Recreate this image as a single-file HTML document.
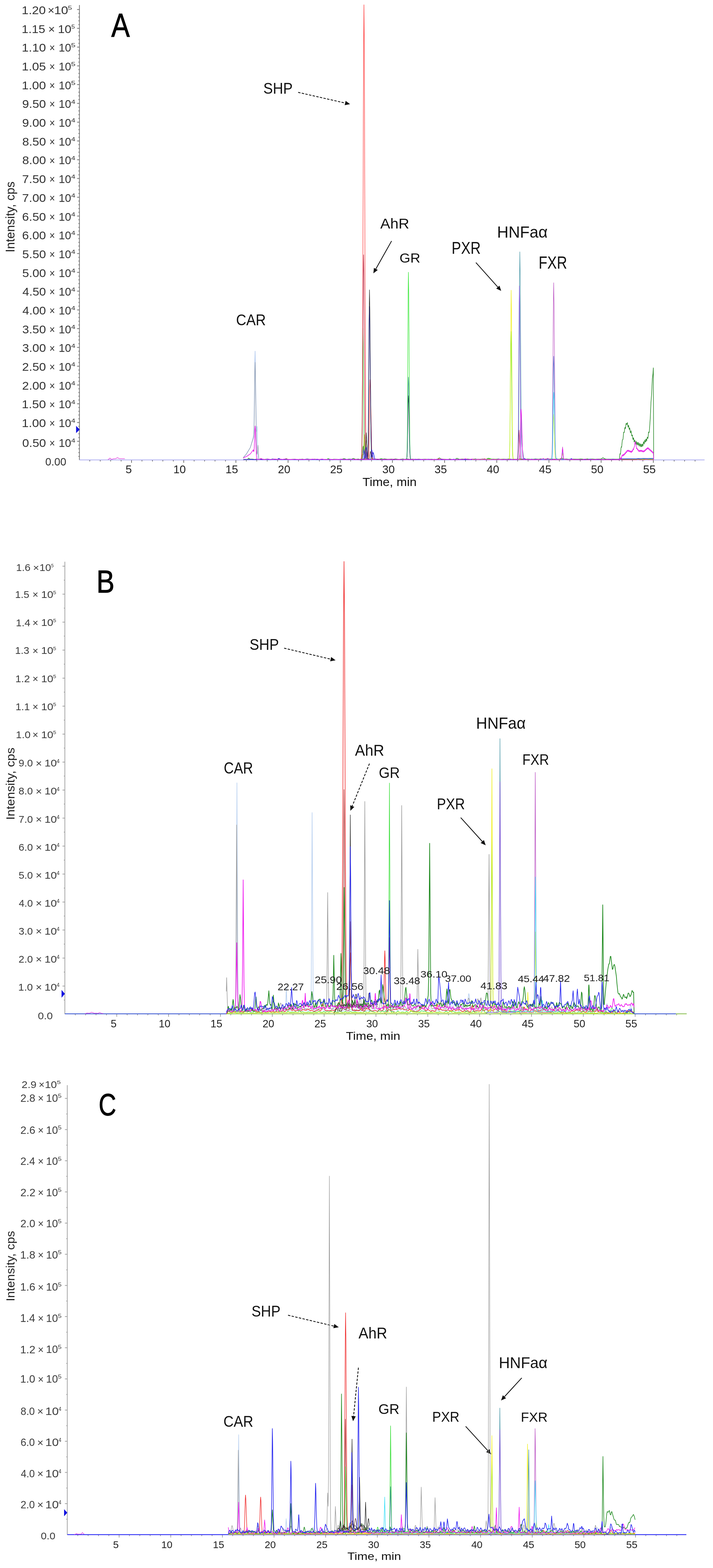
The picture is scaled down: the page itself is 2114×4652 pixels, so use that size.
<!DOCTYPE html>
<html><head><meta charset="utf-8"><title>Chromatograms</title>
<style>
html,body{margin:0;padding:0;background:#fff;overflow:hidden;width:2114px;height:4652px;}
svg{display:block;}
text{font-family:"Liberation Sans",Arial,sans-serif;}
.tk{font-family:"DejaVu Sans","Liberation Sans",sans-serif;}
</style></head><body>
<svg width="2114" height="4652" viewBox="0 0 2114 4652">
<rect width="2114" height="4652" fill="#fff"/>
<g stroke="#666" stroke-width="2">
<path d="M235.5 15V1365"/>
<path d="M228.5 1309.3H235.5M228.5 1253.6H235.5M228.5 1197.9H235.5M228.5 1142.2H235.5M228.5 1086.5H235.5M228.5 1030.8H235.5M228.5 975.1H235.5M228.5 919.4H235.5M228.5 863.7H235.5M228.5 808H235.5M228.5 752.3H235.5M228.5 696.6H235.5M228.5 641H235.5M228.5 585.3H235.5M228.5 529.6H235.5M228.5 473.9H235.5M228.5 418.2H235.5M228.5 362.5H235.5M228.5 306.8H235.5M228.5 251.1H235.5M228.5 195.4H235.5M228.5 139.7H235.5M228.5 84H235.5M228.5 28.3H235.5M232.5 1353.9H235.5M232.5 1342.7H235.5M232.5 1331.6H235.5M232.5 1320.4H235.5M232.5 1298.2H235.5M232.5 1287H235.5M232.5 1275.9H235.5M232.5 1264.7H235.5M232.5 1242.5H235.5M232.5 1231.3H235.5M232.5 1220.2H235.5M232.5 1209.1H235.5M232.5 1186.8H235.5M232.5 1175.6H235.5M232.5 1164.5H235.5M232.5 1153.4H235.5M232.5 1131.1H235.5M232.5 1119.9H235.5M232.5 1108.8H235.5M232.5 1097.7H235.5M232.5 1075.4H235.5M232.5 1064.2H235.5M232.5 1053.1H235.5M232.5 1042H235.5M232.5 1019.7H235.5M232.5 1008.5H235.5M232.5 997.4H235.5M232.5 986.3H235.5M232.5 964H235.5M232.5 952.9H235.5M232.5 941.7H235.5M232.5 930.6H235.5M232.5 908.3H235.5M232.5 897.2H235.5M232.5 886H235.5M232.5 874.9H235.5M232.5 852.6H235.5M232.5 841.5H235.5M232.5 830.3H235.5M232.5 819.2H235.5M232.5 796.9H235.5M232.5 785.8H235.5M232.5 774.6H235.5M232.5 763.5H235.5M232.5 741.2H235.5M232.5 730.1H235.5M232.5 718.9H235.5M232.5 707.8H235.5M232.5 685.5H235.5M232.5 674.4H235.5M232.5 663.2H235.5M232.5 652.1H235.5M232.5 629.8H235.5M232.5 618.7H235.5M232.5 607.5H235.5M232.5 596.4H235.5M232.5 574.1H235.5M232.5 563H235.5M232.5 551.8H235.5M232.5 540.7H235.5M232.5 518.4H235.5M232.5 507.3H235.5M232.5 496.1H235.5M232.5 485H235.5M232.5 462.7H235.5M232.5 451.6H235.5M232.5 440.4H235.5M232.5 429.3H235.5M232.5 407H235.5M232.5 395.9H235.5M232.5 384.8H235.5M232.5 373.6H235.5M232.5 351.3H235.5M232.5 340.2H235.5M232.5 329.1H235.5M232.5 317.9H235.5M232.5 295.6H235.5M232.5 284.5H235.5M232.5 273.4H235.5M232.5 262.2H235.5M232.5 239.9H235.5M232.5 228.8H235.5M232.5 217.7H235.5M232.5 206.5H235.5M232.5 184.2H235.5M232.5 173.1H235.5M232.5 162H235.5M232.5 150.8H235.5M232.5 128.6H235.5M232.5 117.4H235.5M232.5 106.3H235.5M232.5 95.1H235.5M232.5 72.9H235.5M232.5 61.7H235.5M232.5 50.6H235.5M232.5 39.4H235.5"/>
</g>
<path d="M390 1365V1373M544.7 1365V1373M699.4 1365V1373M854.1 1365V1373M1008.8 1365V1373M1163.5 1365V1373M1318.2 1365V1373M1472.9 1365V1373M1627.6 1365V1373M1782.3 1365V1373M1937 1365V1373M266.2 1365V1369M297.2 1365V1369M328.1 1365V1369M359.1 1365V1369M420.9 1365V1369M451.9 1365V1369M482.8 1365V1369M513.8 1365V1369M575.6 1365V1369M606.6 1365V1369M637.5 1365V1369M668.5 1365V1369M730.3 1365V1369M761.3 1365V1369M792.2 1365V1369M823.2 1365V1369M885 1365V1369M916 1365V1369M946.9 1365V1369M977.9 1365V1369M1039.7 1365V1369M1070.7 1365V1369M1101.6 1365V1369M1132.6 1365V1369M1194.4 1365V1369M1225.4 1365V1369M1256.3 1365V1369M1287.3 1365V1369M1349.1 1365V1369M1380.1 1365V1369M1411 1365V1369M1442 1365V1369M1503.8 1365V1369M1534.8 1365V1369M1565.7 1365V1369M1596.7 1365V1369M1658.5 1365V1369M1689.5 1365V1369M1720.4 1365V1369M1751.4 1365V1369M1813.2 1365V1369M1844.2 1365V1369M1875.1 1365V1369M1906.1 1365V1369M1967.9 1365V1369M1998.9 1365V1369M2029.8 1365V1369M2060.8 1365V1369" stroke="#666" stroke-width="2"/>
<path d="M235.5 1364.5H2089" stroke="#a4a4f0" stroke-width="2.2"/>
<g fill="#333"><text x="66" y="1325.8" font-size="33.5" textLength="70.4" lengthAdjust="spacingAndGlyphs">0.50</text><text x="146.4" y="1326" font-size="32.9" textLength="16.5" lengthAdjust="spacingAndGlyphs">×</text><text x="173.9" y="1325.8" font-size="33.5" textLength="37" lengthAdjust="spacingAndGlyphs">10</text><text x="211.1" y="1313.1" font-size="17.2" textLength="12.3" lengthAdjust="spacingAndGlyphs">4</text><text x="64.6" y="1267.1" font-size="33.5" textLength="71.7" lengthAdjust="spacingAndGlyphs">1.00</text><text x="146.4" y="1267.3" font-size="32.9" textLength="16.5" lengthAdjust="spacingAndGlyphs">×</text><text x="173.9" y="1267.1" font-size="33.5" textLength="37" lengthAdjust="spacingAndGlyphs">10</text><text x="211.1" y="1254.4" font-size="17.2" textLength="12.3" lengthAdjust="spacingAndGlyphs">4</text><text x="64.6" y="1211.4" font-size="33.5" textLength="71.7" lengthAdjust="spacingAndGlyphs">1.50</text><text x="146.4" y="1211.6" font-size="32.9" textLength="16.5" lengthAdjust="spacingAndGlyphs">×</text><text x="173.9" y="1211.4" font-size="33.5" textLength="37" lengthAdjust="spacingAndGlyphs">10</text><text x="211.1" y="1198.7" font-size="17.2" textLength="12.3" lengthAdjust="spacingAndGlyphs">4</text><text x="65.6" y="1155.7" font-size="33.5" textLength="70.7" lengthAdjust="spacingAndGlyphs">2.00</text><text x="146.4" y="1155.9" font-size="32.9" textLength="16.5" lengthAdjust="spacingAndGlyphs">×</text><text x="173.9" y="1155.7" font-size="33.5" textLength="37" lengthAdjust="spacingAndGlyphs">10</text><text x="211.1" y="1143" font-size="17.2" textLength="12.3" lengthAdjust="spacingAndGlyphs">4</text><text x="65.6" y="1100" font-size="33.5" textLength="70.7" lengthAdjust="spacingAndGlyphs">2.50</text><text x="146.4" y="1100.2" font-size="32.9" textLength="16.5" lengthAdjust="spacingAndGlyphs">×</text><text x="173.9" y="1100" font-size="33.5" textLength="37" lengthAdjust="spacingAndGlyphs">10</text><text x="211.1" y="1087.3" font-size="17.2" textLength="12.3" lengthAdjust="spacingAndGlyphs">4</text><text x="66" y="1044.3" font-size="33.5" textLength="70.3" lengthAdjust="spacingAndGlyphs">3.00</text><text x="146.4" y="1044.5" font-size="32.9" textLength="16.5" lengthAdjust="spacingAndGlyphs">×</text><text x="173.9" y="1044.3" font-size="33.5" textLength="37" lengthAdjust="spacingAndGlyphs">10</text><text x="211.1" y="1031.6" font-size="17.2" textLength="12.3" lengthAdjust="spacingAndGlyphs">4</text><text x="66" y="988.6" font-size="33.5" textLength="70.3" lengthAdjust="spacingAndGlyphs">3.50</text><text x="146.4" y="988.8" font-size="32.9" textLength="16.5" lengthAdjust="spacingAndGlyphs">×</text><text x="173.9" y="988.6" font-size="33.5" textLength="37" lengthAdjust="spacingAndGlyphs">10</text><text x="211.1" y="975.9" font-size="17.2" textLength="12.3" lengthAdjust="spacingAndGlyphs">4</text><text x="66.6" y="932.9" font-size="33.5" textLength="69.7" lengthAdjust="spacingAndGlyphs">4.00</text><text x="146.4" y="933.1" font-size="32.9" textLength="16.5" lengthAdjust="spacingAndGlyphs">×</text><text x="173.9" y="932.9" font-size="33.5" textLength="37" lengthAdjust="spacingAndGlyphs">10</text><text x="211.1" y="920.2" font-size="17.2" textLength="12.3" lengthAdjust="spacingAndGlyphs">4</text><text x="66.6" y="877.3" font-size="33.5" textLength="69.7" lengthAdjust="spacingAndGlyphs">4.50</text><text x="146.4" y="877.4" font-size="32.9" textLength="16.5" lengthAdjust="spacingAndGlyphs">×</text><text x="173.9" y="877.3" font-size="33.5" textLength="37" lengthAdjust="spacingAndGlyphs">10</text><text x="211.1" y="864.5" font-size="17.2" textLength="12.3" lengthAdjust="spacingAndGlyphs">4</text><text x="66" y="821.6" font-size="33.5" textLength="70.4" lengthAdjust="spacingAndGlyphs">5.00</text><text x="146.4" y="821.7" font-size="32.9" textLength="16.5" lengthAdjust="spacingAndGlyphs">×</text><text x="173.9" y="821.6" font-size="33.5" textLength="37" lengthAdjust="spacingAndGlyphs">10</text><text x="211.1" y="808.8" font-size="17.2" textLength="12.3" lengthAdjust="spacingAndGlyphs">4</text><text x="66" y="765.9" font-size="33.5" textLength="70.4" lengthAdjust="spacingAndGlyphs">5.50</text><text x="146.4" y="766" font-size="32.9" textLength="16.5" lengthAdjust="spacingAndGlyphs">×</text><text x="173.9" y="765.9" font-size="33.5" textLength="37" lengthAdjust="spacingAndGlyphs">10</text><text x="211.1" y="753.1" font-size="17.2" textLength="12.3" lengthAdjust="spacingAndGlyphs">4</text><text x="65.6" y="710.2" font-size="33.5" textLength="70.7" lengthAdjust="spacingAndGlyphs">6.00</text><text x="146.4" y="710.3" font-size="32.9" textLength="16.5" lengthAdjust="spacingAndGlyphs">×</text><text x="173.9" y="710.2" font-size="33.5" textLength="37" lengthAdjust="spacingAndGlyphs">10</text><text x="211.1" y="697.4" font-size="17.2" textLength="12.3" lengthAdjust="spacingAndGlyphs">4</text><text x="65.6" y="654.5" font-size="33.5" textLength="70.7" lengthAdjust="spacingAndGlyphs">6.50</text><text x="146.4" y="654.6" font-size="32.9" textLength="16.5" lengthAdjust="spacingAndGlyphs">×</text><text x="173.9" y="654.5" font-size="33.5" textLength="37" lengthAdjust="spacingAndGlyphs">10</text><text x="211.1" y="641.8" font-size="17.2" textLength="12.3" lengthAdjust="spacingAndGlyphs">4</text><text x="65.6" y="598.8" font-size="33.5" textLength="70.7" lengthAdjust="spacingAndGlyphs">7.00</text><text x="146.4" y="598.9" font-size="32.9" textLength="16.5" lengthAdjust="spacingAndGlyphs">×</text><text x="173.9" y="598.8" font-size="33.5" textLength="37" lengthAdjust="spacingAndGlyphs">10</text><text x="211.1" y="586.1" font-size="17.2" textLength="12.3" lengthAdjust="spacingAndGlyphs">4</text><text x="65.6" y="543.1" font-size="33.5" textLength="70.7" lengthAdjust="spacingAndGlyphs">7.50</text><text x="146.4" y="543.2" font-size="32.9" textLength="16.5" lengthAdjust="spacingAndGlyphs">×</text><text x="173.9" y="543.1" font-size="33.5" textLength="37" lengthAdjust="spacingAndGlyphs">10</text><text x="211.1" y="530.4" font-size="17.2" textLength="12.3" lengthAdjust="spacingAndGlyphs">4</text><text x="65.9" y="487.4" font-size="33.5" textLength="70.4" lengthAdjust="spacingAndGlyphs">8.00</text><text x="146.4" y="487.5" font-size="32.9" textLength="16.5" lengthAdjust="spacingAndGlyphs">×</text><text x="173.9" y="487.4" font-size="33.5" textLength="37" lengthAdjust="spacingAndGlyphs">10</text><text x="211.1" y="474.7" font-size="17.2" textLength="12.3" lengthAdjust="spacingAndGlyphs">4</text><text x="65.9" y="431.7" font-size="33.5" textLength="70.4" lengthAdjust="spacingAndGlyphs">8.50</text><text x="146.4" y="431.8" font-size="32.9" textLength="16.5" lengthAdjust="spacingAndGlyphs">×</text><text x="173.9" y="431.7" font-size="33.5" textLength="37" lengthAdjust="spacingAndGlyphs">10</text><text x="211.1" y="419" font-size="17.2" textLength="12.3" lengthAdjust="spacingAndGlyphs">4</text><text x="65.7" y="376" font-size="33.5" textLength="70.6" lengthAdjust="spacingAndGlyphs">9.00</text><text x="146.4" y="376.1" font-size="32.9" textLength="16.5" lengthAdjust="spacingAndGlyphs">×</text><text x="173.9" y="376" font-size="33.5" textLength="37" lengthAdjust="spacingAndGlyphs">10</text><text x="211.1" y="363.3" font-size="17.2" textLength="12.3" lengthAdjust="spacingAndGlyphs">4</text><text x="65.7" y="320.3" font-size="33.5" textLength="70.6" lengthAdjust="spacingAndGlyphs">9.50</text><text x="146.4" y="320.4" font-size="32.9" textLength="16.5" lengthAdjust="spacingAndGlyphs">×</text><text x="173.9" y="320.3" font-size="33.5" textLength="37" lengthAdjust="spacingAndGlyphs">10</text><text x="211.1" y="307.6" font-size="17.2" textLength="12.3" lengthAdjust="spacingAndGlyphs">4</text><text x="64.6" y="264.6" font-size="33.5" textLength="71.7" lengthAdjust="spacingAndGlyphs">1.00</text><text x="146.4" y="264.8" font-size="32.9" textLength="16.5" lengthAdjust="spacingAndGlyphs">×</text><text x="173.9" y="264.6" font-size="33.5" textLength="37" lengthAdjust="spacingAndGlyphs">10</text><text x="210.7" y="251.7" font-size="17" textLength="13.1" lengthAdjust="spacingAndGlyphs">5</text><text x="64.6" y="208.9" font-size="33.5" textLength="71.8" lengthAdjust="spacingAndGlyphs">1.05</text><text x="146.4" y="209.1" font-size="32.9" textLength="16.5" lengthAdjust="spacingAndGlyphs">×</text><text x="173.9" y="208.9" font-size="33.5" textLength="37" lengthAdjust="spacingAndGlyphs">10</text><text x="210.7" y="196" font-size="17" textLength="13.1" lengthAdjust="spacingAndGlyphs">5</text><text x="64.6" y="153.2" font-size="33.5" textLength="71.7" lengthAdjust="spacingAndGlyphs">1.10</text><text x="146.4" y="153.4" font-size="32.9" textLength="16.5" lengthAdjust="spacingAndGlyphs">×</text><text x="173.9" y="153.2" font-size="33.5" textLength="37" lengthAdjust="spacingAndGlyphs">10</text><text x="210.7" y="140.3" font-size="17" textLength="13.1" lengthAdjust="spacingAndGlyphs">5</text><text x="64.3" y="97.5" font-size="34" textLength="69.8" lengthAdjust="spacingAndGlyphs">1.15</text><text x="143" y="97.7" font-size="32.9" textLength="19.9" lengthAdjust="spacingAndGlyphs">×</text><text x="171.7" y="97.5" font-size="33.5" textLength="39.9" lengthAdjust="spacingAndGlyphs">10</text><text x="211.4" y="84.6" font-size="17" textLength="10.7" lengthAdjust="spacingAndGlyphs">5</text><text x="64.3" y="41.8" font-size="33.5" textLength="71.3" lengthAdjust="spacingAndGlyphs">1.20</text><text x="141.5" y="42" font-size="32.9" textLength="19.9" lengthAdjust="spacingAndGlyphs">×</text><text x="160.6" y="41.8" font-size="33.5" textLength="41.5" lengthAdjust="spacingAndGlyphs">10</text><text x="201.3" y="28.9" font-size="17" textLength="12.4" lengthAdjust="spacingAndGlyphs">5</text><text x="134.3" y="1380.6" font-size="32.2" textLength="62.3" lengthAdjust="spacingAndGlyphs">0.00</text></g>
<g fill="#222"><text x="372.2" y="1403.9" font-size="33.7" textLength="18.7" lengthAdjust="spacingAndGlyphs">5</text><text x="514.1" y="1403.9" font-size="33.2" textLength="36.9" lengthAdjust="spacingAndGlyphs">10</text><text x="668.6" y="1403.9" font-size="33.7" textLength="37.5" lengthAdjust="spacingAndGlyphs">15</text><text x="824" y="1403.9" font-size="33.2" textLength="36.9" lengthAdjust="spacingAndGlyphs">20</text><text x="978.7" y="1403.9" font-size="33.2" textLength="36.9" lengthAdjust="spacingAndGlyphs">25</text><text x="1133.6" y="1403.9" font-size="33.2" textLength="36.9" lengthAdjust="spacingAndGlyphs">30</text><text x="1288.3" y="1403.9" font-size="33.2" textLength="36.9" lengthAdjust="spacingAndGlyphs">35</text><text x="1443.2" y="1403.9" font-size="33.2" textLength="36.9" lengthAdjust="spacingAndGlyphs">40</text><text x="1597.7" y="1403.9" font-size="33.7" textLength="37.5" lengthAdjust="spacingAndGlyphs">45</text><text x="1752.3" y="1403.9" font-size="33.2" textLength="36.9" lengthAdjust="spacingAndGlyphs">50</text><text x="1906.8" y="1403.9" font-size="33.7" textLength="37.5" lengthAdjust="spacingAndGlyphs">55</text></g>
<text x="1074.8" y="1441.9" font-size="34.9" textLength="160.5" lengthAdjust="spacingAndGlyphs" fill="#111">Time, min</text>
<g transform="translate(44,746) rotate(-90)"><text x="-2.8" y="-0.7" font-size="36.8" textLength="210.4" lengthAdjust="spacingAndGlyphs" fill="#222">Intensity, cps</text></g>
<path d="M225.6 1263.6L236.4 1274.3L225.6 1285Z" fill="#1010e0"/>
<text x="330.1" y="108.7" font-size="98" textLength="54.8" lengthAdjust="spacingAndGlyphs" fill="#000" stroke="#000" stroke-width="1.4">A</text>
<text x="780.7" y="277.9" font-size="46.4" textLength="86.9" lengthAdjust="spacingAndGlyphs" fill="#111">SHP</text>
<text x="1127.5" y="678.4" font-size="42.5" textLength="86" lengthAdjust="spacingAndGlyphs" fill="#111">AhR</text>
<text x="1184.5" y="779" font-size="37.9" textLength="61.8" lengthAdjust="spacingAndGlyphs" fill="#111">GR</text>
<text x="1339.1" y="753.4" font-size="50.6" textLength="86.2" lengthAdjust="spacingAndGlyphs" fill="#111">PXR</text>
<text x="1473.7" y="705.4" font-size="47.7" textLength="149.9" lengthAdjust="spacingAndGlyphs" fill="#111">HNFaα</text>
<text x="1597.1" y="797.4" font-size="52.1" textLength="84.3" lengthAdjust="spacingAndGlyphs" fill="#111">FXR</text>
<text x="699.9" y="964.9" font-size="46.8" textLength="88.4" lengthAdjust="spacingAndGlyphs" fill="#111">CAR</text>
<path d="M884 274L1023.4 305.7" stroke="#111" stroke-width="2.4" stroke-dasharray="7 4"/><path d="M1038 309L1021.9 312L1024.8 299.3Z" fill="#111"/>
<path d="M1161 715L1114.4 797.9" stroke="#111" stroke-width="2.4"/><path d="M1107 811L1108.7 794.7L1120 801.1Z" fill="#111"/>
<path d="M1411 779L1476 851.8" stroke="#111" stroke-width="2.4"/><path d="M1486 863L1471.2 856.1L1480.9 847.5Z" fill="#111"/>
<g fill="none" stroke-linejoin="round"><path d="M320 1363.4l3 -1.3l3 -3.1l3 3.1l2 0.8l5 -1.6l7 -0.5l5 -3.2l5 2.7l2 0.4l15 -0" stroke="#e040e0" stroke-width="1.6"/>
<path d="M721.1 1357.9l9 -11l12 -19l8 -27.3l2 -10.7l1 -23.4l2.5 -199.2l0.8 -25.4l3.7 238.8l0.7 -2.4l0.6 -11l0.7 -2.1l2 74.7l1 19.7l1 3l1 0.3l5 0.1l6 -1l10 1.1l2 -0.8l2 -1.9l3 2.3l2 0.5l6 -0.1l5 -2.6l5 2.1l4 0.6l11 -0.7l10 0.6l7 -1.1l10 1.2l7 -0.4l11 0.4l7 -0.5l7 0.4l5 -0.9l10 1.1l3 -0.3l4 -2.2l2 -0.5l6 2.6l7 -0.8l9 1.2l28 -0.4l17 0.4l5 -0.6l6 0.6l22 -0.5l13 0.5l5 -0.8l9 0.8l6 -0.9l6 0.9l8 -0.7l5 0.7l6 0l7 -1.1l8 1.1l26 -0.1l7 -0.9l10 0.9l13 -0l5 -0.7l6 0.8l6 -0.4l21 0.4l4 -0.5l7 0.4l7 -0.7l8 0.7l8 -0.3l12 0.4l3 -0.2l4 -2l5 1.9l2 0.2l7 -1l11 1.1l35 0l4 -1.1l6 1.2l14 -0.5l13 0.5l7 -1.1l11 1.1l14 -0.5l18 0.5l8 -1l9 0.9l8 -0l5 -0.7l5 0.7l9 0.1l8 -1.1l8 1l16 -0.6l16 0.6l4 -0.5l4 -2.4l5 2.6l4 0.3l8 -0.1l6 -0.7l8 0.7l4 -0.8l6 0.9l14 -0l7 -0.6l9 0.6l14 -0.6l20 0.6l6 -0.7l4 0.7l7 0.1l9 -1l10 1l6 -0.6l5 0.6l9 -0l5 -0.6l7 0.7l27 0l6 -0.8l7 0.7l5 -0.6l5 0.6l24 0l9 -1l11 1l22 0l6 -0.4l14 0.4l6 -0.9l6 0.9l12 0.1l9 -1.1l8 1.1l6 -0l5 -1l8 1.1l13 -0.1l5 -1.1l8 1.1l7 -1l9 0.9l7 -1l10 1.1l8 -0.1l6 -1l7 1l6 -0.6l5 0.4" stroke="#b0c8ee" stroke-width="1.8"/>
<path d="M721.1 1357.9l9 -9.8l12 -20.1l10 -31.1l1 -16.3l1 -48.9l1.6 -134.5l0.8 -22.2l3.7 241.6l1 24.1l1 7.2l2.7 -26.9l2.3 34.4l1 6l1 1.1l5 0.7l25 0.1" stroke="#8a96a8" stroke-width="1.3"/>
<path d="M721.1 1363.4l4 -0.8l14 0.5l5 -0.8l7 0.8l31 -0l7 -1l8 1l40 -0.4l26 0.4l9 -0.8l12 0.8l5 -0.8l5 0.8l27 -0.4l46 0.4l3 -0.6l2 -2.2l1 -0.4l3 2.4l3 0.7l6 -0.1l5 -0.8l7 0.8l13 0l4 -0.8l5 0.7l11 0l4 -1.1l5 1.1l31 -0.2l1 -1.5l1 -10.6l1 -44.5l2.9 -332.3l0.8 45.7l2.2 266.3l1 54.6l1 17.8l1 3.9l1 0.5l4 -0.3l8 0.7l8 -0l5 -0.7l5 0.7l9 0l3 -0.4l5 -2l8 2.1l4 0.3l9 -0.5l5 0.5l13 -0.4l15 0.4l5 -1.1l7 1.1l8 -0.1l1 -0.6l1 -4.2l1 -22.1l1 -75.7l2.1 -387.3l0.8 -65.2l1 65.1l3.1 432.9l1 40.8l1 12.7l1 3l1 0.6l5 0.2l13 -0.5l7 0.5l18 -0.5l15 0.5l5 -0.6l12 0.6l5 -0.9l6 0.9l18 -0.6l8 0.5l37 0l7 -0.9l6 0.8l13 0l4 -0.1l5 -1l9 1.1l7 -0.4l23 0.4l4 -0.5l4 -2.2l2 -0.4l6 2.4l3 0.5l7 -0.5l13 0.6l28 -0.4l1 -2.8l1 -15l1 -51.7l2.1 -264.7l0.8 -44.6l1 44.3l3.1 295.5l1 28.1l1 8.8l1 2l2 0.4l19 -0l6 -0.7l6 0.7l9 0l5 -0.8l4 0.7l6 0l9 -1.1l12 1.1l11 -0.5l11 0.5l7 -1l9 1l10 -0l6 -0.6l17 0.6l7 -1l8 1l27 -0.4l19 0.4l5 -0.7l4 0.7l9 0l7 -1l6 1l49 -0l5 -0.6l6 0.6l36 0l8 -0.7l9 0.7l12 -0l4 -0.5l6 0.5l12 -0.4l11 0.5l7 -0.9l10 0.9" stroke="#3ae83a" stroke-width="1.5"/>
<path d="M721.1 1364l12 -0.9l1 -0.4l3 -3.4l5 3.3l6 -0.5l8 0.9l5 -0.9l6 1l7 -1.3l8 1.3l14 -0.5l6 0.4l5 -0.6l10 0.7l9 -1.3l8 1.2l9 0.1l2 -0.4l3 -2.3l5 2.4l3 0.3l11 -0.6l24 0.6l5 -0.9l7 0.8l8 -0.6l18 0.6l4 -0.8l6 0.8l15 -0.4l15 0.4l6 -1.1l5 1.1l17 -0.4l14 0.4l3 -0.3l6 -2.2l6 2l4 0.4l6 -0.9l6 0.5l5 -2.6l7 2.9l8 -1l5 1l4 0.1l1 -0.3l1 -1.5l1 -5.3l2.1 -27.3l0.8 -4.7l1.1 4.1l3 26.1l1 1.5l2.2 -14.3l0.8 -2.4l0.9 3l3.1 18.1l1 2.1l2 0.9l9 -0.7l6 0.6l8 -0.6l8 0.5l6 -0.9l6 0.6l5 -1l8 1.3l13 -0.6l6 0.5l5 -1l7 1.1l11 0.1l4 -1.2l6 1.2l6 -1.2l10 1.3l8 -0.7l5 0.7l6 0l6 -0.9l6 0.9l13 -0.6l10 0.6l9 -0.5l4 0.5l11 0l3 -0.5l5 -3.8l2 0.5l5 3.1l14 0.7l6 -0.1l4 -1.3l5 1.3l11 -0l2 -0.6l3 -2.5l1 -0.2l5 2.7l3 0.5l7 -0.8l7 0.8l9 -0.8l7 0.7l12 0l4 -1.4l4 1.4l11 -0l7 -1l10 1l2 -0.4l4 -2.8l6 2.9l3 0.4l6 -0.7l8 0.6l5 -0.7l7 0.7l10 -0.5l10 0.5l7 -1.1l8 1.1l21 -0.1l4 -0.9l7 1.1l11 -0l4 -1l5 1l12 -0.1l6 -1l9 1l7 -1.2l7 1.2l5 -0.1l6 -1.1l9 1.1l5 -1.3l6 1.3l6 -0.3l10 0.5l4 -0.9l4 -3l2 0.6l4 2.7l3 0.4l5 -0.8l5 0.8l15 -0.4l15 0.4l8 -0.9l7 0.8l8 0.1l4 -1.2l5 1.2l8 -0.7l11 0.7l7 -0.7l9 0.3l6 -3.8l2 0.4l5 2.8l4 0.9l37 -0l1 4.5l2 -20.8l1 1.6l1 -3.9l1 -13.2l1 -5.3l1 1.6l2 -20.8l1 -1.9l1 -0.2l2 -21.6l1 1l1 -0.8l1 -10.7l1 -4.1l1 4.1l1 -4.6l1 -10.6l1 -0.4l1 3.3l2 -5.9l2 13.7l1 -5l1 0.2l1 9.5l1 2l1 -4.5l2 14.5l1 -1.7l1 -4.3l2 15.4l1 -2.7l1 0.1l1 10l1 3.4l1 -5.4l1 2.9l1 9.3l1 -0.8l1 -4.6l2 11.4l2 -8.3l1 7.6l1 2.8l1 -6.8l1 0.3l1 7.8l1 -1.3l1 -6.5l2 11l2 -8.4l2 10.4l1 -6.8l1 -1.1l1 7.7l1 -0.4l1 -7.4l1 0.8l1 5l2 -13.1l2 6.9l1 -8.1l1 -3.8l1 6.3l1 -0.6l1 -8.6l1 0.3l1 6l2 -12l1 3.4l1 0.4l2 -19l1 2.4l1 -3.1l1 -13l2 -28.8l2 -45.5l2 -25.4l2 -44.4l2 -16.3l1 -16.1l1 271.1" stroke="#2a8a2a" stroke-width="1.7"/>
<path d="M721.1 1364l9 -1.3l6 0.5l18 0l4 -0.7l4 0.7l12 0l6 -0.8l6 0.7l19 0l9 -0.9l10 0.9l6 -0.6l5 0.6l11 -0l5 -0.8l8 0.8l20 -0.4l26 0.4l5 -0.6l6 0.6l24 -0l7 -0.5l24 0.6l7 -0.6l6 0.6l11 -0.5l8 0.5l21 -0.4l24 0.4l6 -0.8l4 0.7l8 0.1l3 -0.2l1 -0.6l1 -2.8l1 -10.7l1 -33.7l1 -86.2l1 -176.4l2.8 -880l1.2 -158.5l1.1 135.5l2 656.2l2 437.1l1 78l1 29.7l1 9.1l1 2.2l3 0.7l1 -1.6l1 -9.2l1 -32.2l2.1 -165.5l0.8 -27.9l1.2 27.9l3.9 183.6l1 15.9l1 6.7l1 2.3l1 0.7l63 0.2l5 -0.5l3 0.5l9 0l7 -0.9l6 0.9l36 0l9 -0.9l9 0.9l11 -0.7l9 0.7l21 0l3 -0.7l3 -2.3l5 2.7l4 0.3l11 -0l6 -0.6l10 0.6l6 -0.7l7 0.7l13 0.1l5 -0.7l5 0.7l13 -0.5l19 0.5l5 -0.7l5 0.6l18 0l2 -0.4l2 -2.2l1 -0.2l3 2.4l3 0.4l7 -0l5 -0.7l7 0.7l18 -0l6 -0.7l10 0.7l17 -0l7 -0.6l9 0.7l10 -0.4l10 0.4l53 0l5 -0.9l6 1l49 -0l7 -0.7l12 0.7l67 0l8 -0.5l9 0.5l7 -0.4l8 0.4l53 0l5 -0.9l7 0.9l42 -0l4 -0.8l5 0.8l13 0l7 -1l6 0.9l16 0.1" stroke="#ff3030" stroke-width="1.4"/>
<path d="M1060 1364l7 -1l3 -1.4l1 -1.1l1 -5.2l1 -19.6l1 -55.2l1 -114.7l2 -338.5l1 -71.3l1 71.4l3 453.7l1 55.5l1 19.9l1 5.4l1 1.1l24 0.2" stroke="#b03050" stroke-width="1.3"/>
<path d="M721.1 1364l5 -1l13 0.3l6 -0.6l4 0.6l11 0l8 -0.8l9 0.8l18 -0.4l7 0.4l8 -1l11 1.1l2 -0.3l3 -2.9l1 -0.3l4 2.9l4 0.6l12 -0.7l9 0.7l8 -0.6l8 0.6l30 0l4 -0.7l6 0.7l16 -0.5l10 0.5l33 -0.4l17 0.4l7 -0.9l9 0.8l5 -1l9 1l6 -0.4l10 0.4l5 -1l5 1l33 -0.1l2 -1.4l1 -4.1l2.2 -24.8l0.8 -3.8l3.1 29.9l1 3.4l1 0.7l1 -0.8l1 -5.6l1 -24.2l1 -70.7l2.1 -299.2l0.8 -53.4l1.1 36.1l3 283.6l2 104.1l1 18.1l1 5.3l3 -14.2l1.2 2.6l2.8 13l1 2.9l2 2.3l3 0.3l5 -0.7l7 0.8l42 0l4 -0.5l18 0.5l9 -0.9l10 0.9l35 0l7 -0.5l8 0.5l9 -1.1l9 1.1l9 -0.9l9 0.9l42 0l6 -1l8 1l53 -0l7 -0.8l7 0.8l11 0.1l6 -0.9l6 0.8l17 -0.4l11 0.4l7 -0.9l8 0.9l5 -0.1l3 -0.8l4 0.8l47 -0l4 -0.5l5 -2.4l7 2.6l5 0.3l6 -0.1l4 -1.1l6 1.1l6 -1l5 0.9l5 0.1l5 -1.1l6 1.2l28 -0l4 -0.6l6 0.6l11 -0.4l11 0.5l7 -0.9l6 0.8l7 0.1l2 -0.5l2 -2.2l1 -0.2l4 2.7l3 0.3l40 -0l8 -1.1l8 1.1l9 -0.4l30 0.4l7 -1l8 0.8l5 -0.8l9 0.9l10 -0.9l5 -1.2l47 -0.4l6 -0.5l6 0.3l8 -0.7l11 0.4l18 -0.4l1 0.2l1 1.6" stroke="#2828e8" stroke-width="1.7"/>
<path d="M1070 1364l10 -0.8l1 -0.3l1 -2l1 -8.5l3 -68.5l3 68.2l1 7.1l1 -6.5l1 -36.2l1 -102.4l1.7 -295.3l0.8 -59l1.1 59.2l3.4 381.9l1 40l1 15.7l1 4.9l1 1.2l2 0.3l90 0l9 -0.3l1 -1.2l1 -6.8l1 -24.3l2.2 -134.3l0.8 -22.2l1 24.5l2 110.3l1 33.8l1 14.7l1 4.6l1 1.1l12 0.2" stroke="#202020" stroke-width="1.3"/>
<path d="M1065 1363.6l2 -0.9l4 0.3l1 -0.7l1 -3.9l2 -14.5l1.2 5.8l0.8 1.3l3 -61.9l0.8 8.7l2.2 52.6l1 9.4l1 2.5l8 0.9l22 0" stroke="#a8a020" stroke-width="1.4"/>
<path d="M1065 1364l7 -0.9l4 -1.2l5 1.1l1 -0.9l1 -5.1l3 -55l0.9 7.2l2.1 38.7l1 10l1 3.6l1 0.5l2 -1l1 -2.2l3 -19.9l1 2.9l2 13.5l2 6.8l2 0.9l4 -1.3l6 1.4" stroke="#5a4a3a" stroke-width="1.4"/>
<path d="M1065 1364l9 -1l1 -0.3l1 -1.8l3 -26.9l3 26.2l1 -3.1l2.5 -31.1l0.8 4.3l1.8 23.2l1 6.6l1 1.8l7 0.8l1 -0.6l1 -3l3 -25.1l1 2.9l2 14.8l2 9.3l2 2l6 0.2" stroke="#3030e0" stroke-width="1.4"/>
<path d="M1190 1364l6 -0.8l9 -0.2l1 -1.6l1 -8.9l1 -31.4l2.2 -173.4l0.8 -28.7l1 28.7l2 136.2l1 46.2l1 22.2l1 7.9l1 2l12 1.1" stroke="#3a8a9a" stroke-width="1.3"/>
<path d="M1400 1364l6 -1.5l7 0.7l28 -0l6 -0.6l15 0.6l5 -0.6l5 0.6l35 0l2 -0.1l1 -1.2l1 -8.3l1 -36.3l3.5 -456.3l1 59l2.5 351.1l1 61.7l1 22.8l1 6.2l1 1.2l2 0.2l30 -0l4 -0.4l17 0.4l7 -0.5l7 0.5l42 0l3 -0.5l1 -2.3l1 -8.5l1 -22.1l2.1 -85l0.9 -15.8l1.1 15.8l2.9 92.7l1 15.6l1 6.9l1 2.4l2 0.8l6 -0.9l8 0.5l1 -1.5l3 -17.2l3 17.3l1 1.6l20 0.3l5 -0.8l3 0.6" stroke="#f0f020" stroke-width="1.5"/>
<path d="M1490 1364l6 -0.8l38 -0.1l1 -0.6l1 -4.1l1 -20.3l1 -68.2l2.5 -449.1l0.8 -73.7l1 68.2l2.7 408.5l1 64.4l1 25.3l1 10.5l4 29.5l1 4.4l2 4.2l2 1l2 0.1l24 -0l8 -0.6l9 0.6" stroke="#4a98a8" stroke-width="1.4"/>
<path d="M1490 1364l6 -0.8l21 -0l4 -0.9l4 0.8l8 -0l1 -0.9l1 -5.8l1 -25.5l1 -76.2l2.2 -346.1l0.8 -60.5l1 60.5l3 384.9l1 47.1l1 16.9l1 4.6l1 0.9l1 0.1l51 0.1" stroke="#7848e0" stroke-width="1.3"/>
<path d="M1520 1364l6 -0.8l7 -0l1 -0.3l1 -2.1l1 -9.3l3 -75.4l3 74.5l1 9.5l1 2.5l1 0.5l15 0.2" stroke="#a02860" stroke-width="1.3"/>
<path d="M1600 1364l6 -0.8l28 -0.1l1 -0.6l1 -3.5l1 -15.9l1 -50.9l2.7 -391.7l0.9 -61.6l1.1 61.6l3.3 391.7l1 45.2l1 18.2l1 5.8l1 1.5l7 0.3l7 -0.7l1 -2.1l1 -8.7l2 -25.7l2 25.8l1 8.8l1 2.3l28 0.3" stroke="#c060c8" stroke-width="1.5"/>
<path d="M1600 1364l13 -1.7l6 0.8l15 -0l1 -0.3l1 -2.1l1 -9.3l1 -29.7l2.7 -228.8l0.9 -36l1.1 36l3.3 228.4l1 25.7l1 9.6l1 2.6l4 3.2l2 0.6l45 0.1" stroke="#4878d0" stroke-width="1.3"/>
<path d="M1600 1364l6 -0.8l29 -0.1l1 -0.7l1 -3.4l1 -12.7l1 -32.8l2.1 -126.1l0.9 -23.4l1.1 23.4l2.9 137.6l1 23.1l1 10.2l1 3.6l2 1.2l13 -0.3l1 -1.7l1 -6.4l2 -18.7l2 18.8l1 6.4l1 1.7l28 0.3" stroke="#40e0f8" stroke-width="1.3"/>
<path d="M721.1 1359.8l4 -3.2l6 -2.4l11 -7.4l9 -12.2l1 5.6l1 -2l1 -14.8l1.5 -47.9l0.9 -11.6l0.9 11.7l2.7 73.4l1 10.1l1 3.2l2 0.9l6 -0.2l3 -2.6l1 -0.2l4 2.5l4 0.4l7 -0.1l5 -1.1l8 1.1l7 0.1l6 -1.3l9 1.3l8 -0.7l6 0.5l6 -1l11 1.2l7 -0.3l7 0.4l5 -0.9l6 0.9l12 -0.4l9 0.4l4 -0.7l5 0.7l9 0l9 -1.1l7 0.9l5 -1l7 1.2l8 -1.3l6 1.2l4 0.2l8 -0.1l4 -1l6 1.1l12 -0.5l12 0.5l5 -1.1l7 1.1l20 0l4 -0.9l5 0.9l19 0l5 -1l5 1l24 0l8 -0.8l6 0.5l5 -1.1l6 1.2l4 0.2l9 -0.5l7 0.5l6 -0.4l9 0.5l7 -1.2l4 1l4 0.2l7 -0.1l5 -0.8l7 0.8l7 -0.4l15 0.4l6 -0.6l5 0.5l7 -0.7l18 0.8l14 -0.4l15 0.4l7 -0.8l5 0.8l7 0l8 -1.1l10 1.1l7 -0.7l8 0.8l25 0l9 -0.6l6 0.2l5 -2l2 0.3l4 1.8l3 0.3l5 -0.1l6 -1.4l10 1.5l4 -0l4 -1.1l7 1l5 -1.3l7 1.5l21 -0l7 -0.5l10 0.5l5 -1.1l7 1.2l6 -0.1l3 -0.8l5 0.8l8 0l4 -0.9l7 0.9l5 -1l6 0.9l7 -0l2 -1.3l1 -3.2l1 -10.2l3 -117.1l0.9 -17.3l1.1 17.7l3 104.4l1 16.6l1 7.2l1 2.5l1 0.7l3 0.1l3 -1.3l6 1.4l6 -0.4l16 0.4l7 -0.8l9 0.8l3 -0.6l3 -2.1l2 -0.6l5 2.6l2 0.5l2 -0.5l3 -2.9l1 -0.2l5 3.1l3 0.7l6 -0.2l5 -1.1l11 1.3l8 -0.6l2 -1.1l1 -3.1l2.9 -29.4l3.1 31l1 2.6l1 0.4l5 -1l7 1.1l6 -0.1l6 -0.8l8 0.8l7 -0.8l6 0.8l10 0.1l6 -1.4l7 1.4l12 -0l3 -0.6l8 0.7l8 -1.2l11 1.2l4 -1.1l5 1.1l7 -0.6l10 0.6l25 -0.3l1 0.1l1 2.1l2 -5.7l1 3.6l2 -6.3l1 3l2 -8.9l1 1.9l2 -4.9l1 4.5l2 -5.8l1 3.2l2 -6.6l1 3.2l2 -6.6l1 3.1l2 -6.9l1 3l2 -4.3l1 4.5l2 -3.6l1 4.7l2 -3.5l1 4.7l2 -3.7l1 4.6l2 -5.8l1 2.6l2 -7.7l1 2.6l2 -7.9l1 -1.2l2 -15.4l3 11.1l1 10.1l1 -1.6l1 0.1l1 5.5l1 -1.7l1 0.1l1 5.5l2 -2.9l1 4.2l1 -3.2l1 -1.2l1 3.8l1 -3.4l1 -0.9l1 4.5l1 -2.8l1 -0.5l1 4.4l1 -3.1l1 -0.7l1 4.2l2 -4.9l1 3.2l1 -4.2l1 -1.6l1 3.1l1 -4.4l1 -1.5l1 3.2l1 -4.2l1 -1.2l1 3.3l1 -4.2l1 0.5l1 4.9l1 -2.6l1 0.6l1 4.8l1 -2.7l1 0.6l1 4.8l1 -2.8l1 0.6l1 4.7l1 -2.8l1 0.8l1 4.8l1 -2.7l1 0.7l1 21.7" stroke="#e818e8" stroke-width="1.7"/></g>
<g stroke="#9a9a9a" stroke-width="2">
<path d="M192.3 1666.5V3008.5"/>
<path d="M185.3 2925.4H192.3M185.3 2842.4H192.3M185.3 2759.3H192.3M185.3 2676.3H192.3M185.3 2593.2H192.3M185.3 2510.2H192.3M185.3 2427.2H192.3M185.3 2344.1H192.3M185.3 2261.1H192.3M185.3 2178H192.3M185.3 2094.9H192.3M185.3 2011.9H192.3M185.3 1928.8H192.3M185.3 1845.8H192.3M185.3 1762.8H192.3M185.3 1679.7H192.3M189.3 2967H192.3M189.3 2883.9H192.3M189.3 2800.9H192.3M189.3 2717.8H192.3M189.3 2634.8H192.3M189.3 2551.7H192.3M189.3 2468.7H192.3M189.3 2385.6H192.3M189.3 2302.6H192.3M189.3 2219.5H192.3M189.3 2136.5H192.3M189.3 2053.4H192.3M189.3 1970.4H192.3M189.3 1887.3H192.3M189.3 1804.3H192.3M189.3 1721.2H192.3"/>
</g>
<path d="M346.2 3008.5V3016.5M499.9 3008.5V3016.5M653.6 3008.5V3016.5M807.3 3008.5V3016.5M961 3008.5V3016.5M1114.7 3008.5V3016.5M1268.4 3008.5V3016.5M1422.1 3008.5V3016.5M1575.8 3008.5V3016.5M1729.5 3008.5V3016.5M1883.2 3008.5V3016.5M223.2 3008.5V3012.5M254 3008.5V3012.5M284.7 3008.5V3012.5M315.5 3008.5V3012.5M376.9 3008.5V3012.5M407.7 3008.5V3012.5M438.4 3008.5V3012.5M469.2 3008.5V3012.5M530.6 3008.5V3012.5M561.4 3008.5V3012.5M592.1 3008.5V3012.5M622.9 3008.5V3012.5M684.3 3008.5V3012.5M715.1 3008.5V3012.5M745.8 3008.5V3012.5M776.6 3008.5V3012.5M838 3008.5V3012.5M868.8 3008.5V3012.5M899.5 3008.5V3012.5M930.3 3008.5V3012.5M991.7 3008.5V3012.5M1022.5 3008.5V3012.5M1053.2 3008.5V3012.5M1084 3008.5V3012.5M1145.4 3008.5V3012.5M1176.2 3008.5V3012.5M1206.9 3008.5V3012.5M1237.7 3008.5V3012.5M1299.1 3008.5V3012.5M1329.9 3008.5V3012.5M1360.6 3008.5V3012.5M1391.4 3008.5V3012.5M1452.8 3008.5V3012.5M1483.6 3008.5V3012.5M1514.3 3008.5V3012.5M1545.1 3008.5V3012.5M1606.5 3008.5V3012.5M1637.3 3008.5V3012.5M1668 3008.5V3012.5M1698.8 3008.5V3012.5M1760.2 3008.5V3012.5M1791 3008.5V3012.5M1821.7 3008.5V3012.5M1852.5 3008.5V3012.5M1913.9 3008.5V3012.5M1944.7 3008.5V3012.5M1975.4 3008.5V3012.5M2006.2 3008.5V3012.5" stroke="#9a9a9a" stroke-width="2"/>
<g fill="#3c3c3c"><text x="54.1" y="2938.8" font-size="30" textLength="43.4" lengthAdjust="spacingAndGlyphs">1.0</text><text x="105.8" y="2938.9" font-size="29.3" textLength="18.6" lengthAdjust="spacingAndGlyphs">×</text><text x="131.9" y="2938.8" font-size="30" textLength="36.5" lengthAdjust="spacingAndGlyphs">10</text><text x="167.8" y="2928.2" font-size="16.9" textLength="8.9" lengthAdjust="spacingAndGlyphs">4</text><text x="54.9" y="2855.7" font-size="30" textLength="42.6" lengthAdjust="spacingAndGlyphs">2.0</text><text x="105.8" y="2855.8" font-size="29.3" textLength="18.6" lengthAdjust="spacingAndGlyphs">×</text><text x="131.9" y="2855.7" font-size="30" textLength="36.5" lengthAdjust="spacingAndGlyphs">10</text><text x="167.8" y="2845.2" font-size="16.9" textLength="8.9" lengthAdjust="spacingAndGlyphs">4</text><text x="55.3" y="2772.7" font-size="30" textLength="42.2" lengthAdjust="spacingAndGlyphs">3.0</text><text x="105.8" y="2772.8" font-size="29.3" textLength="18.6" lengthAdjust="spacingAndGlyphs">×</text><text x="131.9" y="2772.7" font-size="30" textLength="36.5" lengthAdjust="spacingAndGlyphs">10</text><text x="167.8" y="2762.2" font-size="16.9" textLength="8.9" lengthAdjust="spacingAndGlyphs">4</text><text x="55.7" y="2689.6" font-size="30" textLength="41.7" lengthAdjust="spacingAndGlyphs">4.0</text><text x="105.8" y="2689.7" font-size="29.3" textLength="18.6" lengthAdjust="spacingAndGlyphs">×</text><text x="131.9" y="2689.6" font-size="30" textLength="36.5" lengthAdjust="spacingAndGlyphs">10</text><text x="167.8" y="2679.1" font-size="16.9" textLength="8.9" lengthAdjust="spacingAndGlyphs">4</text><text x="55.2" y="2606.6" font-size="30" textLength="42.3" lengthAdjust="spacingAndGlyphs">5.0</text><text x="105.8" y="2606.7" font-size="29.3" textLength="18.6" lengthAdjust="spacingAndGlyphs">×</text><text x="131.9" y="2606.6" font-size="30" textLength="36.5" lengthAdjust="spacingAndGlyphs">10</text><text x="167.8" y="2596.1" font-size="16.9" textLength="8.9" lengthAdjust="spacingAndGlyphs">4</text><text x="54.9" y="2523.5" font-size="30" textLength="42.6" lengthAdjust="spacingAndGlyphs">6.0</text><text x="105.8" y="2523.6" font-size="29.3" textLength="18.6" lengthAdjust="spacingAndGlyphs">×</text><text x="131.9" y="2523.5" font-size="30" textLength="36.5" lengthAdjust="spacingAndGlyphs">10</text><text x="167.8" y="2513" font-size="16.9" textLength="8.9" lengthAdjust="spacingAndGlyphs">4</text><text x="54.9" y="2440.5" font-size="30" textLength="42.6" lengthAdjust="spacingAndGlyphs">7.0</text><text x="105.8" y="2440.6" font-size="29.3" textLength="18.6" lengthAdjust="spacingAndGlyphs">×</text><text x="131.9" y="2440.5" font-size="30" textLength="36.5" lengthAdjust="spacingAndGlyphs">10</text><text x="167.8" y="2430" font-size="16.9" textLength="8.9" lengthAdjust="spacingAndGlyphs">4</text><text x="55.1" y="2357.4" font-size="30" textLength="42.3" lengthAdjust="spacingAndGlyphs">8.0</text><text x="105.8" y="2357.5" font-size="29.3" textLength="18.6" lengthAdjust="spacingAndGlyphs">×</text><text x="131.9" y="2357.4" font-size="30" textLength="36.5" lengthAdjust="spacingAndGlyphs">10</text><text x="167.8" y="2346.9" font-size="16.9" textLength="8.9" lengthAdjust="spacingAndGlyphs">4</text><text x="54.9" y="2274.4" font-size="30" textLength="42.5" lengthAdjust="spacingAndGlyphs">9.0</text><text x="105.8" y="2274.5" font-size="29.3" textLength="18.6" lengthAdjust="spacingAndGlyphs">×</text><text x="131.9" y="2274.4" font-size="30" textLength="36.5" lengthAdjust="spacingAndGlyphs">10</text><text x="167.8" y="2263.9" font-size="16.9" textLength="8.9" lengthAdjust="spacingAndGlyphs">4</text><text x="47.1" y="2189.6" font-size="29.3" textLength="43.4" lengthAdjust="spacingAndGlyphs">1.0</text><text x="96.3" y="2189.7" font-size="28.6" textLength="17.3" lengthAdjust="spacingAndGlyphs">×</text><text x="122" y="2189.6" font-size="29.3" textLength="35.9" lengthAdjust="spacingAndGlyphs">10</text><text x="157.6" y="2178.2" font-size="14.8" textLength="8.9" lengthAdjust="spacingAndGlyphs">5</text><text x="45.9" y="2106.8" font-size="30.1" textLength="42.6" lengthAdjust="spacingAndGlyphs">1.1</text><text x="96.3" y="2106.6" font-size="28.6" textLength="17.3" lengthAdjust="spacingAndGlyphs">×</text><text x="122" y="2106.5" font-size="29.3" textLength="35.9" lengthAdjust="spacingAndGlyphs">10</text><text x="157.6" y="2095.1" font-size="14.8" textLength="8.9" lengthAdjust="spacingAndGlyphs">5</text><text x="45.6" y="2023.8" font-size="29.7" textLength="43.1" lengthAdjust="spacingAndGlyphs">1.2</text><text x="96.3" y="2023.6" font-size="28.6" textLength="17.3" lengthAdjust="spacingAndGlyphs">×</text><text x="122" y="2023.5" font-size="29.3" textLength="35.9" lengthAdjust="spacingAndGlyphs">10</text><text x="157.6" y="2012.1" font-size="14.8" textLength="8.9" lengthAdjust="spacingAndGlyphs">5</text><text x="44.8" y="1940.4" font-size="29.3" textLength="42" lengthAdjust="spacingAndGlyphs">1.3</text><text x="96.3" y="1940.5" font-size="28.6" textLength="17.3" lengthAdjust="spacingAndGlyphs">×</text><text x="122" y="1940.4" font-size="29.3" textLength="35.9" lengthAdjust="spacingAndGlyphs">10</text><text x="157.6" y="1929" font-size="14.8" textLength="8.9" lengthAdjust="spacingAndGlyphs">5</text><text x="47" y="1857.6" font-size="30.1" textLength="43" lengthAdjust="spacingAndGlyphs">1.4</text><text x="96.3" y="1857.5" font-size="28.6" textLength="17.3" lengthAdjust="spacingAndGlyphs">×</text><text x="122" y="1857.4" font-size="29.3" textLength="35.9" lengthAdjust="spacingAndGlyphs">10</text><text x="157.6" y="1846" font-size="14.8" textLength="8.9" lengthAdjust="spacingAndGlyphs">5</text><text x="44.8" y="1774.3" font-size="29.7" textLength="41.9" lengthAdjust="spacingAndGlyphs">1.5</text><text x="96.3" y="1774.4" font-size="28.6" textLength="17.3" lengthAdjust="spacingAndGlyphs">×</text><text x="122" y="1774.3" font-size="29.3" textLength="35.9" lengthAdjust="spacingAndGlyphs">10</text><text x="157.6" y="1762.9" font-size="14.8" textLength="8.9" lengthAdjust="spacingAndGlyphs">5</text><text x="47.7" y="1694.1" font-size="28.6" textLength="42.7" lengthAdjust="spacingAndGlyphs">1.6</text><text x="97.9" y="1694.2" font-size="27.9" textLength="18" lengthAdjust="spacingAndGlyphs">×</text><text x="116.9" y="1694.1" font-size="28.6" textLength="34.5" lengthAdjust="spacingAndGlyphs">10</text><text x="151.6" y="1683" font-size="14.5" textLength="7.7" lengthAdjust="spacingAndGlyphs">5</text><text x="112.3" y="3024.1" font-size="29.4" textLength="44.3" lengthAdjust="spacingAndGlyphs">0.0</text></g>
<g fill="#222"><text x="328.2" y="3047.7" font-size="31.5" textLength="17.5" lengthAdjust="spacingAndGlyphs">5</text><text x="470.7" y="3047.7" font-size="31.1" textLength="34.6" lengthAdjust="spacingAndGlyphs">10</text><text x="624.1" y="3047.7" font-size="31.5" textLength="35.1" lengthAdjust="spacingAndGlyphs">15</text><text x="778.4" y="3047.7" font-size="31.1" textLength="34.6" lengthAdjust="spacingAndGlyphs">20</text><text x="932.2" y="3047.7" font-size="31.1" textLength="34.6" lengthAdjust="spacingAndGlyphs">25</text><text x="1086" y="3047.7" font-size="31.1" textLength="34.6" lengthAdjust="spacingAndGlyphs">30</text><text x="1239.8" y="3047.7" font-size="31.1" textLength="34.6" lengthAdjust="spacingAndGlyphs">35</text><text x="1393.7" y="3047.7" font-size="31.1" textLength="34.6" lengthAdjust="spacingAndGlyphs">40</text><text x="1547.2" y="3047.7" font-size="31.5" textLength="35.1" lengthAdjust="spacingAndGlyphs">45</text><text x="1700.8" y="3047.7" font-size="31.1" textLength="34.6" lengthAdjust="spacingAndGlyphs">50</text><text x="1854.3" y="3047.7" font-size="31.5" textLength="35.1" lengthAdjust="spacingAndGlyphs">55</text></g>
<text x="1025.6" y="3085" font-size="33.7" textLength="161.2" lengthAdjust="spacingAndGlyphs" fill="#111">Time, min</text>
<g transform="translate(44.3,2429.6) rotate(-90)"><text x="-2.8" y="-1.8" font-size="34.5" textLength="214.5" lengthAdjust="spacingAndGlyphs" fill="#222">Intensity, cps</text></g>
<path d="M182.5 2937.1L192.5 2948.6L182.5 2960.1Z" fill="#1010e0"/>
<text x="285.9" y="1758" font-size="94.1" textLength="53.5" lengthAdjust="spacingAndGlyphs" fill="#000" stroke="#000" stroke-width="1.4">B</text>
<text x="740.1" y="1927.6" font-size="46.5" textLength="86.9" lengthAdjust="spacingAndGlyphs" fill="#111">SHP</text>
<text x="1052.5" y="2242.4" font-size="46.6" textLength="86.6" lengthAdjust="spacingAndGlyphs" fill="#111">AhR</text>
<text x="1123.2" y="2308" font-size="43.5" textLength="62.1" lengthAdjust="spacingAndGlyphs" fill="#111">GR</text>
<text x="663.5" y="2294.5" font-size="47.2" textLength="86.8" lengthAdjust="spacingAndGlyphs" fill="#111">CAR</text>
<text x="1295.3" y="2400.9" font-size="46" textLength="83" lengthAdjust="spacingAndGlyphs" fill="#111">PXR</text>
<text x="1411.6" y="2162.1" font-size="47.9" textLength="147" lengthAdjust="spacingAndGlyphs" fill="#111">HNFaα</text>
<text x="1548.7" y="2269.4" font-size="44.9" textLength="79" lengthAdjust="spacingAndGlyphs" fill="#111">FXR</text>
<path d="M842.5 1923L980.4 1955.6" stroke="#111" stroke-width="2.4" stroke-dasharray="7 4"/><path d="M995 1959L978.9 1961.9L981.9 1949.2Z" fill="#111"/>
<path d="M1095.4 2265.5L1044.4 2391.5" stroke="#111" stroke-width="2.4" stroke-dasharray="7 4"/><path d="M1038.8 2405.4L1038.4 2389.1L1050.5 2393.9Z" fill="#111"/>
<path d="M1366 2425.7L1430 2496.6" stroke="#111" stroke-width="2.4"/><path d="M1440 2507.7L1425.1 2500.9L1434.8 2492.2Z" fill="#111"/>
<g fill="none" stroke-linejoin="round"><path d="M192.3 3007.9H2036" stroke="#3050d0" stroke-width="2.4"/>
<path d="M252 3007.4l6 -1.9l8 0.5l4 -2.2l2 -0.5l8 3l5 -0.5l6 0.7l4 -2.6l1 0l5 2.5l5 0.3" stroke="#e040e0" stroke-width="1.5"/>
<path d="M671 3002.7l1 -0.3l2 1l1 -0.3l3 -7.8l1 1l2 4.6l2 2l2 -0.1l1 -0.7l3 -5.1l1 0.2l4 5.1l3 0.3l1 -1.4l1 -14.5l1 -83.9l2.5 -580.2l2.5 532.8l1 112.4l1 28.3l1 3.5l3 -1.7l3 1.5l1 -0.1l3 -2.9l1 -0.1l4 2.1l1 -0.6l3 -4l1 0.2l1 1.4l3 5.6l2 1.3l2 -0.3l3 -6.3l1 0.2l3 5.3l2 1.3l2 0l1 -0.5l3 -6.2l1 0.9l2 4.7l1 0.7l1 -0.3l3 -3.7l1 -0.4l5 3.9l2 0.6l2 -0.8l4 -8.6l1 -0.2l3 5.1l1 0.6l3 -2.3l3 3.5l1 0.3l3 -4l1 -0l3 4.3l1 0.4l1 -0.6l3 -4.4l1 -0.3l4 4.8l1 0.5l1 -0.4l3 -3.3l1 0.1l3 2.4l1 -0.9l2 -6.4l1 1l2 7l1 1.2l1 -0.2l1 -1.4l2 -5.4l1 -1.2l1 0.9l3 6.1l2 1.4l2 -0.2l1 -0.7l3 -3.6l4 1.7l3 -0l3 1.3l1 -1.5l1 -12.6l2 -57.9l2 57.7l1 12.4l1 1l2 -1.6l1 -0l4 1.7l1 -1.6l3 -18l1 2.5l2 13.5l1 2.4l2 -5.5l1 -0.3l2 5.6l1 1.7l1 -0.1l3 -7.2l1 0.9l2 5.3l1 1.3l1 0.1l1 -0.7l3 -4.2l1 -0.4l4 4l2 0.5l4 -4.3l3 1.5l1 -0.4l3 -3.9l2 1.5l3 4.4l2 1.3l4 -1.9l1 -0.1l3 1.7l1 -1l1 -15l1 -83.1l2.4 -488.6l2.6 475.4l1 87.9l1 21.7l1 3.3l2 0.1l4 -3.1l1 -0.2l5 2.7l1 -0.1l1 -0.9l2 -6.9l3 -15.8l1 0.7l4 18l1 1.1l2 -0.4l5 4.2l1 -0.2l3 -2.6l5 3l4 -1.8l4 1.8l2 -0.3l1 -1.4l2 -6.5l1 -1l3 7l1 -0.1l2 -1.6l3 1.8l3 -5.8l1 0.7l3 5.5l2 1.4l1 -0.1l1 -1.2l2 -5.7l1 -0.7l3 6.2l2 1.7l4 0l1 -0.6l2 -3.2l1 -0.1l2 2.1l1 0.1l3 -3.7l1 -0.5l1 0.3l5 4.7l1 -0.1l3 -2.9l1 0.3l3 2.9l2 0.2l4 -4.1l1 -0.1l4 3.9l1 0.3l1 -0.6l1 -2.3l4 -25.7l1 1.6l4 24.1l1 2.2l2 1.2l3 -0.1l3 -1.8l5 2l5 -0l4 -1.8l3 1.6l2 0.3l2 -1.2l2 -3.8l1 0.5l2 3.8l1 0.6l3 0.1l2 -0.6l3 -4.5l1 -0.4l4 4.4l2 0.9l2 0.1l2 -1.4l2 -5l1 -1.2l3 5.8l1 0.7l3 -0.7l4 0.4l4 -3.5l2 0.7l4 3.4l2 0.2l1 -1.4l1 -4.2l2 -16.3l1 -3.5l1 3.2l3 19.1l1 2.6l1 0.9l2 -0.5l4 -8.1l1 -0.1l5 6.7l1 -0.5l2 -4.4l1 -0.9l3 6.2l1 1.3l2 0.7l1 -0.2l1 -1.2l2 -6.7l1 -0.5l2 5.7l1 1.7l1 -0.2l3 -7.9l1 0.2l3 7.3l1 0.7l1 -0.9l2 -4.6l1 -0.3l3 5.8l1 0.4l1 -1.4l2 -6.6l1 0l2 4.6l1 1.4l1 0.1l2 -1.1l3 0.7l1 -0.7l2 -3.9l1 -0.7l5 7.6l1 -0l2 -4l1 -0.7l3 4.4l1 0l4 -5.1l1 0.3l3 4.3l2 1l2 -1.5l3 -6.1l1 -0.6l1 0.6l3 5l2 2.1l1 0.1l3 -2.6l1 -0.1l4 2.6l1 0l2 -2.2l3 -5.4l1 0.1l4 4.7l8 3.5l1 -0.3l1 -1.7l2 -6.4l1 0.7l2 5.5l1 1.2l4 -1.2l4 1.8l1 -0.1l1 -1.1l2 -5.5l1 -0.9l3 6.1l2 2l2 -0.1l4 -2.1l5 2.3l3 -0.1l1 -1.1l2 -4.3l1 -0.7l4 5.3l2 0.8l1 -0.7l1 -2.3l3 -21.3l1 -3.8l1 2.3l3 17.6l1 1.5l2 -1.3l1 0.3l3 4l1 -1.6l2 -13.3l1 -2.6l3 18.7l1 2.3l1 0.4l3 -1.6l4 1l1 -2.3l2 -12.5l1 -0.7l4 15.1l1 1.1l2 0.4l2 -0.9l1 -2.1l4 -13.8l3 -30.4l1 -4.6l1.5 6.1l3.5 29.6l3 5.8l3 8.6l1 1.2l2 0.6l2 -0.3l3 -2.5l3 2.4l4 0.3l1 -0.9l2 -4.7l1 -0.4l3 5l1 0.8l2 -0.1l2 -2.9l2 -5.1l1 -0.7l1 1l3 5.9l1 0.8l1 -0.5l2 -3.2l1 -0.1l3 4.4l2 0.4l2 -2.2l3 -6.4l1 -0.4l6 8.6l2 -0.1l3 -3.9l1 -0.1l3 1l3 -0.4l4 2.5l1 -0.4l1 -2.4l3 -18.4l1 -0.6l4 18.7l1 2.8l1 1.4l1 0.3l1 -0.5l3 -4.4l1 -0.4l3 2.9l1 -0.4l3 -5.7l1 -0.3l5 8.4l3 1.3l2 -0.2l1 -0.9l2 -3.9l1 -0.1l3 4.3l2 0.5l1 -1.2l2 -7.2l1 -0.7l3 7.8l2 1.4l5 -1.5l7 1.3l1 -0.8l1 -2l2 -5.6l1 0.1l3 6.8l2 1.6l1 -0.5l1 -1.6l2 -5.9l1 -1.1l1 1l3 6.5l1 1.2l2 0.8l2 -0.4l3 -2.4l5 2.6l2 0.2l1 -0.7l3 -8.1l3 7.4l1 -0.3l2 -3.5l1 0l3 4.2l1 0l3 -6.4l1 -0.1l3 4.8l1 0.6l2 -0.6l2 1.3l1 -0.6l1 -3.3l2 -11.3l1 -0.5l4 13l1 -0l2 -3l1 -0.6l1 0.2l5 1.5l5 5l2 1.1l2 -0.2l1 -0.8l3 -3.9l1 0.2l3 3.8l1 0.6l1 -0.1l1 -1l3 -6.2l1 -0.1l4 5.9l3 2.2l3 0.1l3 -3.2l1 0.1l3 3.2l4 0l2 -1.3l3 -4.6l1 -0.4l6 5.5l3 -1.1l4 2.1l3 0.1l2 -0.9l3 -5.6l1 0.3l2 3.2l1 0.6l1 -1.3l4 -16.9l1 0.1l1 2.1l3 10.5l1 1.4l2 -2.2l1 1l2 5.5l2 2.3l3 -0.2l1 -1.8l2 -7l1 1.2l2 5.7l2 2.1l2 -0.3l4 -3.3l1 0l4 2l4 -0.2l4 1.9l1 -0.3l2 -2.6l1 -0.3l4 3.4l3 0.2l2 -1.1l3 -4.6l1 -0.4l3 1.4l3 -0.2l4 4l3 1.1l2 -1.6l3 -7.7l1 0.6l3 7l2 2.1l2 0l3 -5.2l1 0.7l3 5.5l2 0.6l1 -1.3l1 -4.5l2 -18.4l1 -2.1l3 17.7l2 7.2l1 -0.2l2 -4.3l1 -0.5l3 3.5l2 -2.3l1 -0.1l3 5.2l1 0.9l2 0.2l2 -1.6l3 -4.7l1 0.1l3 2.7l1 -0.7l2 -3.7l3 6l1 0.1l3 -3.8l1 -0.2l4 3.1l1 -0.9l2 -4.8l1 -0.9l4 8.5l1 0.9l2 0.4l2 -0.6l1 -1.4l3 -7.7l1 0.7l2 5l1 0.6l1 -3.6l2 -17.8l1 -2.1l4 23.4l1 2.4l1 1l4 0.5" stroke="#b8d0f0" stroke-width="1.8"/>
<path d="M670.9 2941.3l1.1 -40.8l2 70.9l1 23.4l1 5.8l2 0.8l1 -0.4l4 -6.8l1 -0.2l5 6.7l2 0.9l3 -0.1l1 -1.2l2 -5.8l1 -6.9l1 -53l2.5 -487l2.5 420.9l1 79.2l1 21.2l1 8.5l3 17.8l2 4.7l1 0.9l2 0.2l2 -2.2l1 -0.4l4 2.5l3 -1.7l2 1.7l1 0.1l2 -1.5l3 -3.8l1 0l4 4.5l3 0.8l2 -2.2l2 -5.2l1 -1.1l1 0.7l3 5.5l2 2l1 0.1l1 -0.8l2 -4.2l1 -0.5l3 4.9l1 0.7l5 0l4 -2.8l1 -0.1l4 2.1l2 0.3l3 -3l3 2l1 -0.6l2 -4.9l1 -0.5l2 2.1l3 -5.3l1 -0.2l5 8.2l1 0.9l2 0.5l2 -1.8l3 -7.4l1 0.5l3 6.2l1 0.3l3 -8.6l1 1.2l3 7.7l1 0.7l1 -0.6l1 -2l2 -6.8l1 -1.7l1 0.8l2 4.2l1 -0.5l3 -13.7l1 -2.3l1 1l1 3.1l3 12.4l1 2.7l2 2.3l2 -0.8l3 -4l1 -0.4l6 4.1l1 -0.5l2 -3.9l1 0l2 3.5l1 0.1l3 -11.9l1 1.1l3 10.2l1 1.4l1 0.3l1 -0.6l1 -2.2l2 -8.5l1 -1.4l4 9.1l2 -1.2l3 3.4l2 0.9l2 -0.2l1 -0.6l1 -1.8l2 -7.4l1 -1.4l3 8.8l1 1.3l1 -0.3l3 -12.3l1 0.2l3 11l1 1.2l1 0.1l4 -1.7l4 1.4l2 0l4 -2.6l2 0.4l4 2.1l4 0.3l1 -0.5l1 -2.2l2 -8.3l1 1.2l2 7.1l1 1.8l1 0.6l6 -0.2l3 -2.7l5 2.6l4 -0.2l2 -1.9l2 -3.2l1 -0.6l4 3l1 -1.3l1 -3.2l1 -7l1 -34l2.5 -297.4l2.5 283.6l1 49.9l1 10l1 -0.3l1 -1.7l1 -0.1l3 3.4l2 0.5l3 -0.4l2 -2.4l2 -4.4l1 -0.7l4 5.1l3 -2.2l3 4.1l2 0l1 -1.5l3 -10.2l1 1l3 8.3l1 1.6l2 1.1l2 -0.5l3 -3.1l1 -0l4 3.1l1 -0.1l1 -0.9l3 -6.1l1 -0.5l4 4.6l4 -2l5 0.6l3 1.4l1 -0.4l1 -1.9l2 -5.4l1 -0.1l3 5.9l1 0.5l2 -0.9l4 4.6l1 -0l1 -2.4l1 -6.9l2 -24.4l1 -4.6l1 4.9l3 28.6l1 4l1 1.6l1 0.2l1 -0.6l1 -1.9l1 -8.7l1 -53.9l2.6 -549.6l2.4 483.4l1 99.1l1 21.3l1 1.8l2 1.4l4 6.6l1 0.5l1 -0.6l3 -7.5l1 -0.4l3 7.7l1 1.4l2 0.4l4 -2.6l4 0.9l1 -1.1l3 -6.4l1 0.2l4 6.7l2 1.5l1 -1.3l1 -5.1l2 -22.6l1 -4.4l1 5.3l2 19.6l1 5.8l1 2.4l1 0.4l1 -0.8l4 -7.6l1 0.4l3 6.3l2 2.3l2 0.1l1 -0.7l3 -5l1 -0.8l1 0.6l3 4.4l1 -0.9l2 -6.4l1 0.6l2 6.7l1 1.5l2 0.2l1 -1.4l3 -12.2l1 2.1l2 8.2l1 2.3l1 0.9l1 -0.1l1 -2l2 -10l1 -0.2l3 10.4l1 1.6l2 0.5l1 -2.5l1 -24.6l1 -124.2l2 -452.2l3 550.6l1 43.8l1 6.7l1 -0.5l2 -4.4l1 -1.1l1 0.7l4 7.1l1 0.4l1 -0.5l2 -2.5l1 0.1l3 2.3l1 -1.1l2 -5.1l1 0.4l3 6.4l4 0.6l1 -0.4l1 -1.6l2 -6.6l1 0.8l2 5.8l1 1.5l2 0.5l1 -1.1l1 -10.3l1 -45.3l1.8 -120.3l3.2 165.3l1 10l1 1.4l2 -1.4l3 -5.5l1 0.8l3 5.6l1 0.6l2 -0.2l1 -1.1l3 -8.6l1 0.1l4 8.3l1 1l2 0.5l2 -2l3 -9.8l1 -1.3l1 0.7l4 9.1l2 2.5l2 0.1l3 -2.6l5 3.2l1 -0.3l2 -2.2l4 3l4 -0.2l1 -1.2l1 -3.7l2 -16.1l1 -4l1 2l3 14.8l1 -0.4l2 -12.6l1 -1.6l3 20.2l1 2.3l1 0.6l2 -0l1 -1.3l1 -5.5l2 -19l1 4.5l2 17.8l1 2.3l3 -2.9l4 3.7l5 -1.5l6 1.9l3 0.1l2 -2.2l2 -4.6l1 0.3l3 5.9l2 0.4l1 -1.4l2 -9.2l1 -2.1l4 11.9l1 1l2 -0l1 -1.7l1 -4.8l2 -15.7l0.8 0.3l0.2 1.4l2 16.7l1 3.2l1 0.5l1 -0.6l1 -1.8l1 -3.4l3.8 -22.5l1.2 -4.5l1 0.6l1 3.7l4 20.3l2 6l1 1.5l2 1.1l2 -0.1l3 -2.7l3 2.5l2 0.3l1 -0.8l1 -2.2l1 -4.6l3 -22.5l1 -0.9l1 3l3 16.4l1 1.4l1 -4.1l2 -17.8l1 -2l3 22.6l2 9.6l1 1.2l1 -0.4l3 -6l1 -0.1l4 6.4l2 1.1l2 -0.5l1 -3.7l1 -26.1l3 -429.5l3 409.6l1 41.1l1 7.3l3 -3.6l3 3.3l1 0l3 -5.1l2 1.8l1 0.1l3 -6.8l1 0.1l4 9.7l2 2.4l2 0.1l4 -3.5l4 3.4l1 -0.2l3 -7.1l1 1.3l2 5.5l1 1.1l2 0.2l2 -1.9l3 -9.4l1 -1.3l1 1.2l3 8.6l1 1.5l1 0.4l1 -0.7l1 -1.9l3 -8.4l1 -0.2l3 6.7l1 0.7l3 -6.4l1 -0.2l4 8.6l1 -0.4l2 -6.8l1 1.2l3 8.3l2 0.9l2 -1.4l3 -10.6l1 -1.1l3 9.2l1 2.3l1 0.8l1 -0.8l2 -6.2l1 -1.2l3 7.5l1 1.2l2 0.1l4 -1.7l5 1.6l1 -0.4l1 -1.7l2 -7.3l1 -1.6l4 9.9l3 -0.7l3 1.8l1 -0.2l4 -6.2l1 -0l4 6.2l1 0.8l2 0.4l2 -1.5l4 -10.9l1 0.2l3 5.7l1 -0.6l2 -5.8l1 -0.1l3 8.6l2 3.7l1 0.1l1 -1.3l3 -9.7l1 -0.3l3 9.1l1 1.9l1 0.6l4 -3.6l3 0.9l1 -1.2l2 -5l1 -0.6l4 9l1 1.1l1 -0.1l3 -11.1l1 1.9l2 8.5l1 1.4l1 0.3l2 -1.1l2 -2.8l1 -0l2 1.7l1 -0.6l2 -3.6l1 -0.5l5 6l2 1.1l2 -0.2l1 -0.8l3 -4l1 0.2l4 4.1l1 -0.3l1 -1.3l3 -7.3l1 -0.9l1 0.5l4 7l2 1.9l1 -0.4l1 -1.6l2 -5.5l1 -1.4l1 0.5l1 1.7l3 6.4l1 1.2l2 1l2 -0.6l3 -5.1l1 -0.6l3 4.5l2 2l2 0.2l1 -0.5l4 -5.5l2 1.3l3 3.8l2 1.1l1 -0.1l1 -1.5l2 -6.2l3 7l1 0.2l2 -1.8l1 0.2l3 2.3l2 0.5l2 -0.4l3 -1.6l3 -0.4l1 -1.1l3 -7.9l1 0.4l3 8.4l1 1.4l1 -0.2l4 -11l1 -0l4 10.9l2 1.9l1 0.1l1 -0.7l2 -3.3l1 0.1l3 4.3l2 0.8l1 -0.2l1 -0.9l3 -6l1 0.1l4 6.2l2 -0.7l5 4.4l2 0.2l1 -0.4l3 -6.2l1 0.7l2 4.8l1 1l4 0.3l1 -0.5l1 -2l2 -7.6l1 -0.1l3 8.1l2 2.1l2 -0.2l1 -0.7l4 -6.5l1 -0.1l4 5.9l1 0.7l1 -0.1l1 -1l3 -5.9l1 -0.5l4 4.5l3 -1.8l4 5.1l1 0.7l2 0.3l2 -1.5l3 -9l1 -0.7l3 8.1l1 0.7l3 -7.8l1 0.6l4 8.8l3 1.2" stroke="#a0a0a0" stroke-width="1.7"/>
<path d="M671 3009.2l2 -2l4 -8.4l1 -0l1 0.7l3 3.5l2 1l3 -0.4l5 -2.2l6 1.3l5 -3.5l7 3.9l2 -0.5l3 -1.8l6 2l6 -3.9l3 0.1l5 1.6l4 -1.4l3 0.2l2 -1.2l3 -3.7l1 -0.5l2 1.1l4 5l1 0.3l3 -1.2l4 3.3l2 0.1l3 -1.5l4 2.6l4 0.5l3 -0.7l3 -4.1l1 -0.2l3 3.4l1 0.4l3 -1l4 0.1l4 -3.2l1 -0.2l6 3.7l2 -0.2l3 -2.5l5 2.8l5 -0.8l6 0.9l5 -2.3l5 0.3l1 -0.6l2 -3l1 -0.4l3 4.2l2 0.5l3 -1.7l3 -3.4l1 -0.4l4 0.8l4 -5l1 -0.3l5 6.6l2 0l3 -2.3l5 3.6l3 -0.2l5 -2.2l8 2.5l2 -0.6l5 -3.4l2 0.1l5 2.1l2 0.2l2 -1.1l3 -2.9l1 -0.1l7 4.9l2 0l3 -1.4l4 3l2 0.6l2 -0.1l3 -1.7l4 -0.6l3 -2.7l1 -0.3l2 0.8l4 2.9l1 -0.3l1 -1.6l4 -18.6l1 -1l2 4.2l4 13.7l2 2.9l2 0.7l4 -1.4l4 1l3 0.1l6 -1.8l6 1.4l2 -0.8l1 -1l6 -8.4l4 -12.8l1 -1.5l1 0.9l1 2.7l3 10.3l1 0.6l1 -3.9l1 -13.9l1 -35.2l1 -74.7l2 -343.9l2.6 -693.8l1.4 -157l1.4 156.1l2.6 695l2 344.6l1 74.4l1 34.6l1 13.4l1 4.2l4 3.8l1 -2l1 -12.7l2.6 -130.6l0.8 -19.8l0.9 20.1l2.7 126.8l1 16.7l1 5.6l1 1.6l1 0.4l6 -1.7l6 2.3l8 -2.3l3 -4.2l1 -0.4l1 0.9l3 5.3l2 1.4l2 0.2l3 -1.3l4 -6.4l4 1.3l3 -0.3l6 5.6l2 0.7l6 0.2l5 -1.9l6 2.8l2 0.1l1 -0.5l3 -4.4l1 -0.7l1 0.2l3 2.8l2 1l3 -0.2l2 -1.7l1 -5.3l1 -19.7l2.2 -130.9l0.8 -20.1l0.8 21l2.2 118.3l1 26.2l1 8.9l1 2.1l1 0.4l2 -0.1l3 -2.1l1 0l4 2.7l12 -3.9l7 0.7l4 -3l2 -0.7l6 2.4l5 -1.2l6 3.3l2 0.3l3 -0.5l5 2.5l1 -0.4l3 -4.3l1 0.1l4 5.9l1 0.3l4 -0.9l9 2.6l9 -3.7l4 -3.8l4 -1.8l4 -8.8l1 -0.4l1 1.4l4 11.9l2 2.6l2 -0.2l3 -2.6l2 -0.8l2 0.9l5 3.9l2 0.1l3 -2.4l1 0l4 2.2l3 0.2l2 -0.5l1 -1.2l4 -20.1l1 2l3 14.5l1 1.5l1 -0l3 -2.4l1 -0.1l5 2.9l4 -0.5l4 1.7l3 -0.1l5 -1.4l6 2l7 -0l2 -0.7l3 -3.7l1 -0.4l5 5.2l1 -0.3l3 -3.1l4 1.4l3 -1.7l2 0.7l4 3.7l3 1.2l3 -0.4l3 -2.8l1 0.1l4 3.3l1 -0l3 -3l1 -0.1l4 3.8l3 1l1 -0.5l1 -1.6l4 -17.8l1 1.3l3 13.3l1 2.5l1 1.1l1 0.1l6 -3.7l2 0.1l5 1.7l4 -0.2l4 -5.5l1 0.3l3 4l2 1.2l3 -1l4 -4.5l2 0.7l3 3.4l2 1l2 -0.9l3 -2.6l1 -0.2l2 0.7l4 2.7l2 0.4l2 -1.2l3 -4l2 -1.2l2 1.1l3 3.1l2 0.8l2 -1l3 -3.1l2 -0.5l2 1l5 4.7l2 1.2l2 -0.2l3 -2.3l2 1.1l3 3.2l3 1.3l7 -1.8l4 0.4l4 -0.4l5 0.9l5 -0.8l6 1.1l2 -0.6l4 -4.8l1 -0.2l5 4.8l1 -0.3l1 -1.6l3 -10.2l1 -1.4l1 0.7l3 6.1l1 1l3 -0.6l1 0.3l5 5.6l2 0.8l2 -1.3l3 -4.4l1 -0.6l4 1.7l4 -0.4l4 3.1l3 0.5l3 -0.4l4 -1.5l3 0.9l1 -0.2l3 -3.5l3 1.6l1 -0.1l4 -2.6l2 0.9l5 5.5l3 1.3l4 -0.7l6 1.3l2 -0.3l2 -2.2l3 -5.2l1 0l1 0.8l3 4.1l2 1.4l2 -0.5l4 -4.2l1 -0.4l2 0.8l5 5l3 0.3l4 1.6l1 -0.2l3 -3.3l1 -0.3l4 4.8l2 0.8l3 -0.6l4 -2.2l5 -0.5l4 -3.7l2 0.3l3 2l2 0.5l2 -1.5l3 -4.1l1 -0.4l4 1.9l3 -1.5l2 0.3l7 5.8l2 0.2l4 -1.2l7 1.9l2 -1l1 -1.5l4 -10.4l1 0l1 1l4 7.5l3 2.6l2 0.1l4 -1.4l6 1.5l1 -0.6l1 -1.7l2 -4.6l1 0.3l3 6.2l2 1.7l4 0.4l2 -1.9l2 -3.2l1 -0.3l5 7.1l2 1.2l2 -0.1l6 -2.6l6 2.4l2 0.1l9 -3.1l4 -4.4l1 0.1l1 1.1l4 6l3 0.9l2 -0.9l3 -4.9l1 0.3l3 4.7l2 1.3l4 -0.2l4 -2.1l6 1.5l2 -1.6l2 -5.4l1 -1.3l3 3.1l1 0.4l3 -1.6l2 -0.2l7 2.8l5 0.9" stroke="#f03030" stroke-width="1.8"/>
<path d="M990 3006.6l4 -9.1l2 -3.1l5 2.5l3 -1l3 2.4l2 0.8l5 -2.2l1 -2.3l1 -16l1 -69.7l3 -566.5l0.8 77.3l2.2 453.7l1 90.7l1 27.7l1 5.5l1 0.8l4 1.1l3 -0.4l1 -1l1 -5.5l1 -31.9l2.4 -226.1l2.6 220.8l1 34.1l1 7.2l1 0.9l3 -0l5 1.6l2 -0.4l3 -2.3l4 2.3l2 0.5l2 -1.4l2 -3l1 -0.2l3 3.7l1 0.2l3 -3.4l1 -0.4l3 2.3" stroke="#a03838" stroke-width="1.4"/>
<path d="M1140 3007.5l6 -6.5l4 -1.9l1 -3.1l1 -21.7l2.5 -192.8l2.5 180.2l1 32l1 6.9l1 0.8l10 0.1" stroke="#a02840" stroke-width="1.4"/>
<path d="M671 3006l4 -5.5l2 -0.6l7 4.6l4 0.5l2 -0.7l1 -1.8l3 -12.3l1 0.5l4 12.1l1 1.2l2 0.6l2 -0.7l3 -2.5l1 -0.2l6 3.1l6 0.4l2 -0.6l4 -3.6l2 -0.7l5 3.1l1 -0.2l3 -2.7l1 -0l5 4.4l6 0.3l2 -0.7l3 -4.7l1 0.4l3 4l2 0.8l7 -1.4l7 1l6 -2.8l8 2.8l3 0.5l4 -0.2l4 -1.8l7 1.9l2 -0.1l3 -1.1l5 1.1l2 -1.6l3 -9l1 -0.8l1 1l4 8.4l2 1.6l2 0.4l2 -0.2l3 -2.3l1 -0.1l4 2.3l8 0l2 -1.3l2 -2.7l1 -0l3 2.9l2 0.9l7 -1.5l6 0.9l4 -1.7l3 1.9l3 0.3l2 -0.7l3 -4.5l1 -0.2l4 4.4l2 0.1l3 -1.7l4 1.9l3 0.5l6 -0.1l5 -1.5l6 1.6l6 -0.1l5 -1.4l8 1.4l6 -2.7l5 2.3l4 0.5l2 -0.4l3 -2.7l3 2.2l2 0.7l5 -2.8l4 1.8l2 0.2l4 -2.9l2 0.5l4 2.6l3 0.7l1 -0.3l3 -3.7l4 3.9l3 0.4l3 -0.8l4 -3.6l2 0.4l5 3.5l3 0.5l3 -0.5l4 -2.8l4 2.7l2 0.6l4 -0.3l4 -2.6l1 -0l6 2.6l7 -1.6l9 2l4 -0l3 -0.9l7 1l2 -0.4l4 -2.9l1 -0.1l6 3l3 0.3l2 -0.6l5 -4.4l6 2.4l9 2.2l4 0.4l2 -0.7l4 -4.4l1 0.2l4 3.3l2 -0.4l3 -2.7l1 -0.2l5 3.5l1 0.1l3 -3.9l1 0.1l4 4.6l2 0l1 -5.8l1 -48.6l2.7 -625.8l2.3 519.6l1 125.1l1 30.4l1 4.3l1 0.4l3 -2l4 3l6 0.1l2 -1l3 -3.5l1 0.3l3 3.5l2 0.7l3 -0.3l5 -1.6l7 1.5l2 -0l3 -3.1l1 -0l4 3.1l3 0.4l3 -0.9l3 -3.2l2 -1l5 2.7l5 -0.2l5 1.6l4 -1.4l5 1.2l1 -0.4l4 -4l1 0.1l4 2.5l5 -1.3l6 3.4l5 0.9l4 -0.1l4 -2.2l6 2.1l7 -1l6 0.7l5 -2.5l5 2.6l8 0.3l2 -0.6l4 -3.5l2 0.7l3 2.4l3 0.8l1 -0.3l1 -1.2l2 -3.5l3 4.1l1 0.4l1 -0.4l3 -3.6l1 -0.2l5 3.8l5 0.9l3 -0.1l4 -1.4l7 1.4l7 -0.8l5 0.2l4 -3.5l1 -0.3l4 3.6l2 0.8l9 -0.2l4 -3.7l4 3.3l1 0.3l5 -1.3l6 1.4l7 0.2l2 -0.6l1 -1.5l3 -12.4l1 -0.8l3 12.2l1 2.1l1 0.8l6 0l3 -2.7l1 -0.2l3 2.6l2 0.2l1 -0.6l1 -7.5l1 -55.1l2.5 -486.5l2.5 450.5l1 80l1 17.1l1 2.1l4 0.4l3 -0.5l5 -4.3l1 -0.2l2 0.7l4 3l3 1.1l3 -0.7l3 -3l2 -1l2 0.8l4 3.1l3 1.1l4 0l6 -1.7l5 0.9l2 -0.9l3 -3.5l1 -0.3l1 0.5l4 4.4l2 0.9l2 -0.2l3 -4.2l1 0.1l3 3.2l1 0.1l2 -3l3 -10.5l1 -2.3l1 -0.2l2 3.2l3 8l2 3.7l2 1.7l2 0.5l2 -0.5l4 -4.4l1 -0.2l5 4.5l3 1l5 -0.4l4 -3.7l5 3.3l5 -3.3l2 0.5l4 2.9l2 0.6l2 -0.2l4 -3.1l1 0l4 3l5 0.5l3 -0.9l4 -4.6l1 -0.4l1 0.4l4 4.5l3 0.9l2 -0.7l3 -3.4l4 3.6l2 0.5l7 -0.1l6 -2.5l2 0.3l5 2.1l5 0.2l2 -1.1l3 -4l1 -0l3 3.9l2 1.1l2 -0.2l4 -1.6l6 1.9l4 0l2 -1.2l2 -2.1l1 0l4 3l5 0.5l2 -0.4l4 -2.6l5 2.5l2 0.1l2 -1.4l3 -3.5l1 -0.2l5 4.9l3 1l5 -0.4l4 -3.8l1 -0.1l4 3.5l3 0.9l2 -1.4l2 -3.7l1 -0.2l3 4.7l2 0.9l7 -0l5 -2.6l5 1.6l5 -1.5l4 1.9l1 -0l4 -4l1 -0.2l6 5.2l3 0.8l2 -0.5l2 -2.4l4 -12.2l1 -1.6l1 0.2l1 1.8l4 10.3l1 0.6l3 -1.6l1 0.4l4 4.3l2 0.9l8 0.2l4 -1.3l6 1l6 -3l5 1.2l4 -3.3l1 0.2l3 3.3l2 1.4l10 0.4" stroke="#40e040" stroke-width="1.6"/>
<path d="M671 3007.5l6 -2l10 -0.1l7 -1.9l7 1.7l4 0.3l17 -0l5 -1.3l7 1.3l26 0l6 -1.2l6 1l18 -0.3l2 -0.3l4 -2.2l2 -0.4l5 2.3l4 0.4l7 -0.2l6 -1.3l8 1.3l22 0.1l2 -0.3l2 -1.4l1 -0.1l3 1.6l2 0.2l20 -0.5l17 0.5l5 -0.5l6 0.5l31 0l3 -0.5l3 -2.2l4 2.2l2 0.5l25 0.1l3 -0.4l4 -2.3l1 -0.1l5 2.4l4 0.4l23 -0l7 -1l7 1l25 -0.4l28 0.4l9 -0.5l17 0.5l7 -1.1l7 1l23 0l6 -1.2l5 1.1l21 0.1l2 -0.2l3 -2.6l4 2.7l24 0.1l3 -1l4 -7l1 0.6l4 6.5l4 0.8l16 -0.6l10 0.6l28 -0l6 -1.3l7 1.2l9 0.1l2 -0.3l3 -1.8l6 2l15 0.1l3 -0.8l4 -5l1 0.3l3 4.2l3 1.4l22 0l7 -1.3l9 1.3l28 0l3 -0.3l6 -2.3l9 2.4l15 0.2l4 -0.9l4 -5.5l1 -0.3l3 1.7l1 -8.5l1 -71.3l2.5 -639.2l2.5 593.7l1 105.2l1 22.3l1 2.6l18 0.2l6 -0.6l6 0.6l10 -0.1l3 -1.6l4 -5.6l1 -0.5l2 1l5 5.5l3 1.2l6 0.2l6 -0.8l9 0.9l18 -0.1l1 -1.6l1 -10.8l2 -48.4l2 48.4l1 10.8l1 1.6l5 0.1l5 -1l3 0.4l1 -1.4l1 -13.2l1 -55l2 -169.9l3 213.8l1 21.5l1 4.2l2 0.5l25 0.2l6 -0.6l7 0.8l31 0.3l8 -0.4l29 0.7l8 -0.6l7 0.6l13 0.1l3 -0.3l3 -1.9l5 2.1l28 0.1l4 -0.5l4 -2.1l7 2.5l18 1l6 -0.2l3 -2.5l1 -0.1l3 2.3l3 0.6l19 -0l7 -0.8l8 0.8l25 0l2 -0.3l3 -1.4" stroke="#f0f020" stroke-width="1.6"/>
<path d="M671 3007.5l1.5 0.2l1.5 -5.3l1.5 -11.4l1.5 -5.4l3 13.5l1.5 1.2l1.5 -2.8l1.5 -5.1l1.5 5.1l1.5 -0.9l3.5 -31.3l1 4.4l1.5 16.9l1.5 6.7l3 -7l1.5 4.6l1.5 -0.6l1.5 -5.1l3 5.6l1.5 7.2l1.5 -2.3l3 -44.8l1.5 8.5l3 36.2l1.5 2.5l1.5 -1.5l1.5 -3.7l1.5 -9.9l1.5 4l3 11.9l1.5 1.7l3 -8.4l1.5 1.2l1.5 6.8l3 0.2l3 -11l1.5 3.6l1.5 0.1l1.5 1.8l1.5 3.8l1.5 -3.4l3 5l1.5 -1.5l1.5 0.9l1.5 -2.9l1.5 -8.9l1.8 -29.8l0.8 -0.1l2 23.5l1.5 10.8l1.5 5.3l1.5 -8.5l1.5 -2.3l4.5 9.6l1.5 0.8l1.5 0l1.5 -3.2l3 -2.5l1.5 2.3l3 -10.5l3 4.9l1.5 -1.3l1.5 -6.6l1.5 0.6l1.5 1.6l1.5 -7.6l3 -35.4l3 37.8l1.5 5l1.5 -2l3 13.3l1.5 -4.2l3 -36.8l3 40.1l3 -0.1l1.5 -3.3l1.5 3.7l1.5 -0.9l1.5 0.6l1.5 -4.7l1.5 -12.6l3 12.9l3 7.5l3 -7.4l1.5 0.7l1.5 2l1.5 0.4l1.5 2.6l1.5 -5.7l1.5 -2.4l1.5 0.7l1.5 6.1l1.5 2.5l1.5 -3.7l3 -3.2l1.5 -8.7l3 11.4l1.5 1.5l1.5 -1l1.5 -3.4l1.5 -8.8l3 12.4l1.5 1.7l3 -14l1.5 -3.1l1.5 5.2l1.5 -0.2l1.5 -2.6l1.5 0.1l1.5 2.7l1.5 7.5l1.5 2.2l1.5 -0.7l1.5 -3.2l4.5 -1.6l1.5 1.5l3 -6.5l1.5 0.4l1.5 2.2l1.5 -2l1.5 -5.1l1.5 -0.6l1.5 0.6l1.5 8.6l1.5 0.8l3 -6.2l1.5 0.2l1.5 -0.9l1.5 6.7l1.5 1.2l1.5 -1l1.5 -6.8l1.5 1.7l1.5 -2.8l3 -36l1.5 9.3l3 29.2l1.5 8.1l1.5 0.4l1.5 -4.7l1.5 -7.8l1.5 3.2l1.5 9.2l3 -7.8l3 -15.1l1.5 1.8l3 -3.9l1.5 3.3l3 17.2l1.5 1.5l1.5 -0.7l1.5 -3.2l3 -15.5l4.5 19.4l1.5 1.4l1.5 0.7l3 -8.5l1.5 4.4l1.5 0.5l1.5 1.8l1.5 0.6l1.5 -1.3l1.5 -2.8l1.5 -7l3 10.3l1.5 -2.2l1.5 -34.6l2 -114.8l2.5 124.4l1.5 25l1.5 3.4l1.5 -3.1l1.5 -0.5l1.5 0.3l1.5 -4.7l3 -3.6l1.5 4.4l1.5 0.4l1.5 -22l2.3 -129.5l0.7 15.2l1.5 97.3l1.5 35.7l1.5 -1.9l1.5 -26.3l3 -315.6l0.8 41l2.2 267.8l1.5 43.4l1.5 -0.3l1.5 -8.7l1.5 -0.6l1.5 7.2l1.5 1.2l1.5 -3.8l1.5 -2l1.5 4.3l4.5 7.1l1.5 -7.1l1.5 -14.8l1.5 3.7l1.5 8.9l1.5 3.2l3 -17.2l3 14.9l1.5 0.5l1.5 -1.9l1.5 1.1l1.5 4.9l3 3.6l1.5 -1.1l1.5 -5.4l3 -4.8l1.5 2.1l1.5 5.2l1.5 2.1l1.5 -2.3l1.5 -5.7l1.5 -10.6l1.5 0.7l1.5 8.9l3 -0.6l3 6l3 -9l1.5 1.1l1.5 7.6l1.5 1.2l1.5 -2.7l1.5 -7.2l3 -8.1l1.5 3.3l1.5 9.3l1.5 1.6l1.5 6l1.5 -4.3l1.5 -8.4l1.5 -3l1.5 2.4l1.5 1.2l1.5 -2l1.5 -4.2l1.5 4.8l1.5 -0.7l3 -32.1l1.5 -3.5l3 31.1l1.5 7.8l1.5 -7.7l3 -47.4l1.5 7.3l3 31.9l3 13.4l1.5 2.4l1.5 5.3l1.5 2.9l1.5 0.5l1.5 -6.4l3 3.5l1.5 6.6l1.5 0.1l1.5 -0.8l1.5 -3.6l1.5 -1.6l1.5 0.9l1.5 2.8l1.5 -2.3l1.5 5.4l3 -1.4l3 -13.2l3 11.6l1.5 -0.3l1.5 1.5l1.5 -0.4l1.5 -3.5l1.5 1.3l1.5 -1l3 -11l1.5 -1l1.5 7.2l1.5 4l1.5 1.6l1.5 -4.5l1.5 -2.7l1.5 0l1.5 -4.2l3 -39.4l1.5 -4.6l4.5 45.6l1.5 6.5l1.5 -0.7l1.5 1.3l1.5 -0.2l3 -6.9l1.5 1.7l3 6.8l1.5 1l3 -0.7l3 -5.4l1.5 0.5l3 8.1l1.5 -1.1l1.5 -0.3l3 -2.7l1.5 1.6l1.5 0.6l1.5 5.3l1.5 -4.5l1.5 4l3 -5.1l1.5 -4l1.5 5.6l3 -3.4l3 -0.4l1.5 1.3l1.5 4.1l3 -7.2l4.5 -27.6l1.5 -54.6l2.8 -396.5l3.2 445.5l1.5 36.6l1.5 1.2l1.5 -3.6l1.5 -0.5l1.5 5l3 -3.7l1.5 1.1l1.5 -0.6l1.5 0.9l1.5 -2.4l1.5 -0.9l1.5 -7.8l1.5 -1.3l1.5 2.1l1.5 5l1.5 2.6l1.5 -5l1.5 -0.4l1.5 0.8l3 10l3 -3.6l1.5 -5.1l1.5 2.6l1.5 4.4l1.5 1.7l1.5 -0.4l1.5 -11.6l1.5 -27.5l1.5 -13.3l3 40.5l1.5 3.5l3 -40.9l1.5 -1.2l3 26.8l1.5 1.8l3 8.8l1.5 2.5l1.5 -2.4l1.5 0.7l1.5 -1.5l1.5 6.3l3 6.9l3 -11.3l1.5 4.4l1.5 1.7l1.5 7.9l1.5 -0.6l1.5 0.6l1.5 -2.5l1.5 -6.1l3 2.3l3 -6l1.5 0.5l1.5 3.2l1.5 6.3l1.5 0.1l1.5 -1l1.5 -4.6l1.5 4.5l1.5 -1.9l1.5 1.6l1.5 0.2l1.5 -1.7l1.5 1.2l1.5 -2.8l1.5 2.6l1.5 -0.4l1.5 -6.4l3 -9l4.5 18.1l1.5 0.3l3 -5.9l1.5 -0.6l1.5 1.4l1.5 5.2l1.5 1.9l1.5 -5.5l1.5 3.6l3 3.8l1.5 -1l1.5 -2.9l1.5 -7.5l1.5 -3.6l1.5 -1.2l3 5.2l1.5 6.8l1.5 2.6l6 -20.9l1.5 -7.4l1.5 -14.6l1.5 -0.1l1.5 2.1l1.5 15.1l3 17.1l1.5 2.8l1.5 -0.3l1.5 7.4l1.5 -1.7l1.5 2.2l3 -7.6l1.5 -8l1.5 -3l1.5 2.7l1.5 5.1l1.5 0.9l1.5 -4.4l4.5 14l1.5 1.1l1.5 0.7l1.5 -1.6l1.5 -8l1.5 -1.8l1.5 2.5l1.5 4.5l1.5 -3.3l1.5 -0.8l1.5 5.9l1.5 -5.6l1.5 -11.4l3 7.1l1.5 8.7l3 -0.8l1.5 -1.3l1.5 4.8l1.5 -0.2l1.5 -2.1l1.5 1.7l1.5 -3.5l1.5 -1.7l3 6.2l1.5 -3l1.5 1.1l1.5 -0.4l3 -18.1l1.5 1.6l1.5 9.8l1.5 2.2l3 -12.1l1.5 4.4l1.5 10l3 3.2l1.5 -9.7l3 -8.6l4.5 12.7l1.5 0.6l3 -14.2l1.5 0.1l1.5 -3.6l1.5 -11.1l1.5 -21.2l1.5 -7.8l1.5 8.9l3 38.3l1.5 7.4l3 4.9l1.5 0.2l3 6.2l1.5 -3.2l3 -11.4l1.5 5.2l1.5 -0.3l1.5 -4.2l1.5 -0.8l1.5 8l3 -14.4l1.5 4.6l1.5 9.5l1.5 2.7l1.5 -0.3l1.5 -2.4l3 2.6l3 0.6l1.5 -13.8l3 6.4l1.5 -8.6l1.5 -17.8l4.5 36.1l3 2.6l1.5 -1.5l1.5 -5.9l1.5 2.4l1.5 -1.8l3 4.8l1.5 0.6l3 -16.7l1.5 -2l1.5 2.8l1.5 7.6l4.5 -12.5l3 5.3l1.5 -2.1l1.5 0.6l1.5 2.2l3 7.2l1.5 6.9l1.5 -3.2l3 -14.8l3 14.7l1.5 -3l1.5 -7.5l1.5 -4.4l4.5 3.3l1.5 2.2l1.5 4.1l1.5 7.4l1.5 -3.3l1.5 0.5l1.5 -3.3l3 2.1l1.5 5.8l1.5 -0.6l3 -8.6l1.5 -8l1.5 0.1l1.5 8l4.5 10.4l3 -11.6l1.5 2.8l1.5 5.1l1.5 1l1.5 -3.2l3 -15.6l3 6.8l1.5 5.1l1.5 -2.5l1.5 3.8l1.5 -0.2l3 -1.8l1.5 2.9l1.5 1.5l1.5 5.2l1.5 -1.2l1.5 -0.1l3 -49.1l1.5 3.5l3 44l1.5 2.4l3 -2.3l1.5 -3.2l3 8.2l1.5 0l1.5 0.8l3 -15.7l1.9 -56.6l0.6 -2.5l0.6 6.4l1.4 47.4l1.5 20.5l1.5 -2.9l1.5 1.4l1.5 -1.1l1.5 0.9l1.5 4.2l1.5 -0.7l1.5 -6.6l3 -37.6l1.5 0.8l1.5 8.5l3 29l1.5 2.9l1.5 0.2l1.5 -7.3l3 -0.1l3 9.8l1.5 -0.6l1.5 4.2l1.5 -14.8l3 -301.8l3 295.5l1.5 0.4l6 -67.7l4.5 -36.7l3 -15.9l1.5 -0.8l3 -22l1.5 0l4.5 38.5l1.5 -1l1.5 -8.2l1.5 -3.9l1.5 -1.4l1.5 5.5l4.5 30.7l1.5 19.4l3 27.5l1.5 4l1.5 0.7l1.5 -1.5l3 8.8l1.5 2l1.5 0.6l1.5 5.1l1.5 -2l3 -12.3l1.5 2.5l1.5 5.5l1.5 1.7l1.5 -0.3l1.5 -2.3l1.5 6l3 -7.6l1.5 -8.6l1.5 -0.7l1.5 2.5l3 8.5l3 -5.9l3 -12.8l1.5 3.6l1.5 2.1l1.5 -0.9l1.5 64.1" stroke="#1e8a1e" stroke-width="2.0"/>
<path d="M1440 3007.5l6 -4.8l8 0.8l22 0l1 -0.1l1 -2l1 -21.1l1 -114.8l2.4 -674l2.6 657.2l1 120.5l1 29.3l1 4.4l1 0.5l19 0.2l4 -0.6l4 0.6l14 0" stroke="#4a98a8" stroke-width="1.5"/>
<path d="M1440 3007.5l6 -4l9 -0.5l21 0.5l1 -0.1l1 -1.7l1 -17.8l1 -96.8l2.4 -567.7l2.6 554.5l1 101.3l1 24.3l1 3.3l5 -0.8l9 1.3l6 -0l6 -0.7l7 0.7l9 0.1" stroke="#8a50e0" stroke-width="1.5"/>
<path d="M1540 3007.5l6 -4.1l6 -0.8l10 0.8l19 -0l1 -0.7l1 -8.1l1 -51.4l3 -651.7l3 614.4l1 75.9l1 17.6l1 2.7l5 1.3l28 0.1l2 -0.4l4 -2.2l4 2.1l4 0.5" stroke="#c060c8" stroke-width="1.6"/>
<path d="M1500 3007.5l7 -6.7l3 -6.6l1 -0.5l4 6.5l3 1.3l7 -0l5 -0.8l5 0.9l8 -0.6l9 0.6l3 -0.5l5 -2.1l6 2.4l10 0.2l2 -0.4l2 -1.2l2 0.1l1 -1l1 -11.9l1 -57.8l2.5 -327.7l0.8 47l1.8 253.1l1 73.3l1 21.7l1 3.8l9 1l2 -0.9l1 -3.6l3 -29.4l3 28.8l1 3.2l1 0.4l4 -0.6l5 1.8l4 0.4l2 -0.3l5 -2.2l8 2.4l6 0.2l2 -1l3 -6.2l1 -0.3l3 6l2 1.3l3 -0.1l5 -1.3l6 1.4l8 0.1" stroke="#40e0f8" stroke-width="1.5"/>
<path d="M990 3003.7l3 -1l1 -1.4l2 -7.6l1 -1.5l2 0l1 -1.2l4 -10.4l1 -0.3l2 2.3l3 -0.7l3 4.9l3 2.8l1 0.1l1 -1.3l3 -7.7l1 -0l2 2.4l1 -0.1l2 -2.7l1 -0.2l2 1.7l1 -0.5l2 -2.9l1 0.1l1 -4.8l1 -46.7l2.6 -509.4l2.4 428.9l1 105.2l1 29.1l1 5.1l1 0.7l2 -1.3l3 -3.4l2 -9.1l3 -23.2l1 0.2l1 4.6l3 21.7l5 15.2l1 0.4l2 -1.3l3 -0.9l4 -3.1l3 -1l4 -5l2 0.8l4 5l2 1.5l3 -0.6l2 0.4l3 -1.8l2 -0.2l5 -5.8l3 -0.1l1 -1.4l3 -11.8l1 -1l2 3.1l5 14.1" stroke="#202020" stroke-width="1.4"/>
<path d="M1005 3002.4l2 -5.9l3 -4.7l2 -10.1l1 -1l1 2.9l1 1.1l1 -0.2l1 0.6l1 -0.8l2 -4.7l2 3.6l2 0.5l3 5.1l1 0.7l1 -0.3l2 -4.2l1 0.3l2 3.1l1 -0.9l3 -7.9l1 -1.2l1 0.4l1 1.4l3 6.3l1 -1l3 -9.5l1 -1.4l3 12.5l1 1.1l3 -1.5l3 -7.4l3 4.6l5 -5.6l1 1.4l3 8.3l1 -0.5l2 -9l1 -0.2l1 2.1l1 0.1l4 -11.6l2 -3.8l1 1.3l3 13.7l1 2.2l1 -0.7l1 -4.4l3 -27.4l1 -3.3l1 1.5l1 5l4 35.9" stroke="#3a3a3a" stroke-width="1.3"/>
<path d="M1010 3002.7l1 -2.5l2 -1.8l1 -4.1l2 -21.5l1 1.5l2 18l1 2.4l4 1l4 -2.3l1 -1.8l4 -21.1l1 -1.8l1 1.2l4 14.2l1 1.1l7 -4.6l2 -2.1l1 0.3l3 4.3l1 0.6l1 -0.8l4 -13.2l1 0.6l3 9.8l2 4.5l1 1.2l1 0.2l2 -2l1 -0.1l4 9.1l1 -0.5l2 -5.4l3 6.8l1 -1.4l3 -9.3l1 -1.4l1 0.1l2 3.3l1 0.4l2 -1.1l1 1.9l3 10.9" stroke="#5a2a2a" stroke-width="1.3"/>
<path d="M1000 3003.2l2 -9.5l1 -2.4l1 -0.4l3 2.2l5 -1.2l2 -1.8l3 -6.8l1 -0.2l3 3.8l2 1.4l5 0.1l3 -7.1l1 0.3l2 2.1l2 -0.6l1 0.8l2 0.3l4 3.1l5 -0.4l2 -1.3l3 1.6l1 -0.2l2 -1.8l1 0l4 3.6l4 0.2l1 -0.7l5 -7.4l1 -0.6l1 0.4l2 2l1 -2.6l2 -17.3l1 2.6l2 21.9l1 3.5l1 0.5l2 -0.1l2 -1.1l6 -8.2l1 -0.1l3 2.5l2 -0.5l1 1.8" stroke="#2a6a2a" stroke-width="1.3"/>
<path d="M671 3008l3 -11.3l1.5 -3.1l1.5 4.8l1.5 1.2l3 -0.9l1.5 1.4l1.5 -0.9l1.5 1.7l1.5 0l1.5 1.3l1.5 -5.3l1.5 -0.5l3 0.4l1.5 -2.1l1.5 -8.2l1.5 -33.9l2.5 -155.7l2 133l1.5 52.7l4.5 15.8l1.5 2.4l1.5 -0.4l3 -5.8l1.5 -13.5l1.5 -97.4l2 -273.1l2.5 314.2l1.5 65l3 9l1.5 1.4l3 -0.1l4.5 -2.8l1.5 -0.3l1.5 2.9l1.5 -1.9l1.5 2.3l1.5 -2.3l1.5 -5.6l1.5 -2.1l1.5 0.4l1.5 2.8l1.5 4.7l1.5 -0.3l1.5 -3.1l1.5 0.6l1.5 -0.4l1.5 2.9l1.5 -1.6l1.5 0.5l1.5 -3.8l1.5 -0.6l1.5 2.5l1.5 -0.2l3 -24l1.5 1.7l4.5 26.5l1.5 0.4l1.5 4l1.5 -3.5l1.5 1.4l1.5 -5.3l3 4.7l1.5 1.1l1.5 0l1.5 -1.9l1.5 0.9l1.5 -2.1l1.5 -0.1l3 2.8l3 -3.5l3 -0.8l1.5 -2.7l1.5 3.2l3 0.8l4.5 -6.6l1.5 1.4l1.5 5.1l1.5 0.7l1.5 -5l1.5 -2.4l3 6.3l1.5 -1l1.5 2.2l3 -3.4l1.5 -6.9l1.5 0.7l1.5 1.7l1.5 6.8l1.5 -2.1l3 -6.8l1.5 -0.4l1.5 3.4l1.5 -0.5l1.5 0.9l3 -5.1l1.5 1l1.5 -1l1.5 -5.6l1.5 1.2l3 6.7l1.5 5l1.5 -3.5l1.5 -7.1l1.5 1.1l1.5 2.4l1.5 5.4l1.5 0.4l3 -1.3l1.5 -2.9l1.5 0.3l1.5 1.4l1.5 0.5l1.5 3.4l3 0.9l1.5 -1.1l1.5 -2.4l3 2.5l1.5 -1.9l3 -22.5l1 -2.4l0.5 0.3l1.5 17.2l1.5 5.2l1.5 -2.2l1.5 -14.1l1.5 -27.2l1.5 25.7l1.5 12.7l1.5 -4.2l1.5 1l3 6.2l1.5 -2.7l1.5 0.4l1.5 -1l1.5 0l1.5 5.8l1.5 0.6l3 -7.7l1.5 7.7l3 3l1.5 -1.8l1.5 0.8l1.5 -2.5l1.5 1.2l1.5 -1.8l1.5 0.7l1.5 -3.9l1.5 0.9l1.5 2.4l1.5 -4.3l1.5 -1.3l1.5 3.9l1.5 0l1.5 2.1l1.5 -0.7l1.5 -2.5l1.5 3.1l3 -2.3l3 2l1.5 2.8l1.5 -2.1l1.5 0.2l1.5 -1.9l1.5 -7l1.5 -1.9l1.5 7.5l1.5 2.7l1.5 1.4l1.5 -2.4l1.5 3l3 -11l1.5 -2l3 7.2l1.5 -1.9l1.5 0.9l1.5 -2.3l1.5 3.9l1.5 -0.9l1.5 -2.3l1.5 0.3l1.5 3.6l1.5 0.3l1.5 2.5l1.5 0.3l3 -8.8l1.5 -1l6 9.5l1.5 -4.2l1.5 -1.5l1.5 1.2l1.5 3.7l1.5 1.8l1.5 -3.6l1.5 -0.9l1.5 0.2l1.5 1.2l1.5 -1l3 -13.9l1.5 -5.1l1.5 -2.6l1.5 3.4l1.5 8.4l6 11.9l1.5 -1l1.5 1l1.5 -5.2l1.5 -2.7l4.5 8l1.5 -2.4l3 -22.6l1.5 3.7l1.5 13l1.5 7.8l1.5 1.9l4.5 -6.2l1.5 -0.6l1.5 1l1.5 4.6l3 3.4l4.5 -12.4l3 7.2l1.5 -4.6l1.5 -0.8l1.5 -2.4l1.5 4.8l3 6.2l1.5 0.3l1.5 -1.8l1.5 -9.4l3 -7.5l1.5 1.9l4.5 16.6l1.5 0.4l3 -13.8l1.9 -29.7l0.6 -1.7l2 36.2l1.5 9.1l3 1.3l1.5 -1.4l1.5 -0.4l3 1.9l1.5 -2.9l1.5 2.8l1.5 -2.9l3 -0.2l1.5 -1.1l1.5 -2.5l1.5 3.2l1.5 1.3l3 -7.1l1.5 -0.4l1.5 2.2l1.5 0l1.5 4.3l1.5 -2.4l1.5 3.1l1.5 -4.3l1.5 -0.6l1.5 -5l1.5 0.6l1.5 3.4l1.5 -0.8l1.5 3.9l1.5 -0.6l1.5 -4.3l3 2.2l1.5 3l4.5 -1.6l1.5 2.8l1.5 -0.1l1.5 -6.6l3 7l1.5 0.3l1.5 -3.4l1.5 3l1.5 0.1l1.5 -0.6l1.5 -2.5l1.5 -1.3l1.5 1.2l3 -3.2l1.5 0.5l1.5 -0.3l1.5 -5.9l1.5 -13.3l1.5 -4.6l1.5 4.1l1.5 11.2l3 15.1l1.5 1.7l1.5 -1.1l2.5 -43.1l0.5 4.2l0.1 -2.9l1.4 28.3l1.5 13.3l1.5 4l1.5 1l4.5 -8l1.5 0.9l1.5 -1.8l1.5 3.8l1.5 -0.4l1.5 -4.7l1.5 -0.3l1.5 2.3l1.5 0.3l1.5 -5.8l1.5 1.9l3 0.5l1.5 1.5l1.5 -3.1l1.5 0.5l1.5 1.8l3 7.3l1.5 -0.5l1.5 1.5l3 -4.9l1.5 -0.7l6 5.7l1.5 0.3l3 -6.7l3 -5l3 -8l1.5 -1.8l1.5 3.6l1.5 1.8l1.5 0.8l3 7l1.5 1.5l1.5 5l1.5 -3.2l1.5 0.6l1.5 3l1.5 1l1.5 -3l1.5 1.6l1.5 -6.2l1.5 -0.8l1.5 -4.3l1.5 5.3l1.5 1.8l1.5 3.7l1.5 -3.5l1.5 -0.5l4.5 3.1l4.5 -9.4l1.5 1.4l1.5 5.9l1.5 0.7l3 -3.2l3 8.1l4.5 -10.3l1.5 6.7l1.5 0.8l1.5 4.1l3 -8.5l3 2.9l1.5 3.8l1.5 2.1l4.5 -3.2l3 0.5l1.5 -3.8l1.5 -1.8l1.5 3.5l1.5 2l1.5 -1.9l1.5 -5.5l1.5 -2.2l3 7.5l3 0.1l3 3.1l1.5 -1.7l1.5 2.9l1.5 -2.6l1.5 -1.2l1.5 0.7l1.5 3.2l3 -4.9l1.5 2.4l1.5 -0.2l1.5 -2.6l1.5 0.2l1.5 -2l1.5 5l1.5 2.4l1.5 -2.3l1.5 0.5l1.5 -2.2l1.5 4.1l1.5 -1.6l1.5 1.2l3 -6.5l1.5 -6l1.5 -0.1l3 10.9l3 -0.8l1.5 1.1l3 -13.4l4.5 12.6l3 -6.5l1.5 -4.8l1.5 5.5l1.5 2.1l3 2.1l1.5 -3.9l1.5 1.6l1.5 -1l1.5 5.6l3 -0.4l1.5 -4.3l4.5 0.7l1.5 -2.7l1.5 0.5l1.5 -2.7l1.5 4.7l1.5 0.7l1.5 2.4l3 -8.2l1.5 -1.8l1.5 4.7l4.5 7.4l1.5 -0.3l3 -7.8l1.5 -0.3l1.5 2.2l1.5 4.4l1.5 1.5l1.5 -4.4l1.5 -1.8l1.5 -4.1l1.5 8.2l1.5 3.1l3 -1.8l1.5 3.1l1.5 -3.5l1.5 -0.2l1.5 3.8l1.5 -2.5l1.5 0.6l1.5 2.6l3 -8.2l1.5 0.3l3 4.1l1.5 -0.2l1.5 0.8l1.5 -2l1.5 0.9l1.5 -1.3l3 -6l1.5 1.4l1.5 5.4l1.5 3.2l3 1.6l1.5 -2.5l1.5 0.8l1.5 -4.8l1.5 2.6l1.5 0.4l1.5 -0.8l1.5 -2.9l1.5 -10.7l1.5 -3.4l3 16.2l1.5 1.2l1.5 -0.6l4.5 4.5l1.5 -2.2l1.5 -1l1.5 1.1l1.5 -2.6l1.5 -0.2l4.5 5.1l3 -4.9l1.5 -3.9l1.5 -1.8l1.5 1.9l1.5 6.4l1.5 -0.7l1.5 0.1l1.5 2.1l3 -5.7l1.5 0.5l1.5 -2.6l1.5 1.8l3 0.7l1.5 -1.3l1.5 0.8l3 -3.4l1.5 -0.5l3 2.5l1.5 3.1l3 -6.7l1.5 1.4l1.5 -0.5l4.5 5.5l1.5 -0.8l1.5 2.7l4.5 0.2l3 3.1l1.5 -1.2l1.5 1.3l1.5 -2.1l1.5 -7l1.5 -0.1l1.5 3.8l3 5l1.5 -4.1l1.5 -0l3 5.3l1.5 -1.1l1.5 -2.3l1.5 -5.7l3 -4l1.5 1.9l3 9.1l1.5 1.5l3 -7.1l1.5 -2.2l1.5 0.3l3 5.6l3 4.3l1.5 -1.7l1.5 -3.1l1.5 -0.3l3 5.4l1.5 -1.7l1.5 3.1l4.5 -12.6l1.5 3.9l4.5 6.3l4.5 -3.1l1.5 -0.2l4.5 2.5l1.5 -0.5l1.5 -1.4l1.5 0.8l1.5 -3.4l1.5 -1.7l1.5 -0.5l1.5 3.1l1.5 1.2l1.5 -0.3l1.5 1.5l1.5 -3.2l3 -3.7l3 6.5l1.5 -1.7l3 -7.8l1.5 4.2l1.5 1.8l1.5 3.7l1.5 1.5l1.5 0l3 -3.3l1.5 -3.1l1.5 -0.2l3 5.5l1.5 -3.6l1.5 1.9l3 0.3l1.5 -6.8l1.5 -13.6l1.5 -5.8l1.5 0.4l4.5 23l1.5 -1.2l1.5 -4.5l1.5 2.8l3 3.3l1.5 -4l1.5 -0.7l1.5 3.2l3 2.7l3 4.5l1.5 0.3l1.5 -1.1l1.5 0.2l1.5 1.9l1.5 -2.8l1.5 1l1.5 -0l1.5 0.8l1.5 1.7l1.5 0.2l3 -10.5l1.5 2l1.5 -0.2l1.5 -2.5l1.5 -7.6l1.5 1.4l1.5 0.5l3 7.5l1.5 -2.6l1.5 -0.2l1.5 -5.7l1.5 1l1.5 4.5l1.5 -0.9l1.5 0.7l3 -24.4l1.5 -1.1l3 21l1.5 2.1l1.5 -3.4l1.5 -0.3l1.5 -1l1.5 0.6l3 -3.2l1.5 -0.6l1.5 5.1l3 1.9l1.5 -3.6l1.5 -0.8l1.5 2.9l3 3.6l1.5 -1.2l1.5 0.4l1.5 -1l1.5 -6.6l1.5 -0.6l1.5 1.6l1.5 -2l1.5 2.7l3 2.9l1.5 -2.2l1.5 -0.6l1.5 0.2l1.5 2.2l3 -5.8l1.5 -1.5l1.5 1.4l1.5 5.9l3 -5.9l1.5 11.7" stroke="#f020f0" stroke-width="2.0"/>
<path d="M671 3003.1l3 -6.7l1.5 -0.5l1.5 -2.7l3 -1.6l1.5 2.2l3 -0.8l1.5 1.2l3 -11.6l3 13.9l1.5 1.8l3 -4.5l1.5 0.7l1.5 -0l3 6l1.5 -1.3l1.5 -3.7l3 0.9l1.5 -4l1.5 0.3l1.5 -2.1l1.5 -7.9l1.5 0.2l3 11.6l1.5 1.7l3 -14.4l1.5 2.1l3 15.1l1.5 -4.4l1.5 2.2l1.5 -2.1l1.5 -5.5l4.5 7.3l3 -8.8l1.5 -0.2l1.5 5.9l1.5 -3.3l1.5 0.1l1.5 4.9l1.5 -1.1l1.5 -6.6l3 -40.6l1.5 -3.7l4.5 44.5l1.5 4.1l1.5 -0.5l1.5 5.8l1.5 1.9l1.5 -5l1.5 -2.7l1.5 -6.7l1.5 1.2l1.5 -1.2l3 1.6l1.5 1.4l1.5 -1.2l3 5.6l1.5 -2.2l1.5 -7.8l4.5 15.1l3 -5.5l1.5 3.1l1.5 -1.3l1.5 -3.4l1.5 3.4l1.5 -2.3l1.5 0.5l1.5 -6.5l3 -28.4l1.5 5.7l1.5 10.7l3 2.3l3 13.4l1.5 -1.3l1.5 -2.8l1.5 1.8l1.5 4.1l1.5 1.8l3 -1.1l1.5 -3.8l1.5 1l3 4.2l1.5 -2l3 -9.9l1.5 0.7l1.5 8.1l1.5 1l4.5 -6.6l1.5 -6.4l1.5 0.4l3 5.7l1.5 -1.2l1.5 -7.6l1.5 0.7l1.5 2.8l1.5 6l1.5 -5l3 -49.4l3 43l1.5 7.7l1.5 -3.7l1.5 8l1.5 0.6l1.5 3.5l1.5 -1.2l3 -19.6l1.5 3.5l1.5 12.9l1.5 -0.8l1.5 0.5l1.5 -5.2l1.5 -1.9l1.5 -0.4l1.5 -0.1l1.5 4.5l1.5 2l1.5 -1.2l1.5 0.8l1.5 -4l1.5 0.2l1.5 -5.4l1.5 6.2l3 3l1.5 -1.5l3 -9.2l3 9.6l3 -10.4l1.5 -3.3l3 10.4l1.5 3.2l3 -4.7l1.5 -9.7l3 4.5l1.5 -0.3l1.5 -4l1.5 2.2l3 10.5l3 -9.6l1.5 -0.7l1.5 -3.3l3 3.1l1.5 3.4l1.5 1.8l1.5 3.8l1.5 -5.5l1.5 1.7l1.5 0.4l3 -6.6l1.5 -5l1.5 2.8l1.5 10l1.5 2.9l3 -4.2l1.5 0.4l3 4.6l3 -17.8l1.5 4l1.5 9.4l1.5 1l1.5 2.6l1.5 0.5l1.5 -9.1l1.5 -3l1.5 -0.3l1.5 2.7l1.5 0.4l1.5 1.9l1.5 -1l1.5 -5.2l1.5 1.7l1.5 -1.6l1.5 2.3l1.5 -1.9l1.5 -10l1.5 -4.1l1.5 5l3 5.4l1.5 4.5l1.5 -4.6l3 -0.2l1.5 -0.7l1.5 1.3l1.5 -4.9l1.5 -0.7l3 -5.6l1.5 1.7l1.5 5.4l1.5 -6l1.5 1.8l1.5 -0.7l1.5 0.8l1.5 -12.5l1.5 -38l3 -392.7l0.8 59.5l2.2 309.6l1.5 71l1.5 8l1.5 -2.3l1.5 -7.4l3 7.1l1.5 6l1.5 -3.8l1.5 -1l1.5 3.4l3 -3.3l1.5 -9.7l1.5 -1.5l3 18.7l1.5 -3.9l1.5 1.5l1.5 -0.7l1.5 -4.3l1.5 0.9l1.5 3.2l1.5 -1.7l1.5 -4.1l4.5 4.3l1.5 7.6l1.5 3.6l1.5 -1.8l3 1.2l1.5 -1.5l1.5 2.3l1.5 -6.8l1.5 -20.4l1.5 -0.1l1.5 24.3l1.5 8.6l1.5 -0.7l1.5 0.2l1.5 -1.4l1.5 2.1l1.5 -5.8l1.5 -2.1l1.5 0.2l3 10l1.5 0.5l1.5 -1.7l3 -14.6l1.5 4.9l1.5 0.3l1.5 -6.3l1.5 -1.2l1.5 6.6l3 -76.8l3 83.6l1.5 -1.1l1.5 3.5l1.5 -1.9l1.5 1.7l1.5 -0.7l1.5 0.3l6 -12.3l1.5 6.7l1.5 -9.4l1.5 -56.6l2.2 -234.4l2.3 237.2l1.5 65.9l1.5 1.7l1.5 -0.6l1.5 4.2l1.5 2.3l1.5 -3.5l1.5 0.2l3 -12.5l1.5 2.5l1.5 8.4l1.5 3.7l1.5 -3l1.5 -9.3l3 10.9l1.5 -1.9l1.5 0.5l1.5 -7l3 -5.6l1.5 0.7l1.5 6.1l1.5 1.6l1.5 4.6l3 -8.9l1.5 0.4l1.5 8.3l1.5 -2.3l3 -10.2l1.5 -2.7l1.5 1.5l1.5 3.2l1.5 -5.5l1.5 -0.7l3 11.4l1.5 2.4l1.5 0.2l1.5 2.2l1.5 -5.7l1.5 4.4l1.5 -0.9l1.5 -9.7l1.5 -2.5l1.5 14l1.5 0.2l1.5 1.2l1.5 -5.3l1.5 -10.3l1.5 1.1l3 13l1.5 -5.1l1.5 2.6l1.5 -2.1l1.5 4.2l1.5 0.7l3 3.6l1.5 -2.6l3 3.2l1.5 -1.3l1.5 2.2l3 -11.3l1.5 -9.6l1.5 2.7l1.5 8.2l1.5 4.2l1.5 -0.1l4.5 -13.4l3 14l1.5 3.5l1.5 -1.3l1.5 -3.3l1.5 -1.7l1.5 -5.4l3 8.2l1.5 -1.9l1.5 4.8l1.5 -7.1l3 -9.7l3 11.5l1.5 -3.2l3 -84.8l1.5 21l1.5 11.2l4.5 50.3l1.5 1.7l1.5 -4.8l1.5 -0.5l1.5 1.6l1.5 7.8l1.5 1.7l1.5 3.2l1.5 -9.8l1.5 -3.2l1.5 7l1.5 -3.3l1.5 -0.7l3.5 -56.4l2.5 59.2l1.5 8.9l3 -9.6l1.5 -0.9l1.5 5.3l1.5 -0.5l1.5 -8.2l1.5 -0.3l1.5 2.1l1.5 8.5l1.5 3.7l1.5 -0.4l1.5 -2.7l1.5 -8.4l1.5 -2.3l1.5 3.7l1.5 7.9l1.5 1.5l3 -6l1.5 -0.2l1.5 -8.2l1.5 -1.1l1.5 1.7l1.5 6.5l1.5 -6.9l1.5 -0.3l1.5 9.4l1.5 2.6l3 -15.2l3 7.4l1.5 6.1l3 -2.1l3 2.3l1.5 -4l1.5 -1.3l3 2.2l1.5 3.1l1.5 -1.7l1.5 -5l1.5 -0.9l1.5 4.6l1.5 1.8l1.5 -0.5l1.5 -1.7l3 -11.1l1.5 9.3l3 6l1.5 0.7l1.5 -1.1l1.5 -10l1.5 1.4l3 11.1l1.5 -0.6l1.5 0.2l1.5 -8l1.5 3l1.5 0.2l1.5 -0.6l1.5 -4.5l1.5 -2.5l1.5 0.5l3 13.2l1.5 1.1l1.5 -1.2l1.5 -10.3l1.5 -2.8l1.5 3.1l1.5 9.9l1.5 0l1.5 2.1l1.5 -4.6l1.5 -9l1.5 2.2l1.5 5.5l1.5 1.6l1.5 -8.4l1.5 -0.7l1.5 4.2l1.5 0.9l1.5 -6.5l3 10.6l1.5 1.9l1.5 -2.1l1.5 2l1.5 -7.4l1.5 5.6l3 2.7l1.5 -2.4l1.5 -9.2l1.5 -2.4l3 1.5l3 -6l3 15.8l1.5 -0.4l1.5 -3.2l3 -3.2l3 10.8l1.5 -2.3l3 -11.8l1.5 0.5l3 10.2l3 -14.3l1.5 -0.4l1.5 9.7l3 11.2l1.5 -7.8l1.5 -13.1l4.5 18.2l1.5 -0.1l1.5 -13.4l3 -41.1l4.5 26.1l3 23.5l1.5 4.3l1.5 0.5l1.5 -2.4l1.5 -6l3 -2.9l1.5 5.9l1.5 -0.2l1.5 -1.2l1.5 3.9l3 -9l1.5 -2.6l4.5 18.9l3 -7.2l3 0.2l1.5 -0.6l3 6.5l3 -6.4l1.5 -8.2l1.5 -4.9l1.5 9.5l1.5 3.1l3 -65.9l1.5 31.4l1.5 17.8l1.5 -11.9l1.5 0.6l1.5 2.9l1.5 15.7l1.5 7.7l1.5 -8.5l1.4 -38.3l0.1 2.9l0.5 -4.8l0.6 3l1.9 45.4l1.5 5.6l1.5 2.8l1.5 -6.5l1.5 0.1l1.5 1.8l3 7.4l4.5 -17.8l1.5 4.4l1.5 10.4l1.5 2.7l1.5 -4.6l1.5 3l1.5 -5.6l1.5 -0.3l1.5 -2.5l1.5 -6l1.5 3.9l1.5 1.3l1.5 -4.3l1.5 1.5l1.5 7.3l1.5 0.5l1.5 6.7l1.5 -3.6l3 1.2l1.5 -3.8l1.5 3.2l1.5 -1l1.5 -3.2l3 1.7l1.5 -5.6l2.5 -68.4l2 57.8l1.5 13.9l1.5 3.7l1.5 2l1.5 -0.5l1.5 -1.3l1.5 -4.1l1.5 -0l1.5 -1.3l1.5 0.6l1.5 -4.6l1.5 -0.4l3 -4.9l3 10.9l1.5 1.3l1.5 2.4l1.5 -2.9l1.5 0.6l3 -11.7l1.5 -3.4l1.5 -22.1l0.9 -6.5l2.1 34.4l1.5 12.8l1.5 -0.3l3 3.5l1.5 -9.1l1.5 -33l1.5 -13.4l3 44.5l1.5 -3.4l1.5 -11.2l1.5 15.2l1.5 5.1l1.5 -2.8l1.5 3l1.5 6.7l1.5 -1.7l3 -1.2l1.5 -1.7l3 5.1l3 -8.7l1.5 0.7l1.5 9.2l1.5 -2.7l1.5 0.6l3 -31.1l1.5 -5.6l3 30.3l1.5 5.5l1.5 2.4l1.5 -6.1l1.5 -2.9l1.5 1.1l1.5 5.1l1.5 2l1.5 0.8l3 -9.8l4.5 -27.4l1.5 -0.9l1.5 -2.9l1.5 -7.8l1.5 3.5l1.5 21.1l3 25.2l1.5 -3.3l1.9 -61.6l0.6 -14l0.5 -1.7l1.4 21l1.6 43.7l1.5 13.1l1.5 4.4l1.5 -4.3l1.5 0l1.5 6.4l1.5 -2.1l1.5 -7l1.5 1.7l1.5 6.4l1.5 1.4l1.5 -0.4l1.5 4.1l1.5 -1.3l1.5 4.2l1.5 -2.7l1.5 -0.2l1.5 -2.7l3 2.8l1.5 -4.3l1.5 -0.8l1.5 1.9l1.5 0.5l1.5 -1.4l3 -11.3l1.5 7.4l3 8.6l1.5 -0.3l3 -10.1l1.5 0.6l1.5 2.1l1.5 4.9l1.5 1.9l1.5 -1.3l3 -1.3l1.5 3.4l1.5 -0.9l1.5 -2.7l1.5 -1.4l1.5 1.1l4.5 6.6l1.5 -4.7l1.5 0.3l1.5 -4.6l1.5 -1.4l1.5 0.9l1.5 4l1.5 -1.3l1.5 -5.1l1.5 10.1l1.5 -0.2l1.5 2.3l1.5 -0.8l1.5 2.7l1.5 -3.1" stroke="#2a2af0" stroke-width="1.8"/>
<path d="M671 3007.9H1880 M2004 3007.9H2036" stroke="#8cc838" stroke-width="2"/></g>
<g fill="#222"><text x="823" y="2938.4" font-size="29.8" textLength="77.9" lengthAdjust="spacingAndGlyphs">22.27</text><text x="933" y="2916.6" font-size="29.4" textLength="80.6" lengthAdjust="spacingAndGlyphs">25.90</text><text x="997" y="2936.7" font-size="28.8" textLength="80.8" lengthAdjust="spacingAndGlyphs">26.56</text><text x="1076.4" y="2890.1" font-size="29.4" textLength="79.9" lengthAdjust="spacingAndGlyphs">30.48</text><text x="1167.4" y="2919.7" font-size="28.8" textLength="78.3" lengthAdjust="spacingAndGlyphs">33.48</text><text x="1246.4" y="2900.1" font-size="28" textLength="80.2" lengthAdjust="spacingAndGlyphs">36.10</text><text x="1319.4" y="2913.1" font-size="28" textLength="78.1" lengthAdjust="spacingAndGlyphs">37.00</text><text x="1424.4" y="2934.6" font-size="28.7" textLength="79.9" lengthAdjust="spacingAndGlyphs">41.83</text><text x="1535.4" y="2914.1" font-size="28.4" textLength="77.9" lengthAdjust="spacingAndGlyphs">45.44</text><text x="1609.9" y="2913.1" font-size="29.4" textLength="79.9" lengthAdjust="spacingAndGlyphs">47.82</text><text x="1730.9" y="2911.1" font-size="28.4" textLength="76" lengthAdjust="spacingAndGlyphs">51.81</text></g>
<g stroke="#9a9a9a" stroke-width="2">
<path d="M199.5 3219.6V4553.5"/>
<path d="M192.5 4461H199.5M192.5 4368.5H199.5M192.5 4276.1H199.5M192.5 4183.6H199.5M192.5 4091.1H199.5M192.5 3998.6H199.5M192.5 3906.1H199.5M192.5 3813.7H199.5M192.5 3721.2H199.5M192.5 3628.7H199.5M192.5 3536.2H199.5M192.5 3443.7H199.5M192.5 3351.3H199.5M192.5 3258.8H199.5M196.5 4507.3H199.5M196.5 4414.8H199.5M196.5 4322.3H199.5M196.5 4229.8H199.5M196.5 4137.3H199.5M196.5 4044.9H199.5M196.5 3952.4H199.5M196.5 3859.9H199.5M196.5 3767.4H199.5M196.5 3674.9H199.5M196.5 3582.5H199.5M196.5 3490H199.5M196.5 3397.5H199.5M196.5 3305H199.5"/>
</g>
<path d="M353.2 4553.5V4561.5M506.3 4553.5V4561.5M659.4 4553.5V4561.5M812.5 4553.5V4561.5M965.6 4553.5V4561.5M1118.7 4553.5V4561.5M1271.8 4553.5V4561.5M1424.9 4553.5V4561.5M1578 4553.5V4561.5M1731.1 4553.5V4561.5M1884.2 4553.5V4561.5M230.7 4553.5V4557.5M261.3 4553.5V4557.5M292 4553.5V4557.5M322.6 4553.5V4557.5M383.8 4553.5V4557.5M414.4 4553.5V4557.5M445.1 4553.5V4557.5M475.7 4553.5V4557.5M536.9 4553.5V4557.5M567.5 4553.5V4557.5M598.2 4553.5V4557.5M628.8 4553.5V4557.5M690 4553.5V4557.5M720.6 4553.5V4557.5M751.3 4553.5V4557.5M781.9 4553.5V4557.5M843.1 4553.5V4557.5M873.7 4553.5V4557.5M904.4 4553.5V4557.5M935 4553.5V4557.5M996.2 4553.5V4557.5M1026.8 4553.5V4557.5M1057.5 4553.5V4557.5M1088.1 4553.5V4557.5M1149.3 4553.5V4557.5M1179.9 4553.5V4557.5M1210.6 4553.5V4557.5M1241.2 4553.5V4557.5M1302.4 4553.5V4557.5M1333 4553.5V4557.5M1363.7 4553.5V4557.5M1394.3 4553.5V4557.5M1455.5 4553.5V4557.5M1486.1 4553.5V4557.5M1516.8 4553.5V4557.5M1547.4 4553.5V4557.5M1608.6 4553.5V4557.5M1639.2 4553.5V4557.5M1669.9 4553.5V4557.5M1700.5 4553.5V4557.5M1761.7 4553.5V4557.5M1792.3 4553.5V4557.5M1823 4553.5V4557.5M1853.6 4553.5V4557.5M1914.8 4553.5V4557.5M1945.4 4553.5V4557.5M1976.1 4553.5V4557.5M2006.7 4553.5V4557.5" stroke="#9a9a9a" stroke-width="2"/>
<g fill="#3c3c3c"><text x="64" y="3228.1" font-size="30" textLength="44.2" lengthAdjust="spacingAndGlyphs">2.9</text><text x="114.8" y="3228.2" font-size="29.3" textLength="17.3" lengthAdjust="spacingAndGlyphs">×</text><text x="133" y="3228.1" font-size="30" textLength="35.7" lengthAdjust="spacingAndGlyphs">10</text><text x="168.4" y="3216.4" font-size="15.2" textLength="11.7" lengthAdjust="spacingAndGlyphs">5</text><text x="60.9" y="4475.3" font-size="31.4" textLength="42.4" lengthAdjust="spacingAndGlyphs">2.0</text><text x="110.2" y="4475.4" font-size="30.8" textLength="18.6" lengthAdjust="spacingAndGlyphs">×</text><text x="134.3" y="4475.3" font-size="31.4" textLength="39.7" lengthAdjust="spacingAndGlyphs">10</text><text x="173.4" y="4463.3" font-size="16.1" textLength="8.4" lengthAdjust="spacingAndGlyphs">4</text><text x="61.7" y="4382.8" font-size="31.4" textLength="41.5" lengthAdjust="spacingAndGlyphs">4.0</text><text x="110.2" y="4383" font-size="30.8" textLength="18.6" lengthAdjust="spacingAndGlyphs">×</text><text x="134.3" y="4382.8" font-size="31.4" textLength="39.7" lengthAdjust="spacingAndGlyphs">10</text><text x="173.4" y="4370.8" font-size="16.1" textLength="8.4" lengthAdjust="spacingAndGlyphs">4</text><text x="60.9" y="4290.3" font-size="31.4" textLength="42.4" lengthAdjust="spacingAndGlyphs">6.0</text><text x="110.2" y="4290.5" font-size="30.8" textLength="18.6" lengthAdjust="spacingAndGlyphs">×</text><text x="134.3" y="4290.3" font-size="31.4" textLength="39.7" lengthAdjust="spacingAndGlyphs">10</text><text x="173.4" y="4278.4" font-size="16.1" textLength="8.4" lengthAdjust="spacingAndGlyphs">4</text><text x="61.1" y="4197.9" font-size="31.4" textLength="42.1" lengthAdjust="spacingAndGlyphs">8.0</text><text x="110.2" y="4198" font-size="30.8" textLength="18.6" lengthAdjust="spacingAndGlyphs">×</text><text x="134.3" y="4197.9" font-size="31.4" textLength="39.7" lengthAdjust="spacingAndGlyphs">10</text><text x="173.4" y="4185.9" font-size="16.1" textLength="8.4" lengthAdjust="spacingAndGlyphs">4</text><text x="59.7" y="4102.4" font-size="31.4" textLength="44.8" lengthAdjust="spacingAndGlyphs">1.0</text><text x="112.3" y="4102.5" font-size="30.8" textLength="17.3" lengthAdjust="spacingAndGlyphs">×</text><text x="136.6" y="4102.4" font-size="31.4" textLength="35.2" lengthAdjust="spacingAndGlyphs">10</text><text x="171.8" y="4090.2" font-size="15.9" textLength="10.8" lengthAdjust="spacingAndGlyphs">5</text><text x="59.7" y="4014.7" font-size="31.8" textLength="45.3" lengthAdjust="spacingAndGlyphs">1.2</text><text x="112.3" y="4014.5" font-size="30.8" textLength="17.3" lengthAdjust="spacingAndGlyphs">×</text><text x="136.6" y="4014.4" font-size="31.4" textLength="35.2" lengthAdjust="spacingAndGlyphs">10</text><text x="171.8" y="4002.3" font-size="15.9" textLength="10.8" lengthAdjust="spacingAndGlyphs">5</text><text x="59.7" y="3922.2" font-size="32.3" textLength="44.5" lengthAdjust="spacingAndGlyphs">1.4</text><text x="112.3" y="3922.1" font-size="30.8" textLength="17.3" lengthAdjust="spacingAndGlyphs">×</text><text x="136.6" y="3921.9" font-size="31.4" textLength="35.2" lengthAdjust="spacingAndGlyphs">10</text><text x="171.8" y="3909.8" font-size="15.9" textLength="10.8" lengthAdjust="spacingAndGlyphs">5</text><text x="59.7" y="3829.4" font-size="31.4" textLength="45" lengthAdjust="spacingAndGlyphs">1.6</text><text x="112.3" y="3829.6" font-size="30.8" textLength="17.3" lengthAdjust="spacingAndGlyphs">×</text><text x="136.6" y="3829.4" font-size="31.4" textLength="35.2" lengthAdjust="spacingAndGlyphs">10</text><text x="171.8" y="3817.3" font-size="15.9" textLength="10.8" lengthAdjust="spacingAndGlyphs">5</text><text x="59.7" y="3733.5" font-size="31.4" textLength="45" lengthAdjust="spacingAndGlyphs">1.8</text><text x="112.3" y="3733.6" font-size="30.8" textLength="17.3" lengthAdjust="spacingAndGlyphs">×</text><text x="136.6" y="3733.5" font-size="31.4" textLength="35.2" lengthAdjust="spacingAndGlyphs">10</text><text x="171.8" y="3721.3" font-size="15.9" textLength="10.8" lengthAdjust="spacingAndGlyphs">5</text><text x="60.5" y="3641" font-size="31.4" textLength="44" lengthAdjust="spacingAndGlyphs">2.0</text><text x="112.3" y="3641.1" font-size="30.8" textLength="17.3" lengthAdjust="spacingAndGlyphs">×</text><text x="136.6" y="3641" font-size="31.4" textLength="35.2" lengthAdjust="spacingAndGlyphs">10</text><text x="171.8" y="3628.8" font-size="15.9" textLength="10.8" lengthAdjust="spacingAndGlyphs">5</text><text x="60.5" y="3548.8" font-size="31.8" textLength="44.4" lengthAdjust="spacingAndGlyphs">2.2</text><text x="112.3" y="3548.6" font-size="30.8" textLength="17.3" lengthAdjust="spacingAndGlyphs">×</text><text x="136.6" y="3548.5" font-size="31.4" textLength="35.2" lengthAdjust="spacingAndGlyphs">10</text><text x="171.8" y="3536.4" font-size="15.9" textLength="10.8" lengthAdjust="spacingAndGlyphs">5</text><text x="60.5" y="3456.3" font-size="31.8" textLength="43.6" lengthAdjust="spacingAndGlyphs">2.4</text><text x="112.3" y="3456.2" font-size="30.8" textLength="17.3" lengthAdjust="spacingAndGlyphs">×</text><text x="136.6" y="3456" font-size="31.4" textLength="35.2" lengthAdjust="spacingAndGlyphs">10</text><text x="171.8" y="3443.9" font-size="15.9" textLength="10.8" lengthAdjust="spacingAndGlyphs">5</text><text x="60.5" y="3363.5" font-size="31.4" textLength="44.1" lengthAdjust="spacingAndGlyphs">2.6</text><text x="112.3" y="3363.7" font-size="30.8" textLength="17.3" lengthAdjust="spacingAndGlyphs">×</text><text x="136.6" y="3363.5" font-size="31.4" textLength="35.2" lengthAdjust="spacingAndGlyphs">10</text><text x="171.8" y="3351.4" font-size="15.9" textLength="10.8" lengthAdjust="spacingAndGlyphs">5</text><text x="60.5" y="3269.1" font-size="31.4" textLength="44.1" lengthAdjust="spacingAndGlyphs">2.8</text><text x="112.3" y="3269.2" font-size="30.8" textLength="17.3" lengthAdjust="spacingAndGlyphs">×</text><text x="136.6" y="3269.1" font-size="31.4" textLength="35.2" lengthAdjust="spacingAndGlyphs">10</text><text x="171.8" y="3256.9" font-size="15.9" textLength="10.8" lengthAdjust="spacingAndGlyphs">5</text><text x="121.1" y="4567.1" font-size="29.4" textLength="43" lengthAdjust="spacingAndGlyphs">0.0</text></g>
<g fill="#222"><text x="335.3" y="4593.2" font-size="30.1" textLength="16.7" lengthAdjust="spacingAndGlyphs">5</text><text x="478.3" y="4593.2" font-size="29.7" textLength="33" lengthAdjust="spacingAndGlyphs">10</text><text x="631.2" y="4593.2" font-size="30.1" textLength="33.5" lengthAdjust="spacingAndGlyphs">15</text><text x="784.8" y="4593.2" font-size="29.7" textLength="33" lengthAdjust="spacingAndGlyphs">20</text><text x="938" y="4593.2" font-size="29.7" textLength="33" lengthAdjust="spacingAndGlyphs">25</text><text x="1091.2" y="4593.2" font-size="29.7" textLength="33" lengthAdjust="spacingAndGlyphs">30</text><text x="1244.4" y="4593.2" font-size="29.7" textLength="33" lengthAdjust="spacingAndGlyphs">35</text><text x="1397.6" y="4593.2" font-size="29.7" textLength="33" lengthAdjust="spacingAndGlyphs">40</text><text x="1550.6" y="4593.2" font-size="30.1" textLength="33.5" lengthAdjust="spacingAndGlyphs">45</text><text x="1703.6" y="4593.2" font-size="29.7" textLength="33" lengthAdjust="spacingAndGlyphs">50</text><text x="1856.5" y="4593.2" font-size="30.1" textLength="33.5" lengthAdjust="spacingAndGlyphs">55</text></g>
<text x="1030.1" y="4628.4" font-size="32.1" textLength="159.1" lengthAdjust="spacingAndGlyphs" fill="#111">Time, min</text>
<g transform="translate(44.3,3858) rotate(-90)"><text x="-2.8" y="-1.8" font-size="34.5" textLength="209" lengthAdjust="spacingAndGlyphs" fill="#222">Intensity, cps</text></g>
<path d="M190 4477.5L199.5 4488L190 4498.5Z" fill="#1010e0"/>
<text x="292.4" y="3309.3" font-size="91.7" textLength="52" lengthAdjust="spacingAndGlyphs" fill="#000" stroke="#000" stroke-width="1.4">C</text>
<text x="745.7" y="3905.9" font-size="46.4" textLength="85.8" lengthAdjust="spacingAndGlyphs" fill="#111">SHP</text>
<text x="1063" y="3971.4" font-size="45.5" textLength="85" lengthAdjust="spacingAndGlyphs" fill="#111">AhR</text>
<text x="1122.1" y="4195" font-size="42.1" textLength="62.2" lengthAdjust="spacingAndGlyphs" fill="#111">GR</text>
<text x="662.5" y="4233.3" font-size="45.5" textLength="88.4" lengthAdjust="spacingAndGlyphs" fill="#111">CAR</text>
<text x="1478.9" y="4059.4" font-size="46.4" textLength="144.2" lengthAdjust="spacingAndGlyphs" fill="#111">HNFaα</text>
<text x="1281.4" y="4218.4" font-size="43.3" textLength="80.9" lengthAdjust="spacingAndGlyphs" fill="#111">PXR</text>
<text x="1544.3" y="4218.4" font-size="39.3" textLength="79.4" lengthAdjust="spacingAndGlyphs" fill="#111">FXR</text>
<path d="M854 3902L989.8 3934.3" stroke="#111" stroke-width="2.4" stroke-dasharray="7 4"/><path d="M1004.4 3937.8L988.3 3940.6L991.3 3928Z" fill="#111"/>
<path d="M1062.7 4057.6L1048.3 4201.5" stroke="#111" stroke-width="2.4" stroke-dasharray="7 4"/><path d="M1046.8 4216.4L1041.8 4200.8L1054.8 4202.1Z" fill="#111"/>
<path d="M1547 4088L1495.7 4143.9" stroke="#111" stroke-width="2.4"/><path d="M1485.6 4155L1490.9 4139.5L1500.5 4148.3Z" fill="#111"/>
<path d="M1380.6 4231.8L1446.3 4303.7" stroke="#111" stroke-width="2.4"/><path d="M1456.4 4314.8L1441.5 4308.1L1451.1 4299.3Z" fill="#111"/>
<g fill="none" stroke-linejoin="round"><path d="M199.5 4553H2035" stroke="#2a2af5" stroke-width="2.4"/>
<path d="M220 4552.5l3 -0.6l3 -1.8l5 1.3l10 -0.2l3 -4.3l1 0.2l3 3.9l2 0.4" stroke="#e040e0" stroke-width="1.5"/>
<path d="M677 4551.5H1883.3" stroke="#f0e020" stroke-width="2.6"/>
<path d="M677 4551.7l2 -1.7l2 -0.8l5 0.8l2 -0.3l5 -3.3l6 2.5l3 0.3l1 -1l1 -6.2l1 -32.4l2.6 -253.1l2.4 221.7l1 53.9l1 14.7l1 2.4l1 0.2l1 -0.6l2 -4.8l1 -0.4l2 4.5l2 1.3l4 -0.2l4 -1.8l5 1.9l6 0.1l2 -1.6l2 -3.8l1 0.4l2 3.1l2 1.7l3 -0.4l4 -3.1l2 0.5l4 2.4l4 0.8l2 -0.7l3 -4.6l1 -0.5l4 5.1l2 0.7l7 0l4 -1.1l5 0.9l5 -1.4l6 1.2l3 -3.3l4 3.4l4 0.2l2 -0.9l3 -4.3l1 -0.6l2 1l4 3.9l2 0.8l5 -0.2l3 -3.4l1 -0.4l5 3.3l1 -3l2.5 -40l2.5 40.3l1 3.4l1 0.3l1 -0.6l2 -4.7l1 -0.4l3 5.2l1 0l1 -0.7l3 -3.2l6 4l1 -0.4l2 -3.1l1 -0.5l4 3.2l3 -2.7l1 -0.3l5 3.4l2 0.6l2 -0.1l4 -2.5l4 2.5l5 0.2l2 -0.8l2 -4.3l1 -0.5l3 4.8l2 0.7l5 -0.1l2 -1.1l1 -2l3 -13.4l1 -1.1l1 1.7l4 13.1l1 1.5l2 1.1l2 -1.1l2 -4.6l1 -0.9l4 5.8l2 0.8l3 0.1l2 -0.2l3 -3.7l3 3l2 0.4l2 -1.7l3 -4.8l1 0.2l4 5.3l2 1l5 -0l4 -2.7l1 0l4 2.3l4 0.4l2 -0.6l3 -2.6l1 -0.2l4 2.7l3 0.5l2 -1.7l4 -10.4l1 0.4l4 9.9l2 1.6l1 -0.5l1 -2.5l2 -12.3l1 -2.8l3 15.5l1 2.3l2 0.8l2 -1.1l2 -4.4l1 0.5l2 3.2l1 0.7l1 -0.3l3 -2.8l1 0.1l3 2.9l3 1.1l4 -0.4l5 -5l4 2.3l4 -0.7l4 1.7l3 -2.3l2 -0.4l4 3.3l3 1.2l6 -1.8l5 1.6l4 0.3l2 -1l2 -2.7l1 -0.3l4 3.8l9 0.2l1 -0.4l2 -2.9l1 -0.4l3 2.6l1 0.1l4 -3.4l2 0.6l4 3l2 0.4l2 -1.1l3 -4.9l1 -0.5l1 0.6l3 4.3l3 1.7l5 -0l1 -0.7l2 -3l1 0.4l2 2.9l1 0.4l9 -0l2 -1.3l2 -4.2l1 -0l2 3.8l2 1.5l5 -1.4l6 1.3l2 -1.4l4 -9.6l1 0.2l4 8.5l1 0.2l2 -3.1l1 -0.4l3 4.8l1 0.6l2 -0.2l3 -5.3l1 0.7l2 3.5l2 1.3l6 0l1 -0.5l2 -2.7l1 0.1l3 2.8l5 0l3 -1.3l3 1.3l3 0.1l2 -0.7l1 -1.8l3 -13.6l1 0.5l3 12.4l1 2l1 0.7l1 -0.1l2 -2.8l1 -0.5l4 3.7l5 -0l2 -1.2l3 -4.5l1 -0.5l1 0.4l3 3.4l1 0.4l2 -1.9l1 -0.1l3 3.5l2 0.6l4 -0.4l4 -4.8l1 -0.4l4 4.3l3 1.2l3 -0.1l1 -0.9l2 -4.2l1 0.1l2 4l2 1.2l5 -0.1l5 -2.3l7 2.3l4 -0l3 -1.2l5 1.3l6 0.1l3 -0.3l3 -1l3 0.7l2 -0.2l4 -4.7l1 -0.1l5 4.2l3 1.2l2 -0.1l4 -3.3l5 3.4l3 0.1l3 -1l5 1.2l1 -0.4l1 -1.4l2 -4.4l1 1l2 3.9l1 0.6l4 -1.2l6 1.7l5 0.1l2 -0.7l2 -2.5l1 -0.2l3 2.6l2 0.4l4 -3.5l2 0.6l4 2.8l6 0.4l2 -0.7l3 -4.7l1 0.8l2 3.6l2 0.9l6 -0.1l5 -2.6l5 2.1l3 0.6l1 -0.3l2 -2.7l1 -0.1l2 2.3l2 0.7l4 -3l1 -0.2l4 2.9l2 -0l3 -2l1 0l4 2.1l2 0.4l1 -0.3l1 -1.5l2 -4.9l3 6.3l2 -0.1l3 -2.1l1 -0.1l6 2.4l6 -1.9l5 1.8l4 0.5l3 -0.6l3 -2.7l1 -0.3l5 2.9l4 -2.4l3 1.8l1 0.3l1 -0.7l1 -2.2l3 -13.4l1 -1l1 1.6l3 10.5l2 4.4l1 0.6l1 -0.5l2 -2.8l1 -0.1l4 4l2 0.6l3 -0.3l3 -5.7l1 0.8l2 4.3l1 0.8l3 0l2 -1.2l3 -4.5l1 -0.5l1 0.6l3 4.3l2 1.4l2 -0.1l2 -1.7l1 -0.1l3 2.1l7 0l2 -1.5l3 -5.1l1 0.2l1 1l3 4.1l3 1.3l5 -0l4 -2.3l5 2.1l1 -0.5l3 -4.8l1 0.6l2 3.7l1 0.8l1 0.1l4 -1.9l6 1.9l1 -0.6l2 -3.4l1 -0.2l4 4.1l6 0.3l2 -1.1l1 -1.9l3 -10.8l1 -1.1l1 1.9l3 10.6l1 1.6l2 0.9l2 -0.1l1 -0.7l3 -5.9l1 0.8l2 3.6l2 1.9l5 0.3l3 -2.2l1 0.1l3 2.1l4 0.2l3 -0.1l2 -0.8l4 -5.6l1 -0.3l5 5.6l2 1l5 -0.8l4 1.1l6 0.1l2 -1.2l2 -3l1 -0.3l5 4.3l5 0.4l2 -1l1 -3.1l2 -11.8l1 -0.2l3 12l2 3.7l2 0.6l4 -0.1l5 -3.9l6 5.4l1 0l1 -0.7l2 -3.3l1 -0.1l4 4.2l3 0.5l2 -1.6l1 -2.7l3 -15l1 -0.8l4 11.9l1 0.5l2 -3.6l1 -0.8l1 1.4l3 8.7l2 1.8l2 -0.8l2 -2.3l1 0.2l3 3l3 0.3l2 -0.5l1 -1.7l3 -13l1 2.4l2 9.9l1 2l1 0.4l4 -1.1l5 1.4l5 -0.1l2 -1l3 -4l1 -0.6l1 0.4l3 3.7l1 0.4l3 -1.4l4 2.3l3 0.4" stroke="#b8d0f0" stroke-width="1.6"/>
<path d="M677 4552.5l5 -2.6l2 -2.6l3 -18.7l1 -2.6l1 2.1l3 14.6l2 4.8l1 0.4l3 -0.9l4 1l1 -4.8l1 -30.1l2.5 -210.6l2.5 193.6l1 39.7l1 6.6l2 -9.3l1 1.5l2 10.6l1 2.9l1 1l2 0.2l2 -0.8l4 -6.6l1 -0.5l2 1.6l3 4l3 1.8l2 -0.3l1 -0.8l3 -4.5l1 -0.5l1 0.5l3 3.5l1 0.4l3 -3.4l2 3.6l1 1.1l1 -0.2l4 -6.6l3 1.8l1 -2.1l2 -11.9l1 -3.1l1 2l3 15.8l1 2.7l1 0.8l2 -1.4l1 0.2l3 2.2l2 -0.4l3 -3.7l1 -0.2l5 4l3 -0.1l2 -2.5l3 -5.6l2 1.2l3 4.7l2 1.7l1 -0.4l3 -6.1l4 6.6l2 0.9l3 -0.1l2 -1.7l3 -6.3l1 0.4l3 4.8l1 0.6l3 -0.1l4 1.5l1 -0.2l1 -1.5l3 -11.8l1 0.1l3 11.4l2 2.6l3 -0.1l4 -4.6l1 -0.3l3 3.5l1 0.7l1 -0.2l1 -1.5l1 -3.4l3 -14.9l1 0.2l4 17.6l1 1.9l2 1.1l2 -0.2l3 -3.5l1 0.4l3 3.1l6 0.1l1 -0.6l1 -1.6l2 -4.9l1 0.3l4 6.3l3 0.5l3 -0.3l4 -2.6l5 2.6l5 -0l4 -2.6l5 2.3l1 -0.3l3 -3.4l3 2.4l1 0.6l1 -0.2l3 -5l1 -0.8l1 0.6l3 4.2l3 1.5l2 -1.2l2 -4.6l1 -0.7l4 5.8l3 0.5l4 -2.1l3 0.3l1 -0.9l3 -5.6l2 1.8l1 -6.5l2.5 -104.6l1.5 39.3l1 -97.2l2.6 -882.3l2.4 835.1l1 172.8l1 39.6l1 6l1 1.6l2 1.6l1 -0.1l2 -2.8l1 -0.3l2 1.1l1 -6.8l2.5 -67.7l2.5 62.5l1 9.8l1 -0.6l3 -14.9l1 -0.8l1 1.9l4 13.9l1 0.6l2 -2.1l1 -0.1l5 5.6l3 0.9l4 -0.3l2 -1.9l1 -0l3 1.9l3 -0l5 -3.1l3 0.6l1 -0.4l3 -4.3l1 1l2 4.2l2 1.7l6 0l4 -1.9l6 1.8l3 -0.3l4 -1.7l5 1.4l2 -1.7l3 -5.8l1 -0.2l4 5.2l1 0.2l2 -1.2l5 3.6l2 -0.5l4 -4.6l1 -0.1l5 4.1l2 0.8l1 -0.2l4 -5.5l1 0.5l3 4l1 0.8l1 -0l3 -5.9l1 0.6l3 5l2 1l2 -0.5l3 -3.2l5 3.5l5 0.3l2 -1.2l2 -3.3l1 -0.8l3 4l2 1.3l6 0.1l4 -1.4l3 1.3l4 0.1l2 -0.4l4 -2.1l6 2.3l4 0.2l1 -0.2l1 -1.3l3 -13.9l1 1.8l2 9.7l1 2.6l1 0.9l1 -0.1l1 -1.1l1 -6l1 -34.9l2.8 -387.5l3.2 391.6l1 30l1 6.2l2 1.8l3 0.1l2 -2.2l2 -5.1l1 -1.2l1 1l3 6.5l1 0.5l1 -0.5l2 -4.6l3 -12.8l1 -0.8l1 1.8l4 14.1l2 2.8l1 0.3l1 -0.4l4 -6.9l1 -7.3l1 -31.5l1.9 -86.4l3.1 114.4l1 10.7l1 3.6l2 3.4l2 0.9l2 0l2 -1.2l1 -2.3l3 -13.1l1 -0.2l4 12.5l2 3.3l2 0.5l3 -0.9l4 0.7l4 -3.3l1 -6l1 -25l1.9 -66.9l3.1 92.4l1 7.6l1 0.5l1 -2.1l3 -11.7l1 0.1l1 1.9l3 8.9l2 2.8l1 0.1l1 -0.8l3 -4.6l1 -0.2l3 3.5l1 -0.1l2 -2.9l1 -0.2l4 5.5l1 0.3l3 -0.8l4 1.5l3 -0.2l4 -3.3l1 -0.1l3 2.2l2 0.6l2 -1.7l3 -4.1l4 1.4l3 -1l3 4.1l1 -0.4l2 -10.8l1 -2.5l3 12.4l1 2.3l1 0.8l4 0.1l4 -2.8l4 2.2l2 -1.9l2 -4.4l1 -1.1l1 0.6l3 5.9l1 1l2 0.6l3 -0.1l1 -0.8l2 -5.7l1 -1.4l3 6.3l2 1.7l4 0.1l2 -0.7l3 -4.4l1 -0.6l1 0.4l4 4.1l4 1.2l2 -0.7l3 -5.2l1 0.7l2 3.2l2 1.3l4 -2l1 -1.3l1 -4.9l2.6 -24.1l3.4 27.7l1 -2.2l1 -39.8l1 -192.3l2.5 -1088.4l2.5 1088.9l1 193l1 40.9l1 4.7l1 -0l2 -1.2l4 1.2l1 -0.7l3 -5.5l1 0.2l4 5.6l1 -0.5l2 -5.8l1 0l2 5.6l1 1.3l3 0.2l5 -2.6l4 1.6l2 0.2l1 -0.9l3 -6.1l1 -0.5l4 6.7l2 1.5l2 -0.9l3 -6.4l1 0.2l3 5.9l1 0.8l1 -0.4l3 -6.1l1 0.2l4 6.4l1 0.3l3 -2.1l3 2.4l4 -0.1l1 -0.8l3 -5.9l1 0.3l4 6l2 0.7l3 0l1 -0.3l1 -1.7l3 -19.1l1 1.4l3 14.7l1 1.9l1 0.1l2 -1.1l4 2.3l1 -0.2l2 -2.1l1 0.7l2 3l1 0.5l3 -0.1l1 -0.8l3 -8l1 1.2l2 5.8l2 1.9l4 -0.1l3 -3.8l1 0l3 3.2l3 0.6l1 -0.8l2 -4l1 0.1l2 3.2l1 0.4l4 -4.8l2 1.1l4 4.1l2 0.7l2 -0.8l2 -4.2l1 -0.8l3 5l1 0.8l3 0.2l2 -1.4l3 -6.5l1 0.1l2 2.5l1 -1.1l4 -19.5l1 0.9l1 3.7l4 18.2l1 1.8l2 1.2l2 -0.6l3 -5.1l1 -0.8l1 0.4l3 3.5l1 -0.1l2 -2l1 0.3l3 4l2 0.7l3 -0l1 -0.5l2 -4.8l1 -0.9l2 4.9l1 1.2l1 0.3l5 -0l3 -1.9l5 1.9l7 0l1 -0.6l2 -4.5l1 -0.7l2 4.1l1 1.1l1 -0.1l4 -6.7l1 -0.7l1 0.7l4 6.6l2 0.5l1 -0.9l3 -7.1l1 0.1l3 6.8l2 1.7l2 -0.2l1 -0.7l4 -5.9l2 0.9l3 3.8l3 2.1l2 0.1l1 -0.8l2 -3.7l1 -0.3l3 4.8l5 0.5l1 -0.3l1 -1.4l3 -18.8l1 -0.8l3 16.1l1 3.3l1 1.4l1 0.1l1 -1.5l2 -6.2l1 0.5l2 5.1l2 2.4l2 0.3l4 -2l4 1.7l3 -1.8l5 4.9l2 0.8l2 -1.6l2 -3.4l1 -0l4 4.6l3 0.9l2 -0.6l2 -3.3l1 -0.3l4 4.1l6 0.3l2 -1.2l2 -3.7l1 -0.2l3 3.9l2 1l2 -0.3l4 -3.5l1 -0.2l5 3.5l3 0.5l1 -0.7l2 -4.1l1 0.4l2 3.8l1 0.6l5 -0.1l4 -3.9l5 3.5l4 -2.1l6 2.7" stroke="#a0a0a0" stroke-width="1.5"/>
<path d="M677 4551.8l7 -4.1l2 -0.5l8 1.7l6 -2.3l2 0.6l3 2l2 0.4l4 -2.2l4 2.5l2 0.7l6 -2.5l1 -5.1l1 -16.6l2.1 -77.2l0.9 -13.6l1 13.5l3 88.8l1 8.6l1 2.4l7 1.1l4 -0.1l7 0.9l2 -0.5l3 -1.9l2 -0.4l7 3.2l1 -0.2l1 -1.9l1 -7.8l1 -20.8l1.9 -65.8l0.9 -13.1l1 12.5l2.3 71.6l1 15.7l1 6.3l1 1.9l1 0.4l2 -1.2l3 -5.9l1 -1.5l1 -0.4l1 0.9l4 7.1l3 1.3l2 -0.2l4 -1.7l4 1.2l6 -1l9 1.4l7 -2l6 1.9l5 -2.5l5 2.4l1 -0.1l3 -2.1l1 0l4 2.2l7 -0.8l8 1.3l6 -2.7l5 3.4l6 -0.8l3 1.3l3 0.5l6 -0.2l6 -2.6l8 1.8l5 -3l6 2.6l8 -0.1l5 -2.6l6 2.6l4 0.2l5 -0.4l3 -1.7l4 1.2l4 -0.1l6 -3.5l5 2.4l2 0.3l2 -0.3l5 -2.3l5 2.5l5 0.7l3 -1l4 -6.3l1 -0l4 6.6l2 1.2l5 0.2l4 -1.7l4 1.3l1 -0.8l1 -5.2l1 -22.6l1 -70l2.6 -478.2l0.9 -78.1l1 74.1l2.5 429.3l1 89.1l1 37.9l1 13l2 6.8l3 3.7l2 0.4l1 -1.8l1 -8.3l3.7 -133.2l0.9 17l2.4 100.1l1 18.8l1 6.7l1 1.8l1 0.4l11 -0.8l4 -3.2l2 0.5l3 1.9l2 0.3l4 -2.8l6 2.5l5 -1.4l5 1.2l6 -0.3l6 0.7l6 -2.3l5 2.2l4 0.5l3 -0.3l5 -1.9l7 1.6l7 -1.7l5 1.5l5 -0.9l5 1.9l3 0.5l5 0.2l5 -1.5l7 1.7l3 0.2l8 -1.1l7 0.2l6 -2.5l5 1.3l4 -2.1l6 3.5l3 0.1l4 -1.4l3 1.3l2 0.2l5 -1l5 0.4l8 -0.6l5 -1l5 0.3l5 -3.6l7 3.9l3 -0l4 -1.2l6 1.9l2 -0.5l1 -1.1l4 -7.1l1 0.3l1 1.4l3 5.5l2 1.5l2 0.1l5 -1.4l6 1.3l2 -0.1l5 -3.4l6 4l2 0.1l4 -1.3l6 2l6 0.3l2 -0.5l1 -1.1l3 -8.2l1 -1.4l1 0.4l1 1.4l4 7.2l3 1.4l4 -0.4l6 -2.6l6 1.8l6 -0.4l6 0.4l5 -2.7l5 2.1l5 -1.3l6 1.4l6 -2.5l5 2.2l3 0.3l2 -1.2l3 -4l2 -1.5l1 0.4l4 5.1l2 1.5l7 0.7l4 -2.5l4 3.2l3 0.4l4 -0.3l5 -1.7l7 1.8l5 0.1l2 -0.7l4 -2.9l1 -0l6 3.1l7 -0.3l7 1l6 -0.1l5 -3.2l5 2.8l3 0.3l3 -0.3l4 -1.6l4 0.9l5 -1.2l6 0.1l5 -1.5l6 2l3 0.4l2 -0.6l3 -1.9l5 2.8l3 0.6l2 -0.3l4 -3.3l7 3.6l4 0l5 -1.8l4 1.7l3 0l4 -0.8l6 1.2l2 -0.7l1 -1.4l3 -7.1l1 -0.6l1 0.9l4 7.7l1 1.1l2 0.9l6 -1.8l4 1.6l3 0.1l6 -3.7l6 2.4l2 0.2l6 -2.9l7 3.1l5 -0.2l5 -2.7l4 2.4l2 0.5l2 -1.4l3 -6.7l1 -1.6l1 -0.2l5 5.7l5 0.2l4 2.7l2 0.6l2 -0.1l4 -1.5l6 1.6l9 0.5l4 -1.6l6 2.5l6 0l4 -1.9l6 2.2l2 -0.3l4 -3l1 -0.1l4 2.1l2 0.3l1 -0.8l3 -5.8l1 0.4l4 5.7l2 1l3 0.2l4 -0.6l10 1.5l7 -1.1l8 1.3l3 -0.4l2 -1.7l3 -8.1l1 -1.9l1 -0.1l5 8.4l2 1.8l2 0.5l10 -0.6l5 0.9l5 0.1l7 -2.1l5 1.9l3 0.5l8 -2.6l6 2.2l4 0.2l2 -0.7l3 -2.6l1 0.2l3 2.3" stroke="#f03030" stroke-width="1.6"/>
<path d="M1000 4552.4l2 -3.9l4 -12.8l3 0.6l2 -2l1 -0.3l4 6.1l2 1.5l1 -0.3l1 -3.9l1 -24l3 -302.9l3 281l1 34.8l1 8.3l1 1.3l2 -0l1 0.9l3 5.6l2 1.5l4 -2.2l1 -1.3l2 -6.2l1 -0.4l3 8.9l1 0.7l1 -0.6l3 -5.1l1 -0.6l6 2.3l2 -0.9l6 -10.7l1 0.3l1 1.7l3 7.1l4 3.4l2 0.2l6 -2.5l2 0.8l2 1.8" stroke="#a03838" stroke-width="1.4"/>
<path d="M677 4551.1l3 -1l10 0.3l2 -0.6l3 -1.9l2 0.3l5 2.1l4 0.2l2 -0.3l3 -2.4l1 -0.1l4 2.4l3 0.4l2 -0.5l4 -3.6l4 3.5l1 0.3l2 -0.4l4 -3.2l1 0.2l4 3.2l2 0.3l2 -1l2 -3.4l1 -0l4 4.2l4 0.3l2 -0.6l2 -3.8l1 -0.6l3 3.8l1 0.8l2 0.4l2 -0.2l4 -1.8l4 1.4l3 0.3l4 -3l4 3l7 0.1l2 -0.6l3 -2.6l1 0l3 2.4l2 0.6l7 -0.1l5 -2.1l7 1.9l2 -0l3 -1.1l5 1.2l5 0.1l2 -0.7l2 -2.8l1 -0.1l2 2.6l2 0.9l7 -0.1l4 -1.6l5 1.6l7 0l2 -0.5l3 -2.2l6 2.6l5 -0.1l4 -1l7 1l2 -0.7l3 -4.8l1 -0.1l4 4.8l2 0.5l4 -1.9l1 -0l5 1.9l8 -0l3 -4l3 3.1l3 1l5 -0.2l4 -2l6 2.1l3 -0.2l4 -1.6l5 1.6l4 0.2l6 -1.9l6 1.9l8 0.1l2 -0.5l3 -2.5l5 3l4 -0.3l4 -2.5l2 0.3l4 2.1l1 -0.1l3 -2.7l3 2.5l1 -0.4l1 -7.8l1 -40.6l2 -148.5l3 181l1 14.2l1 2l1 -0.7l2 -3.5l1 -0.3l4 4.3l2 0.5l2 -0.3l4 -5.5l1 0.2l3 4.1l2 1.3l8 0l3 -3.3l1 0.2l3 2.9l6 -0.1l2 -1.5l4 -10.9l1 -0.4l1 1.1l4 8.8l2 1.8l1 -0.2l3 -2.5l1 0.2l4 3.2l5 0.1l2 -1.3l2 -2.5l1 -0.2l4 3.8l4 0.2l1 -0.5l1 -1.7l3 -14.2l1 -0.9l4 14.2l2 2.8l4 0.3l2 -2.2l3 -12.2l1 -1.9l1 1.7l2 8.7l2 5l1 0.7l2 0.3l8 -0.4l1 -1.4l1 -3.7l1 -14.2l1 -64.2l2 -233.9l3 291.2l1 22.9l1 3.6l5 0.2l5 -1.2l4 1.1l6 0.1l2 -0.9l2 -1.9l1 0.1l3 2l1 -0.3l2 -3.9l2 -7.4l1 -2l1 0.3l1 1.6l4 9.2l1 0.7l3 -2.8l5 4.9l9 0.2l2 -1l3 -2.9l2 0.6l3 2.3l2 0.2l3 -3.5l1 -0.1l5 4.2l9 0.2l2 -1l3 -2.7l4 1.6l1 -0.3l1 -1.6l3 -10.9l1 -1.2l1 1.1l4 11.5l1 1.7l2 1.4l2 -0.7l3 -4.4l1 -0.3l5 4.6l4 1.2l3 -0.3l4 -1.7l4 1.7l2 0.2l2 -0.7l4 -2.7l5 2.1l1 -0.1l3 -2.9l1 -0.3l2 0.9l3 2.5l3 1.2l6 0.1l1 -0.6l2 -3.4l1 0.1l3 3.7l6 0.2l4 -1.1l5 1.2l2 -0.5l3 -5.1l1 -0l3 4.8l1 0.2l4 -2.2l6 2.6l6 0.3l3 -0.6l4 -4.8l1 -0.5l1 0.4l4 4.1l1 0.1l3 -2.4l1 -0.1l3 2.8l3 1l8 -0l4 -2.4l3 2.4l6 -0.2l4 -2.2l1 0l5 2l3 0.3l2 -0.7l3 -3.4l1 0.3l4 3.3l3 0.6l3 -0.3l1 -3.9l1 -26.7l2.4 -197.1l2.6 190.4l1 29.3l1 6.3l1 1.2l2 0.7l2 -0.3l4 -2.9l4 2.8l1 0.2l4 -2.9l1 -0.1l5 2.8l2 -0.2l3 -1.4l5 2.2l6 0.2l2 -0.5l4 -2.9l8 3.4l6 -0l3 -2.6l1 -0.1l4 2.6l4 0.3l2 -0.6l4 -4.9l1 -0.3l6 5.1l3 0.8l2 -0.6l2 -2l1 -0.2l5 2.8l6 0.1l4 -1.2l5 1l4 -2.9l6 3.1l7 -0l3 -1.7l3 1.5l2 0.2l2 -1.2l3 -3.5l2 0.6l4 3.3l3 0.8l2 -0.4l3 -3l1 -0.3l4 3l3 0.7l2 -1.5l2 -3l1 0.2l3 4l2 0.5l5 -0.3l5 -2.2l7 2.4l8 0.1l1 -0.4l3 -4l5 4.4l4 0.2l2 -0.5l4 -3.6l5 3.9l7 0.3l2 -0.4l3 -4.8l1 -0.1l4 4.7l3 0.7l5 0l5 -1.5l5 1.7l6 0.1l4 -1l5 1.1l7 0.1l2 -0.7l2 -2.6l1 -0.2l3 2.8l2 0.8l5 0l5 -1.4l6 1.5l5 0.2l2 -0.5l2 -1.6l1 0l3 1.9l2 0.6l5 0.2l4 -0.7l5 1.1l7 0.1l2 -0.3l3 -3.9l1 0.4l2 2.9l2 0.9l9 -0.3l4 -3l5 3.1l2 0l3 -1.2l4 1.2l2 -0.8l4 -3.9l1 0.3l4 4l2 0.5l8 -0.2l3 -4.3l1 0.5l2 2.7l2 1.2l11 0.1" stroke="#40e040" stroke-width="1.6"/>
<path d="M677 4552.5l6 -1l21 -0.1l5 -2.1l6 1.8l4 0.3l31 -0l6 -1.3l3 1l3 0.3l24 -0l7 -1.3l7 1.2l33 0l2 -0.3l2 -1.4l1 -0l2 1.4l2 0.4l31 0l4 -0.3l4 -2.3l1 -0l6 2.5l12 0.2l17 -0.3l3 -2.6l1 -0.1l3 2.5l2 0.2l27 -0.3l6 -1.1l6 0.9l10 -0.1l4 -2.5l4 2.4l9 0l3 -0.4l4 -2.3l4 2.2l3 0.5l28 -0l6 -2.1l4 1.8l2 0.3l31 0l3 -0.6l4 -2.7l4 2.8l4 0.5l13 -0.1l7 -2.1l5 1.7l4 0.5l27 -0l6 -1.1l6 1.1l22 0l8 -1.5l6 1.4l9 0.1l3 -0.8l3 -2.4l4 2.7l3 0.4l26 -0l5 -1l5 1l28 0l3 -0.4l3 -1.8l2 -0.5l4 2.2l3 0.5l26 0l5 -0.9l5 0.9l25 -0l3 -0.3l4 -1.9l2 -0.4l8 2.4l20 0.1l4 -0.4l6 -3.4l2 0.4l5 2.5l4 0.8l11 0l1 -0.3l3 -2.8l1 0.3l2 2.1l2 0.7l18 -0.3l1 -4.9l1 -34.1l2.4 -251.6l2.6 245.5l1 37.2l1 7.4l1 0.8l7 -0.4l4 -3.3l2 0.6l4 2.6l3 0.5l23 -0l7 -1.3l8 1.3l33 0l2 -0.6l1 -1.1l2 -4l1 -14.1l1 -59.7l2 -186.5l3 237l1 23.8l1 4.6l1 0.5l14 0l1 -0.1l1 -0.9l1 -4.1l3 -32.9l3 32.9l1 4.1l1 0.9l1 0.1l4 -0.2l5 -1.4l7 1.5l26 -0l2 -0.5l3 -2.2l1 -0.1l5 2.6l15 0.1l2 -0.8l4 -8.4l1 0.8l3 6.6l1 1.1l2 0.7l12 0l2 -0.7l2 -1.7l1 0.1l3 2.1l2 0.3l21 0.2l5 -1.7l6 1.8l31 0.4l2 -0.9l3 -10.6l1 1.2l2 8.3l1 1.6l1 0.4l17 0l2 -0.9l3 -2.6l1 0.2l3 2.6l3 0.7l20 -0.1l4 -2.3l4 2.1l2 0.2l29 -0.1l8 -2l7 1.9l8 0.2" stroke="#f0f020" stroke-width="1.5"/>
<path d="M677 4551l1.5 -1.7l3 0.4l1.5 -2.9l3 -3.7l4.5 6.9l3 -1.2l3 -4.1l1.5 -0.5l3 4.4l1.5 1.3l1.5 -0l1.5 -2.5l1.5 -0.5l3 -4.2l1.5 2.2l3 2.6l3 0.6l1.5 -1.7l1.5 0l3 1.2l1.5 1.7l1.5 -0.6l3 -6.5l1.5 -0.8l4.5 7.6l3 -6.2l1.5 -1.3l3 1.3l1.5 2.5l1.5 0.3l1.5 -2.1l1.5 -0.8l3 3.6l3 -3.5l3 6.9l1.5 -0.8l1.5 0.7l4.5 -10.4l3 8.2l1.5 0.5l1.5 2l1.5 -1.5l1.5 -3l1.5 -0.1l3 2.2l1.5 1.8l3 -1.4l1.5 0.7l4.5 -2l1.5 0.6l1.5 -2.5l1.5 -0.8l1.5 -1.7l3 6.2l1.5 -0.1l1.5 -2.3l1.5 -5.3l1.5 -1.2l3 -60l3 61.3l1.5 8.6l1.5 -1.8l1.5 1.9l4.5 -9.8l3 6.4l1.5 0.5l1.5 -0.8l1.5 0.5l1.5 -2.8l1.5 2.6l4.5 2.5l1.5 -1.4l1.5 1.3l3 -2.1l1.5 -0.4l1.5 1.5l1.5 -1.2l1.5 -3.2l1.5 -1.3l1.5 0.2l1.5 2.7l3 -2.8l1.5 -0.5l1.5 4.2l1.5 1.2l1.5 -12.2l2.3 -73.8l2.2 62.2l1.5 23l1.5 1.8l1.5 0l1.5 2.3l3 -3l1.5 -3l1.5 0.2l1.5 1.4l1.5 3.6l1.5 -0.2l1.5 1l1.5 -2.3l1.5 1.5l1.5 -2.9l3 -2.3l1.5 2l3 2.4l1.5 0.6l1.5 -0.2l4.5 -18.3l1.5 3.9l1.5 10.3l1.5 3.2l1.5 0.7l3 -5.4l1.5 -1l1.5 1.5l1.5 -0.4l3 4.6l1.5 -1.3l1.5 -4.1l1.5 -7.1l1.5 -0.8l1.5 0.6l3 8.7l3 3.2l1.5 -0.5l1.5 1.2l1.5 -2.4l3 0.1l1.5 0.9l3 -2.3l1.5 2.7l1.5 -0.5l3 2l1.5 0.2l1.5 -1.2l1.5 0.4l1.5 -3.2l1.5 -0.6l1.5 0.4l1.5 3.4l1.5 -0.9l1.5 -1.9l1.5 0.9l4.5 0.5l1.5 -1.1l1.5 -3.2l1.5 0.4l1.5 3.3l4.5 3.1l3 -3.4l1.5 -4l1.5 0.3l1.5 3l3 3.8l1.5 -0l1.5 -3.5l3 0.8l1.5 1.2l4.5 -5.2l3 2.9l3 -2l1.5 -57.7l2.5 -349.6l3.5 391.8l1.5 18.1l1.5 -0.2l1.5 1.5l1.5 0.3l1.5 1.7l1.5 0.1l1.5 -2.8l3 -1.1l1.5 0.7l1.5 -1.1l1.5 2.3l1.5 -0.8l1.5 -3.2l1.5 0.4l1.5 -1.4l1.5 3.2l3 2.5l1.5 -1.2l1.5 0.1l3 -6.6l1.5 -1.9l1.5 6.2l1.5 3.5l3 -1.7l1.5 0.7l1.5 -1l1.5 0.1l1.5 1.5l1.5 -1.3l1.5 -2.7l1.5 -4.2l1.5 1.9l1.5 5.8l1.5 0.4l1.5 -2.4l1.5 0.1l1.5 -1l3 1.3l1.5 -1.7l1.5 -8.9l1.5 -3l1.5 1.9l3 12.2l1.5 -0.5l1.5 1.8l4.5 -3.9l1.5 0.8l3 3.2l4.5 -4.5l1.5 -3.4l3 3.4l1.5 3l1.5 1.1l1.5 -1.6l1.5 -3.9l1.5 -1.7l1.5 1l1.5 3.4l3 1.8l1.5 2l1.5 -0.9l1.5 -4.2l3 -5.4l3 9.7l1.5 -1.5l1.5 1.1l1.5 -4.4l1.5 -0.6l1.5 3l1.5 -1.8l1.5 -0l1.5 -0.9l1.5 0.8l1.5 2.5l3 1.8l1.5 -1.6l3 -15l4.5 13.1l1.5 2.3l1.5 -1.8l1.5 2.1l4.5 1.6l1.5 -2.9l1.5 -5.6l3 6.7l1.5 1.4l3 -0.6l3 -4.2l1.5 1.7l1.5 -1.2l1.5 2.5l1.5 -1.5l1.5 1.1l1.5 -2.4l1.5 -0.3l3 3.4l1.5 -0.5l1.5 -2.7l1.5 -23.5l2.8 -267.8l3.2 268.3l1.5 17.7l1.5 3.8l3 2.9l1.5 3.3l3 -3.9l1.5 -3.5l1.5 1.1l3 4.1l3 2.8l1.5 -3.3l1.5 0.8l3 -5.4l1.5 0.3l1.5 1.5l1.5 0.4l1.5 -2.3l1.5 -0.8l1.5 6.6l1.5 2l1.5 -1.5l1.5 1.1l4.5 -3.4l1.5 1l1.5 3.1l1.5 -1.6l1.5 0l1.5 1.4l1.5 -0.2l3 -5.2l6 3.3l3 -1.5l1.5 2.1l1.5 -0.5l1.5 0.3l1.5 1.6l4.5 -7.7l1.5 0.4l3 7.5l1.5 -0.6l1.5 0.7l1.5 -1.5l1.5 -3.8l1.5 0.8l1.5 3.1l1.5 1.3l1.5 0.4l1.5 -2.4l1.5 0.2l3 -1.5l3 2.6l1.5 0.8l1.5 -0.1l3 -7.6l1.5 -7.3l1.5 0.8l1.5 8.6l1.5 4.9l1.5 -0.1l1.5 1.3l1.5 -2.4l1.5 2.3l1.5 -1.9l1.5 -8.2l4.5 8.7l1.5 0.5l3 0l1.5 -1l3 -7.9l1.5 2.7l1.5 0.3l1.5 3.3l3 4.1l4.5 -2.6l3 -0.8l4.5 1.2l1.5 -2.4l1.5 -0.1l1.5 -4.5l1.5 2.8l1.5 0.1l1.5 -1.1l1.5 -3.9l1.5 2.9l1.5 0.6l1.5 4.5l3 0.7l1.5 -1.2l1.5 0.8l1.5 -0.6l3 0.1l3 1.8l3 -7.9l1.5 0.6l1.5 1.7l3 6.2l3 -1.7l1.5 -6.5l1.5 -12.2l1.5 4.1l1.5 11.5l1.5 2.9l3 1.9l3 -4.9l3 3.5l1.5 -0.3l1.5 2.8l1.5 -2.5l1.5 0.1l1.5 -4.2l1.5 -0.5l1.5 1.3l3 -0.7l1.5 -3.3l1.5 0.5l1.5 3.9l1.5 1.6l1.5 -3.2l1.5 -1.4l1.5 2.6l1.5 -0.6l1.5 1.2l3 -4.3l1.5 0l1.5 1.8l1.5 5.3l1.5 1.3l1.5 -0.9l1.5 -1.9l3 -5.6l1.5 -0.5l1.5 1.4l1.5 -3.4l1.5 -8.8l1.5 -3.5l3 21.4l1.5 0.8l1.5 -3.4l3 -1.4l1.5 2.4l1.5 0.2l1.5 3.1l1.5 1.1l1.5 -1.5l4.5 -9.4l1.5 5.9l1.5 2.3l1.5 0.4l1.5 -1.6l3 -5.2l3 3.5l1.5 -0.3l1.5 1.1l1.5 -2.5l1.5 1.4l1.5 4.9l1.5 0.9l1.5 -0.9l1.5 -3.2l4.5 2.7l1.5 -0.4l1.5 0.5l1.5 -1.9l1.5 -3.9l1.5 1.1l1.5 3.6l3 2.7l1.5 -0.8l1.5 0.4l4.5 -8.4l1.5 3.7l3 -7.1l1.5 -12.1l1.5 -2.3l4.5 23l1.5 1.4l1.5 -1.1l1.5 -4.1l3 3.9l1.5 2.9l4.5 -2.7l1.5 -4.8l3 -2l1.5 2.3l1.5 4.6l1.5 0.3l1.5 -0.6l1.5 -2l3 1.4l1.5 2.3l3 0.3l1.5 1.3l1.5 -1.8l1.5 -0.8l1.5 0.2l1.5 2.5l1.5 -0.6l1.5 0.3l1.5 -4l1.5 -0.7l3 3.1l1.5 0.7l1.5 -1.4l1.5 0.3l3 -5.7l1.5 -0.5l1.5 4.1l3 4l1.5 -1.6l1.5 1.6l1.5 -1.7l1.5 -3l1.5 -0.2l3 4.5l1.5 0.6l1.5 -1.5l3 -1.1l1.5 -3.9l1.5 0.3l1.5 -1.7l1.5 1.8l1.5 -0.4l1.5 0.6l1.5 2.1l1.5 -0.3l1.5 3.1l1.5 0.1l3 -1l1.5 1.8l1.5 -3l1.5 0.7l1.5 -1.2l1.5 1.9l3 1.3l1.5 -0.7l1.5 -1.8l1.5 -3.4l4.5 3.6l1.5 2.7l1.5 -0l1.5 -1.9l1.5 2.5l3 -5.1l3 1.5l1.5 3.3l4.5 -2.8l1.5 1.1l1.5 -3.2l1.5 0.5l1.5 1.9l1.5 -0.6l1.5 2.4l1.5 -4.3l1.5 -2l1.5 -0.5l1.5 1.9l1.5 0.1l1.5 4.4l3 -1.3l1.5 1.4l3 -9.1l4.5 9.7l1.5 1.2l1.5 -0.5l1.5 -3.4l3 -4.1l3 4.2l1.5 3.5l1.5 -0.5l3 -4.8l1.5 1.5l1.5 3.2l3 -0.2l1.5 -4.6l1.5 -1l3 7l1.5 -0.1l3 -1.5l3 -0.2l1.5 -1.3l1.5 3l1.5 -0.7l1.5 -2.1l1.5 0.7l1.5 -1.2l4.5 3.2l3 -2.7l1.5 -3.1l1.5 0.7l1.5 2.8l1.5 1.3l1.5 -3.2l1.5 1l1.5 -0.7l3 2.7l3 0.6l1.5 -26.6l2.2 -201.6l2.3 175.3l1.5 31.9l1.5 2.2l1.5 -0.7l1.5 -8.6l3 -29.8l1.5 -6.6l3 1.7l3 -5.1l3 12.5l1.5 0.6l1.5 -8.1l1.5 -1.6l6 21.1l1.5 3.5l1.5 1.1l1.5 -0.1l3 12l1.5 1.1l1.5 -0.8l3 0.3l1.5 1.7l1.5 4.5l1.5 -0.4l3 1.9l1.5 -0l4.5 2.8l1.5 -0.3l1.5 -3.3l3 3.9l3 2.1l1.5 -2.9l1.5 -0.4l4.5 -13.9l1.5 -1.8l1.5 0.9l1.5 -2.7l1.5 -7.8l1.5 -4.5l1.5 -1.9l1.5 -0.8l3 -5.7l1.5 -0.9l3 8.6l1.5 6.9" stroke="#1e8a1e" stroke-width="1.7"/>
<path d="M1130 4552.5l6 -3.3l5 -1.7l8 1.9l4 0l1 -0.5l1 -5.6l1 -28.5l2 -104.2l3 126.1l1 10l1 1.7l3 0.6l14 0.5" stroke="#3a8a9a" stroke-width="1.4"/>
<path d="M1450 4552.5l4 -2.1l3 -3.6l1 -0.1l4 2.6l13 0.2l2 -0.2l1 -2.5l1 -20.6l1 -85.3l2 -263.3l3 331.4l1 33.3l1 6.4l2 0.8l8 -0.5l33 0.5l3 -0.3l5 -2.1l7 2.2l17 0.1l1 -0.2l1 -2.6l1 -21l2.6 -224.3l2.4 196.6l1 40.4l1 8.7l1 0.6l2 -0.9l2 0.1l4 1.9l3 0.6l16 0.1" stroke="#4a98a8" stroke-width="1.5"/>
<path d="M1450 4552.5l6 -3.3l3 -0.7l9 0.9l8 0.1l1 -0.1l1 -2.1l1 -17.1l1 -70.7l2 -218l3 273.6l1 27.1l1 4.8l3 0.1l6 2l11 0.4l7 -1l6 1" stroke="#8a50e0" stroke-width="1.5"/>
<path d="M1560 4552.5l6 -3l7 -0.4l3 -2l1 -0l4 2.1l1 -0.9l1 -9.5l1 -45.2l2.5 -255l0.8 36.5l1.8 196.9l1 57.1l1 17l1 3.1l1 0.3l17 -0l5 -1.3l5 1.2" stroke="#c060c8" stroke-width="1.6"/>
<path d="M1100 4552.5l6 -3l13 -0.2l1 -0.6l3 -4l1 0.3l4 4.2l8 0.3l1 -0.6l1 -6.8l2.6 -100.5l2.4 96.9l1 10l1 1.1l7 -0l4 -2.8l5 2.6l2 0.3l22 0l6 -1.2l7 1.2l18 0l2 -0.3l3 -2.8l1 0.1l3 2.7l2 0.4l6 -0.3l5 -2.8l6 2.5l3 0.6l6 -0.2l6 -2.4l7 2.4l8 0.3l2 -0.3l4 -3.3l3 2.7l2 0.9l21 0l1 -0.4l2 -2.4l1 -0.1l3 2.8l4 0.2l4 -0.8l4 -3.2l2 -0.6l8 3.9l5 0.6l5 -0.5l4 -4l4 3.7l3 0.9l17 -0l2 -0.6l3 -2.1l5 2.2l3 0.5l12 -0l6 -0.8l6 0.8l16 0l2 -0.3l4 -2.7l5 2.6l7 0.4l2 -0.4l3 -2.9l1 -0.2l4 2.6l2 0.7l18 0.2l5 -0.8l4 -3.3l2 -0.5l6 3.6l4 0.9l14 0l7 -1l13 1l3 -0.4l4 -1.3l7 1.6l15 0.1l2 -0.1l2 -0.9l2 -3.1l2 -4.8l1 -1.6l1 -0.2l1 0.8l5 8.3l3 1.4l4 0.1l1 -0.8l1 -4.1l1 -15.6l2.3 -121.9l0.7 -14.5l3 136.6l1 16.1l1 3.7l2 0.6l11 -0l8 -0.9l8 0.8l2 -0.7l1 -2.9l3 -23.3l3 23.3l1 2.9l1 0.6l2 -0.2l4 -2l2 -0.4l9 2.7l6 -0.1l5 -2l6 2.1l20 0l2 -0.5l4 -2.5l5 2.6l3 0.4" stroke="#40e0f8" stroke-width="1.5"/>
<path d="M1008 4544.7l3 -5l3 -3.2l1 -2.1l2 -8.7l1 -0.1l2 6.3l2 3.3l4 1.1l4 -3.1l1 0.5l3 3.7l1 0.3l1 -1.1l3 -7.6l1 -1l2 0.1l3 -7.2l1 -1l1 0.4l1 1.7l3 6.6l3 -2.4l4 7.9l1 0.8l2 0.2l5 -3.2l3 -9.7l1 -2.2l1 -0.2l6 16.6l1 1.1l2 -0.6l3 3l1 -0.5l3 -6l1 -1l2 1.1l1 -0.5l3 -8.4l1 2.1" stroke="#3a3a3a" stroke-width="1.3"/>
<path d="M1012 4540.7l2 -2l3 -5.7l3 -11.6l2 11.9l5 10.8l1 -1l2 -5.5l1 -1.8l1 -0.6l5 5.3l2 1.3l1 -0.3l1 -2.7l1 -6.8l2 -18.6l1 -1.7l3 19.4l1 0.8l1 -3.6l3 -21.8l1 -1.6l1 3.5l4 25.6l2 4.9l2 3l1 1l1 -0l3 -7.5l3 3l7 -2.7l4 2.1l4 -2.8l2 2.5l2 4.1" stroke="#5a2a2a" stroke-width="1.3"/>
<path d="M1005 4547l2 -5.5l2 -3l1 -0.2l4 2.6l1 0.1l1 -0.6l3 -3.8l2 -1.4l1 -0l2 1.7l2 0.5l5 -4.5l2 -0.3l4 -6.2l1 0.4l3 3.7l1 -0.3l1 0.5l3 7.2l2 2.7l2 0.3l5 -0.8l6 -6.3l1 -0.1l1 0.6l1 -0.4l2 -6.7l1 -0.7l2 0.9l1 -0.6l2 -3.7l2 -1.5l2 1.1l2 2.8l5 11.4l4 2.1l1 -0.2l3 -6l1 0.9l3 7.5" stroke="#2a6a2a" stroke-width="1.3"/>
<path d="M1015 4550.8l2 -3l3 -2.5l1 -1.8l3 -8.8l2 -0.3l4 2.5l1 -0.8l2 -4.6l1 -0.8l8 1.7l4 5.9l3 -4l3 1l2 -0.3l4 -4l1 -0.1l3 3l1 0.1l5 -8.1l2 -0.9l2 1.4l3 5.4l1 -0.2l1 -1.1l3 3.6l3 -2l2 3.6" stroke="#606060" stroke-width="1.2"/>
<path d="M1000 4545l2 -10.2l1 -1.6l2 2.9l1 -0.3l1 -4.8l2 -18.7l1 2.8l2 16.4l1 4.5l1 1l6 -8.7l1 0.1l4 4.1l3 1.1l3 2.3l4 1l1 -0.3l3 -10.8l1 -0.7l1 -14.6l2.7 -240.8l3.3 239.7l1 17l1 5.1l1 1.7l1 0.1l1 0.9l3 5l1 -1l2 -5.1l1 0.3l2 4.6l1 0.2l1 -6.9l3 -148.7l3 132.9l1 10.9l1 1.8l2 -1.9l1 -0.2l2 1.4l1 -1.1l1 -0.2l2 5.7l1 0.3l1 -12.8l2 -62.6l2 58.3l1 13.8l1 2.3l1 -1.9l3 -23.4l1 -0.3l2 18.3" stroke="#202020" stroke-width="1.4"/>
<path d="M677 4531.3l1.5 15.3l1.5 1.9l1.5 -1.5l1.5 0.3l1.5 1.2l1.5 -1.6l4.5 3.6l3 -2.7l1.5 -0.3l1.5 -3.7l1.5 0.6l1.5 -0.8l3 5.4l1.5 -1.1l1.5 -18.8l2.1 -72.2l2.4 70.8l1.5 18.7l4.5 2.5l1.5 -1.1l1.5 3l1.5 0.1l4.5 -6.3l1.5 3.6l3 -1.2l3 -15.4l3 15.2l3 4l1.5 -2.1l1.5 0.4l3 -1.9l6 1.2l1.5 1.9l1.5 -0.4l4.5 -4.6l4.5 3l1.5 -3.5l1.5 -10.2l1.5 1.5l1.5 9.4l3 5.2l3 -7.2l1.5 -0.3l3 5.8l1.5 1.5l1.5 -5.6l2.5 -35.5l3.5 38.2l1.5 1.6l1.5 -1.1l1.5 0.5l1.5 -1.2l1.5 -4.3l1.5 -0.2l1.5 0.8l1.5 3.7l3 -3.8l1.5 0.8l1.5 -0.1l1.5 3.3l3 3.2l3 -4.2l1.5 2.3l1.5 0.3l1.5 1.2l1.5 -2l1.5 2.3l1.5 0.3l1.5 -2.2l3 -8.4l1.5 -2.4l1.5 2.4l1.5 6l3 4.2l1.5 0.4l1.5 -2.6l1.5 1.3l1.5 -4.1l1.5 0.2l1.5 -0.7l3 2.5l1.5 0.5l1.5 -1.2l1.5 -4.4l1.5 -8.7l1.5 -1.1l3 7.5l1.5 6.8l1.5 2.6l1.5 0.9l1.5 -2.6l1.5 0.4l3 -6.3l1.5 1.2l1.5 2.6l3 2.7l1.5 0.3l1.5 -1.8l1.5 2.1l1.5 0.6l1.5 -3.1l1.5 -0.9l1.5 0.6l1.5 -2.4l1.5 1.6l3 1l1.5 1.9l3 -2.5l1.5 -3.1l3 2.4l1.5 0.5l1.5 2.3l1.5 1.1l1.5 -0.7l1.5 0.8l1.5 -0.2l1.5 -1.2l1.5 2.8l1.5 0l1.5 -1.3l1.5 1.5l1.5 -1.4l1.5 0.6l1.5 -2.7l1.5 0.1l1.5 -1.7l1.5 -0.7l1.5 0.1l3 5l3 -2.2l1.5 2.4l3 -0.3l1.5 -3.8l4.5 2.6l1.5 -0.9l1.5 1.3l4.5 -18.2l1.5 1l4.5 14.3l1.5 2.5l1.5 1.3l1.5 -2.9l3 -0l3 1.5l1.5 1.4l1.5 -1.8l1.5 1l1.5 -0l1.5 -1l3 -3.8l1.5 2.2l3 1.7l1.5 0l1.5 -3.6l1.5 0.9l1.5 3l1.5 1.1l1.5 -1.7l1.5 1.5l1.5 -3.4l1.5 0.9l1.5 -0.9l1.5 2.1l1.5 -0.8l1.5 1.5l1.5 -1.4l1.5 1.2l3 -4.6l3 2.3l1.5 2.5l3 -0.4l4.5 -6.8l1.5 3.4l1.5 1.5l4.5 -2.1l1.5 -2.3l1.5 3.6l1.5 0.3l1.5 2.3l3 -1.2l4.5 1.2l1.5 -1.2l1.5 -0.3l3 -3l3 0.9l3 4.8l1.5 -1.6l1.5 0.2l1.5 -0.7l1.5 -2.8l1.5 0.4l1.5 -3l3 -0l3 4.9l1.5 -0.2l1.5 -1l1.5 -4.7l1.5 3.1l1.5 -0.2l1.5 4.2l1.5 -0.7l3 -5.5l3 1l1.5 3.2l3 -0.2l1.5 2.7l3 -1.8l1.5 0.6l1.5 2l1.5 -2.4l1.5 -0.1l1.5 -2.2l3 5.3l1.5 -2.4l1.5 0.3l3 2.1l1.5 -0.7l1.5 -1.9l1.5 0.3l1.5 -0.9l1.5 1.9l3 -3.8l3 2.4l1.5 2l1.5 -1.2l1.5 1l6 -2.8l3 0.8l1.5 -1.4l1.5 3.2l1.5 0.3l1.5 -1.4l3 -1.1l3 -2.9l1.5 1.2l1.5 3.1l1.5 -0.6l1.5 2l3 -2.5l3 -1.2l1.5 -0l1.5 -0.9l1.5 1.2l1.5 -0.7l1.5 2.6l1.5 0.7l1.5 -2l3 -9.4l1.5 3.3l1.5 6.4l1.5 -0.2l1.5 2l1.5 -3.4l1.5 1.2l1.5 0.4l3 -1.2l1.5 -19.9l1.5 -32.2l3 51.2l4.5 4l1.5 -1.9l1.5 0.8l1.5 -1.4l1.5 1l1.5 -0.7l1.5 1.9l1.5 -1.5l1.5 0l1.5 2.5l1.5 -0.6l1.5 -4.7l1.5 -8.6l3 11.1l4.5 -0.1l1.5 1.2l3 -4.8l1.5 2.6l3 1.3l1.5 -4.1l3 0.8l1.5 4.3l1.5 -0l1.5 1.3l1.5 0l1.5 -0.4l1.5 -1.3l1.5 -0.1l1.5 -5.2l1.5 0.3l1.5 -0.4l1.5 1.5l1.5 3.6l3 0.5l1.5 1.3l1.5 -2.4l1.5 -0.9l1.5 0l1.5 -2.8l3 5l1.5 -1.1l1.5 -0.3l1.5 -2.3l1.5 -0.7l1.5 3.8l1.5 -0.8l1.5 1.4l3 -1.2l3 1.9l1.5 -0.6l1.5 -1.8l1.5 0.1l1.5 2.1l1.5 -0.9l1.5 0.7l1.5 -1.8l1.5 -1l1.5 -0.2l3 2.1l1.5 -2.3l3 -13.4l1.5 1.7l1.5 8.2l1.5 3l3 0.4l1.5 2.2l1.5 -0.3l1.5 1.5l1.5 0.4l1.5 -1.8l4.5 -14.9l1.5 1l1.5 4.4l1.5 7.5l1.5 2.8l3 -2.2l1.5 -5.1l1.5 -0.6l1.5 3.3l1.5 0.5l1.5 2.9l1.5 -1.2l1.5 -0.2l3 -3.8l1.5 3.3l3 3.3l1.5 0.2l3 -1l1.5 -1.8l1.5 1.2l1.5 -0.2l1.5 0.7l1.5 -2.8l1.5 -0.6l1.5 0.9l1.5 2.5l1.5 -1.6l3 1l1.5 -1.6l4.5 2.3l1.5 0.4l1.5 -1l1.5 1.2l3 -4.4l1.5 -1.3l1.5 -0.4l1.5 0.8l3 5.8l1.5 -1.9l1.5 -4.1l1.5 -10.8l1.5 -2.7l1.5 4.5l1.5 8.1l1.5 4.6l1.5 1.6l1.5 0.4l1.5 -3.9l1.5 -1.1l4.5 0.9l1.5 2.4l3 1.6l3 -1l1.5 -2.9l1.5 0.7l1.5 1.6l1.5 -0.3l1.5 3l1.5 -1.5l1.5 0.3l1.5 -1.6l1.5 1.1l1.5 -0.7l1.5 0.8l1.5 1.9l3 -3.6l1.5 0.9l3 -6l3 1.4l1.5 1.8l1.5 3.4l1.5 -1.5l1.5 2.7l1.5 -0.1l1.5 -3.8l1.5 -11.6l1.5 -3.1l1.5 12.2l1.5 4.9l1.5 0.5l1.5 -3.6l2.8 -70.6l1.7 47.7l1.5 21.5l1.5 0.6l1.5 3.4l1.5 -0.1l1.5 1.1l1.5 -2.5l3 1.9l1.5 1.9l1.5 -0.7l3 1.3l1.5 -2.1l1.5 -0.9l1.5 -2.8l1.5 -0.3l1.5 3.5l1.5 -1.5l1.5 2.8l3 0.7l1.5 -4.2l1.5 1.2l1.5 -1.3l1.5 -0.1l3 -12.4l1.5 -2.8l1.5 -1l1.5 3.1l3 10.6l1.5 -0.3l1.5 -1.1l3 6.5l1.5 0.2l3 1.5l1.5 -3.4l1.5 -0.4l1.5 -1.8l2.9 -71.7l1.6 48.3l1.5 24.3l1.5 4.3l3 -1.5l1.5 1.6l1.5 -2.9l1.5 0.8l1.5 -1.7l1.5 2.2l3 2l1.5 -0.8l3 1.2l1.5 -1.8l1.5 0.2l1.5 -4.1l1.5 -1.6l1.5 3.2l3 3.6l1.5 -1.6l1.5 -6.1l1.5 -12.7l1.5 1.7l1.5 11.6l1.5 6.2l1.5 1.1l3 -2.4l3 2.3l1.5 -1.2l1.5 1.6l1.5 -3l1.5 -1l1.5 0.3l1.5 1.3l1.5 -1.1l1.5 3l1.5 0.7l3 -1.2l1.5 1.2l1.5 -1.3l1.5 -2.6l3 1.3l1.5 1.3l1.5 -0.7l3 2.4l1.5 -0.6l1.5 -1.9l1.5 0.8l3 -2.3l1.5 1.3l1.5 -0.4l1.5 1.1l1.5 -3.5l1.5 0.1l1.5 2.8l3 -0.2l1.5 2.4l1.5 -0.1l1.5 -2.1l1.5 0.8l1.5 -1.6l1.5 2.6l4.5 -0.2l3 -2.9l3 -1.5l1.5 0.1l1.5 1.1l1.5 2.4l1.5 -0.3l1.5 -1.5l1.5 1.2l3 -0.9l1.5 2.5l1.5 -1.2l1.5 0.7l1.5 -3.5l1.5 -1.2l1.5 2.2l1.5 -0.3l1.5 2.4l1.5 -0.9l3 0.1l1.5 0.8l1.5 2l1.5 0.4l1.5 -1.3l3 0.6l1.5 -0.7l1.5 0.2l1.5 -2.1l3 0.9l1.5 1.6l1.5 0.6l1.5 -2.5l1.5 2.1l1.5 -1.7l3 -1.5l1.5 0.7l1.5 -1l1.5 3.2l3 -1.8l1.5 1.8l1.5 -1.6l1.5 1.2l1.5 -3l1.5 -0.9l1.5 -2.1l1.5 2.5l1.5 0.2l1.5 3.2l1.5 0.8l1.5 -0.8l1.5 0.4l1.5 -1.8l1.5 0.4l1.5 -3l3 -0.8l1.5 2.6l1.5 -0.5l1.5 3l1.5 -2.3l1.5 -0.5l1.5 -1.7l1.5 3.1l3 0.4l1.5 -0.7l1.5 1l1.5 -3.7l1.5 -2.3l1.5 -1.2l3 4.7l1.5 -1l1.5 4.2l1.5 -2.5l3 -3.3l1.5 -8l1.5 -2.7l4.5 13.7l3 1.2l3 -2.9l1.5 0.7l1.5 -0.5l1.5 0.5l4.5 -6.3l1.5 -3.5l1.5 -1.2l1.5 4l1.5 0.6l1.5 2.2l1.5 0.8l1.5 -1.2l3 -4.5l1.5 -1l3 3.7l1.5 2.9l1.5 -1.7l3 0.6l4.5 -3.3l1.5 2.6l1.5 -1.5l3 -0.7l1.5 0.3l1.5 2.5l1.5 -1.3l1.5 0.3l1.5 -0.5l1.5 -3.1l3 -14.3l1.5 -0.5l4.5 16.1l6 1.8l1.5 -1l1.5 -0.2l1.5 2.2l1.5 0.2l1.5 -0.9l1.5 -2.4l1.5 0.3l3 2.2l1.5 0.4l3 -2.2l1.5 1l3 -5.1l1.5 -1.4" stroke="#f020f0" stroke-width="1.7"/>
<path d="M677 4551.1l1.5 -6.4l3 -5.2l3 8l1.5 -0.2l1.5 -6.4l1.5 -0.5l1.5 0.3l3 7.2l1.5 -3.1l1.5 -1.3l1.5 -4.7l1.5 3.1l1.5 0l1.5 -4.3l1.5 -0.7l1.5 3.5l1.5 1.9l3 -3.6l1.5 4.8l1.5 1.8l1.5 3.2l1.5 0.3l1.5 -2.8l1.5 -1.1l1.5 -4.1l1.5 4.2l1.5 -0.7l1.5 3.7l1.5 -2.6l1.5 -1.3l1.5 1.7l3 -2l1.5 -0.3l1.5 1.3l1.5 -4.5l1.5 -0.4l1.5 4.3l1.5 0.9l3 0.1l1.5 -3.8l1.5 -0.7l1.5 1.9l3 0.4l1.5 1.6l1.5 -1l1.5 2.1l3 0.5l1.5 -0.6l3 -27.9l1.5 4.2l3 23.4l3 4.7l1.5 -2.6l1.5 -0.8l1.5 -0.7l1.5 1l6 -7.9l1.5 3.7l1.5 -0.7l1.5 5l3 -0.4l1.5 -0.8l1.5 -5.6l4.5 7.5l1.5 -1.6l3 -0l1.5 -24.8l3 -283l0.8 37.1l2.2 220.4l1.5 44.3l1.5 1l1.5 3.2l1.5 0.9l1.5 2.6l3 0.5l3 -10.1l1.5 -2.2l3 7.5l1.5 -0.5l3 -15l1.5 -0.1l1.5 3.8l1.5 1.9l1.5 0.9l1.5 3.8l1.5 1.5l1.5 0.5l4.5 -0.9l1.5 5.5l1.5 -0.1l1.5 -4.7l1.5 1.5l1.5 -0.9l1.5 1.6l1.5 -0.4l1.5 -39.6l2.3 -167.1l0.8 23.4l1.4 108.5l1.5 66.9l1.5 9.4l3 1.4l1.5 -0.8l1.5 0.5l1.5 -1.4l1.5 -6.5l3 2.8l1.5 2.5l1.5 -2.6l1.5 -10.5l1.5 -33.8l0.5 -1l2.5 46.4l1.5 3.9l1.5 -0.4l1.5 -4.1l1.5 3.9l1.5 1.2l1.5 0.3l1.5 1.9l1.5 -1.2l1.5 2.1l1.5 -2l1.5 2.6l1.5 -3.8l1.5 -1.1l1.5 -0.4l1.5 1.4l1.5 -1.5l1.5 1.3l3 -2.8l7.5 4.9l1.5 -0.2l1.5 -1.2l1.5 -2.1l1.5 1.1l1.5 -4.1l1.5 -40.3l2.1 -99.2l0.8 15.5l1.6 77.6l1.5 38.5l1.5 10.5l3 2.2l1.5 -2.1l1.5 1.7l1.5 3l3 -6.1l1.5 -1.8l1.5 -4.3l3 8.5l1.5 0.5l1.5 1.6l4.5 -23.9l3 7.2l1.5 6.5l1.5 -0.2l1.5 6.8l3 3.7l1.5 0.5l1.5 -2.9l1.5 1.7l1.5 -2.5l4.5 3.1l1.5 -1.5l1.5 3.3l1.5 -1.2l1.5 -4.9l1.5 -1.8l1.5 1.4l3 1.5l1.5 -0.6l1.5 1.9l1.5 0.2l1.5 1.8l3 -9.2l1.5 2l1.5 0.5l1.5 4.6l1.5 0.2l1.5 -1.6l3 -0.7l1.5 0.7l1.5 3.9l1.5 -3.4l1.5 1.4l1.5 -2l1.5 1.9l3 -2l1.5 0.4l1.5 2l1.5 -2.2l1.5 -6l1.5 -14.9l1.5 -4l1.5 -0.9l3 -207l3 209.9l1.5 19.2l1.5 0.3l1.5 -1.2l3 1.8l1.5 -0.4l1.5 -1.3l1.5 -1.8l1.5 -26.8l3.2 -393.7l0.8 50.2l2 290.2l1.5 75.2l1.5 10.5l1.5 2.8l1.5 0.7l1.5 -2.2l1.5 -0.7l1.5 0.5l1.5 -0.3l4.5 1.7l1.5 -0l3 -3.8l1.5 -0.2l1.5 -1.4l1.5 4.4l1.5 -2.5l1.5 -0.5l1.5 -7.1l1.5 4.9l1.5 2.1l1.5 -1.1l1.5 -6.2l3 9l1.5 0.9l1.5 -0.7l1.5 -4.4l1.5 0.4l1.5 2.2l4.5 3.7l1.5 -3.1l3 -3l1.5 4.1l3 0l3 -7.6l1.5 -0.2l1.5 -1.8l1.5 3.7l1.5 -4.4l3 8.6l1.5 -0.5l1.5 1.9l3 -6.4l4.5 6l1.5 -1l1.5 0l1.5 1.2l1.5 0.1l1.5 -0.9l1.5 1.5l1.5 -6.4l1.5 -0.2l1.5 0.7l1.5 2.1l1.5 0.3l1.5 -2l1.5 -0.5l1.5 -2.9l3 5.1l1.5 5.2l1.5 -2.6l1.5 -6.2l1.5 5.7l1.5 2.6l1.5 -1.2l1.5 -0.2l1.5 -5.3l1.5 -2.8l3 8.1l3 -7.9l1.5 2.9l1.5 0.1l1.5 6.1l1.5 0.3l1.5 -0.8l1.5 -3.9l1.5 -12.1l2.8 -127.9l3.2 133.4l1.5 3.7l1.5 1.7l3 0.6l1.5 -2.3l1.5 0.4l1.5 3.4l1.5 0.2l1.5 1.6l1.5 -3.5l1.5 -0.6l3 5.3l1.5 0.4l3 -5.6l1.5 -5.4l1.5 2.1l1.5 -0.8l1.5 1.3l1.5 5.3l1.5 2.8l1.5 -2.2l3 -8.8l3 11.7l3 -0.9l1.5 -6.1l1.5 0.3l1.5 3.2l1.5 1.3l1.5 -6.5l1.5 -3.1l3 9.7l1.5 -1.4l1.5 -5.4l1.5 -0.6l1.5 6.7l1.5 2.5l1.5 0.2l1.5 -7.6l3 0.7l1.5 3.5l3 2.5l1.5 -1.8l1.5 -0.1l3 -8.9l3 9.8l1.5 -4.8l1.5 -0.1l1.5 1.9l1.5 0.6l1.5 2.6l1.5 -4.9l1.5 -2.2l1.5 -1.1l1.5 1.1l3 -19.6l3 23.8l1.5 1.4l3 -8.5l1.5 -16l0.5 0.1l1 6.1l1.5 17.5l1.5 1.1l1.5 -2.4l1.5 1.1l3 -32.8l3 21.7l1.5 5.2l1.5 2.6l3 2.8l1.5 3l3 -5.1l1.5 1.6l1.5 -1.1l1.5 -0l1.5 -4.9l3 2.4l1.5 4.3l1.5 -3.9l2.4 -19.7l0.6 -1.1l0.6 1.8l2.4 20.4l3 -4.6l3 10.1l1.5 1.5l3 -9.6l3 7.2l1.5 -0.2l1.5 -5.6l3 -2.1l1.5 2.9l1.5 6.3l1.5 -1l1.5 1.5l1.5 -0.3l1.5 -4.6l1.5 1.1l1.5 4.8l1.5 -0.1l1.5 -2.6l1.5 1.5l3 -3.7l1.5 -1.1l1.5 4.4l1.5 0.1l1.5 -4l1.5 0.8l3 4.3l1.5 0.5l3 -3.2l3 -9.4l1.5 2l1.5 4.3l1.5 1.7l1.5 3.7l4.5 -10l1.5 3.5l1.5 1.2l3 5.3l1.5 -1.4l1.5 -0.2l1.5 -1.4l1.5 -2.6l1.5 0.1l3 5.6l4.5 -12.1l3.2 -38.3l2.8 38.2l1.5 0.8l1.5 2.2l3 -3.3l1.5 3.3l1.5 1.2l4.5 6.8l3 -5.2l1.5 -0.8l1.5 0.5l1.5 4.1l1.5 -1.1l1.5 2l1.5 -5l3 -6.3l4.5 10.8l1.5 1l1.5 0.2l1.5 -1.4l1.5 0.7l1.5 -1l3 -0.2l1.5 -2.5l3 5.7l3 -0.6l3 -6.6l1.5 -1.8l1.5 2l3 8.3l1.5 -2l1.5 -0.5l1.5 -5.8l1.5 -3.4l1.5 2l1.5 7.1l3 0.5l1.5 1l1.5 -3.8l3 1.2l1.5 3l1.5 -0.3l1.5 0.4l3 -7.1l1.5 -2.3l1.5 0.7l1.5 5.6l1.5 0.5l1.5 -3.9l3 -19.3l1.5 -5.5l4.5 -6.7l3 18.2l3 13.2l1.5 0.5l1.5 -2.2l3 6.4l1.5 -1.8l1.5 1.6l1.5 -0.2l1.5 -3.7l1.5 -1.8l4.5 7.3l4.5 -21.4l1.5 -3.3l4.5 20l1.5 0.1l1.5 -5.1l1.5 -1l1.5 6.4l1.5 1.4l3 -8l1.5 1.7l1.5 4.3l1.5 2.3l1.5 -0.5l1.5 -5l1.5 -1.6l1.5 0l1.5 2.8l3 -5.2l1.5 -12.5l1.5 1l1.5 4.8l1.5 7.9l3 6.9l1.5 -4.1l3 -0.1l4.5 1.3l1.5 -12.9l1.5 -25.7l3 41.5l1.5 2.4l1.5 -8.5l1.5 0.9l1.5 4.6l1.5 -0.5l1.5 -3.8l1.5 -1.1l1.5 3.4l1.5 6.1l1.5 0.4l3 -2.2l1.5 -4.4l1.5 -2.5l1.5 3.6l3 1.9l1.5 -4.6l1.5 2l1.5 4.8l1.5 2.9l4.5 -10.7l1.5 1.5l1.5 -0.6l1.5 -2.8l3 -12.9l3 8.7l1.5 9.2l1.5 1.7l1.5 -0.6l3 5.4l1.5 -1l3 -0.1l1.5 -5l1.7 -17.3l0.6 -0.4l0.6 1.8l1.6 15.8l1.5 6.6l1.5 -2l3 -0.5l1.5 -2l3 3l1.5 0.3l1.5 -1.4l3 -8.8l1.5 0.6l1.5 2.1l1.3 -1.5l0.6 -5.1l1.1 0.3l1.5 8.1l1.5 -3.6l1.5 1.7l3 8l1.5 0.4l1.5 -1l3 1.5l1.5 -0.6l1.5 2.4l1.5 -1.4l1.5 -7l1.5 1.1l1.5 -0.5l1.5 6.5l4.5 -0l1.5 -2.6l1.5 1.2l1.5 -1.7l1.5 1.2l1.5 -0.3l1.5 -2.2l1.5 -6.7l1.5 1l3 8.6l1.5 1.3l1.5 -0.5l1.5 -5.1l1.5 -2.6l3 8.2l1.5 -0.8l1.5 1.1l1.5 -6.2l2.5 -24.7l0.6 1.3l1.4 23.7l1.5 9.7l4.5 -3.6l1.5 1.3l1.5 -1.3l3 6.1l4.5 -0.7l1.5 -4.4l1.5 -1.3l1.5 -4.9l1.5 -12.1l1.5 -6.7l1.5 2.8l7.5 24.6l1.5 0.8l3 -5.8l1.5 -1.6l1.5 2.9l1.5 1.2l1.5 3.9l1.5 1.3l3 -3.8l1.5 0.8l1.5 -1.4l1.5 0.3l1.5 3.3l1.5 -5.9l1.5 -21.9l1.5 -1.3l1.5 17.1l1.5 7.6l1.5 2.9l1.5 -2.5l1.5 1.7l1.5 0.3l1.5 -0.1l1.5 -0.9l1.5 -2.6l1.5 -4.3l1.5 -0.6l3 7.8l1.5 -1.4l1.5 -4.7l3 -18.3l1.5 1.5l4.5 19.2l1.5 2.2l1.5 -5.7l1.5 -0.8l1.5 6.8" stroke="#2a2af0" stroke-width="1.8"/></g>
</svg>
</body></html>
